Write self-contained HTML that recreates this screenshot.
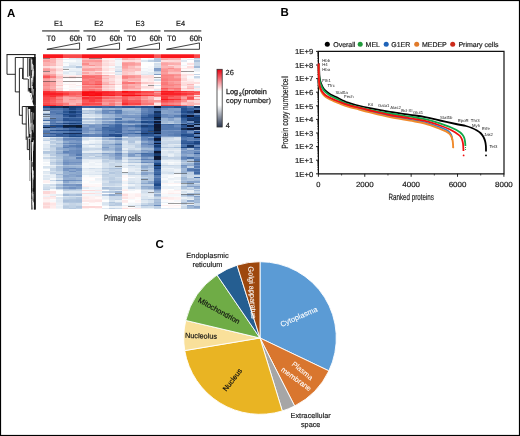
<!DOCTYPE html>
<html><head><meta charset="utf-8"><style>
html,body{margin:0;padding:0;background:#fff;}
svg{display:block;font-family:"Liberation Sans", sans-serif;will-change:transform;text-rendering:geometricPrecision;}
</style></head><body>
<svg width="520" height="436" viewBox="0 0 520 436">
<rect x="0" y="0" width="520" height="436" fill="#fff"/>
<defs><filter id="gb" x="-5%" y="-5%" width="110%" height="110%"><feGaussianBlur stdDeviation="0.22"/></filter><filter id="hb" x="-2%" y="-2%" width="104%" height="104%"><feGaussianBlur stdDeviation="0.35"/></filter><clipPath id="hc"><rect x="43" y="54.2" width="157.3" height="155.2"/></clipPath></defs>
<g clip-path="url(#hc)"><g filter="url(#hb)" shape-rendering="crispEdges"><rect x="43.00" y="54.20" width="6.61" height="1.71" fill="#fa141b"/>
<rect x="49.55" y="54.20" width="6.61" height="1.71" fill="#fa141b"/>
<rect x="56.11" y="54.20" width="6.61" height="1.71" fill="#fa141b"/>
<rect x="62.66" y="54.20" width="6.61" height="1.71" fill="#fa4648"/>
<rect x="69.22" y="54.20" width="6.61" height="1.71" fill="#fa4648"/>
<rect x="75.77" y="54.20" width="6.61" height="1.71" fill="#fa4648"/>
<rect x="82.33" y="54.20" width="6.61" height="1.71" fill="#fa141b"/>
<rect x="88.88" y="54.20" width="6.61" height="1.71" fill="#fa141b"/>
<rect x="95.43" y="54.20" width="6.61" height="1.71" fill="#fa141b"/>
<rect x="101.99" y="54.20" width="6.61" height="1.71" fill="#fa141b"/>
<rect x="108.54" y="54.20" width="6.61" height="1.71" fill="#fa141b"/>
<rect x="115.10" y="54.20" width="6.61" height="1.71" fill="#fa141b"/>
<rect x="121.65" y="54.20" width="6.61" height="1.71" fill="#fa141b"/>
<rect x="128.20" y="54.20" width="6.61" height="1.71" fill="#fa141b"/>
<rect x="134.76" y="54.20" width="6.61" height="1.71" fill="#fa141b"/>
<rect x="141.31" y="54.20" width="6.61" height="1.71" fill="#fa141b"/>
<rect x="147.87" y="54.20" width="6.61" height="1.71" fill="#fa141b"/>
<rect x="154.42" y="54.20" width="6.61" height="1.71" fill="#fa5456"/>
<rect x="160.98" y="54.20" width="6.61" height="1.71" fill="#fa141b"/>
<rect x="167.53" y="54.20" width="6.61" height="1.71" fill="#fa141b"/>
<rect x="174.08" y="54.20" width="6.61" height="1.71" fill="#fa141b"/>
<rect x="180.64" y="54.20" width="6.61" height="1.71" fill="#fa141b"/>
<rect x="187.19" y="54.20" width="6.61" height="1.71" fill="#fa141b"/>
<rect x="193.75" y="54.20" width="6.61" height="1.71" fill="#fa4648"/>
<rect x="43.00" y="55.85" width="6.61" height="1.71" fill="#fa141b"/>
<rect x="49.55" y="55.85" width="6.61" height="1.71" fill="#fa141b"/>
<rect x="56.11" y="55.85" width="6.61" height="1.71" fill="#fa141b"/>
<rect x="62.66" y="55.85" width="6.61" height="1.71" fill="#fa4648"/>
<rect x="69.22" y="55.85" width="6.61" height="1.71" fill="#fa4648"/>
<rect x="75.77" y="55.85" width="6.61" height="1.71" fill="#fa4648"/>
<rect x="82.33" y="55.85" width="6.61" height="1.71" fill="#fa141b"/>
<rect x="88.88" y="55.85" width="6.61" height="1.71" fill="#fa141b"/>
<rect x="95.43" y="55.85" width="6.61" height="1.71" fill="#fa141b"/>
<rect x="101.99" y="55.85" width="6.61" height="1.71" fill="#fa141b"/>
<rect x="108.54" y="55.85" width="6.61" height="1.71" fill="#fa141b"/>
<rect x="115.10" y="55.85" width="6.61" height="1.71" fill="#fa141b"/>
<rect x="121.65" y="55.85" width="6.61" height="1.71" fill="#fa141b"/>
<rect x="128.20" y="55.85" width="6.61" height="1.71" fill="#fa141b"/>
<rect x="134.76" y="55.85" width="6.61" height="1.71" fill="#fa141b"/>
<rect x="141.31" y="55.85" width="6.61" height="1.71" fill="#fa141b"/>
<rect x="147.87" y="55.85" width="6.61" height="1.71" fill="#fa141b"/>
<rect x="154.42" y="55.85" width="6.61" height="1.71" fill="#fa5456"/>
<rect x="160.98" y="55.85" width="6.61" height="1.71" fill="#fa141b"/>
<rect x="167.53" y="55.85" width="6.61" height="1.71" fill="#fa141b"/>
<rect x="174.08" y="55.85" width="6.61" height="1.71" fill="#fa141b"/>
<rect x="180.64" y="55.85" width="6.61" height="1.71" fill="#fa141b"/>
<rect x="187.19" y="55.85" width="6.61" height="1.71" fill="#fa141b"/>
<rect x="193.75" y="55.85" width="6.61" height="1.71" fill="#fa4648"/>
<rect x="43.00" y="57.50" width="6.61" height="1.52" fill="#fbb6b6"/>
<rect x="49.55" y="57.50" width="6.61" height="1.52" fill="#fbacac"/>
<rect x="56.11" y="57.50" width="6.61" height="1.52" fill="#fcdada"/>
<rect x="62.66" y="57.50" width="6.61" height="1.52" fill="#f9fbfc"/>
<rect x="69.22" y="57.50" width="6.61" height="1.52" fill="#dfe8f2"/>
<rect x="75.77" y="57.50" width="6.61" height="1.52" fill="#d8e4ef"/>
<rect x="82.33" y="57.50" width="6.61" height="1.52" fill="#fbabab"/>
<rect x="88.88" y="57.50" width="6.61" height="1.52" fill="#fba7a7"/>
<rect x="95.43" y="57.50" width="6.61" height="1.52" fill="#fba8a8"/>
<rect x="101.99" y="57.50" width="6.61" height="1.52" fill="#fde1e1"/>
<rect x="108.54" y="57.50" width="6.61" height="1.52" fill="#feeaea"/>
<rect x="115.10" y="57.50" width="6.61" height="1.52" fill="#e5edf4"/>
<rect x="121.65" y="57.50" width="6.61" height="1.52" fill="#fbaaaa"/>
<rect x="128.20" y="57.50" width="6.61" height="1.52" fill="#fbbcbc"/>
<rect x="134.76" y="57.50" width="6.61" height="1.52" fill="#fccdcd"/>
<rect x="141.31" y="57.50" width="6.61" height="1.52" fill="#fdfefe"/>
<rect x="147.87" y="57.50" width="6.61" height="1.52" fill="#f8fafc"/>
<rect x="154.42" y="57.50" width="6.61" height="1.52" fill="#b8cbe1"/>
<rect x="160.98" y="57.50" width="6.61" height="1.52" fill="#fbabab"/>
<rect x="167.53" y="57.50" width="6.61" height="1.52" fill="#fbafaf"/>
<rect x="174.08" y="57.50" width="6.61" height="1.52" fill="#fbb2b2"/>
<rect x="180.64" y="57.50" width="6.61" height="1.52" fill="#fef0f0"/>
<rect x="187.19" y="57.50" width="6.61" height="1.52" fill="#fffdfd"/>
<rect x="193.75" y="57.50" width="6.61" height="1.52" fill="#b9cbe1"/>
<rect x="43.00" y="58.96" width="6.61" height="1.52" fill="#fbb1b1"/>
<rect x="49.55" y="58.96" width="6.61" height="1.52" fill="#fbb0b0"/>
<rect x="56.11" y="58.96" width="6.61" height="1.52" fill="#fcd3d3"/>
<rect x="62.66" y="58.96" width="6.61" height="1.52" fill="#e9f0f6"/>
<rect x="69.22" y="58.96" width="6.61" height="1.52" fill="#ebf1f7"/>
<rect x="75.77" y="58.96" width="6.61" height="1.52" fill="#e7eef5"/>
<rect x="82.33" y="58.96" width="6.61" height="1.52" fill="#fbbdbd"/>
<rect x="88.88" y="58.96" width="6.61" height="1.52" fill="#fbb2b2"/>
<rect x="95.43" y="58.96" width="6.61" height="1.52" fill="#fbbebe"/>
<rect x="101.99" y="58.96" width="6.61" height="1.52" fill="#fef4f4"/>
<rect x="108.54" y="58.96" width="6.61" height="1.52" fill="#fef4f4"/>
<rect x="115.10" y="58.96" width="6.61" height="1.52" fill="#e0e9f2"/>
<rect x="121.65" y="58.96" width="6.61" height="1.52" fill="#fba7a7"/>
<rect x="128.20" y="58.96" width="6.61" height="1.52" fill="#fbb5b5"/>
<rect x="134.76" y="58.96" width="6.61" height="1.52" fill="#fcc7c7"/>
<rect x="141.31" y="58.96" width="6.61" height="1.52" fill="#f7f9fc"/>
<rect x="147.87" y="58.96" width="6.61" height="1.52" fill="#e9eff6"/>
<rect x="154.42" y="58.96" width="6.61" height="1.52" fill="#b0c4dd"/>
<rect x="160.98" y="58.96" width="6.61" height="1.52" fill="#fba4a4"/>
<rect x="167.53" y="58.96" width="6.61" height="1.52" fill="#fbb3b3"/>
<rect x="174.08" y="58.96" width="6.61" height="1.52" fill="#fbb5b5"/>
<rect x="180.64" y="58.96" width="6.61" height="1.52" fill="#fef4f4"/>
<rect x="187.19" y="58.96" width="6.61" height="1.52" fill="#e2ebf3"/>
<rect x="193.75" y="58.96" width="6.61" height="1.52" fill="#d3e0ed"/>
<rect x="43.00" y="60.42" width="6.61" height="1.52" fill="#fa9c9c"/>
<rect x="49.55" y="60.42" width="6.61" height="1.52" fill="#fbb3b3"/>
<rect x="56.11" y="60.42" width="6.61" height="1.52" fill="#fddede"/>
<rect x="62.66" y="60.42" width="6.61" height="1.52" fill="#fdfefe"/>
<rect x="69.22" y="60.42" width="6.61" height="1.52" fill="#f9fbfc"/>
<rect x="75.77" y="60.42" width="6.61" height="1.52" fill="#ecf1f7"/>
<rect x="82.33" y="60.42" width="6.61" height="1.52" fill="#fa9b9b"/>
<rect x="88.88" y="60.42" width="6.61" height="1.52" fill="#fa9999"/>
<rect x="95.43" y="60.42" width="6.61" height="1.52" fill="#fa9696"/>
<rect x="101.99" y="60.42" width="6.61" height="1.52" fill="#fcdada"/>
<rect x="108.54" y="60.42" width="6.61" height="1.52" fill="#fde6e6"/>
<rect x="115.10" y="60.42" width="6.61" height="1.52" fill="#f3f6fa"/>
<rect x="121.65" y="60.42" width="6.61" height="1.52" fill="#fddede"/>
<rect x="128.20" y="60.42" width="6.61" height="1.52" fill="#fcdada"/>
<rect x="134.76" y="60.42" width="6.61" height="1.52" fill="#fde0e0"/>
<rect x="141.31" y="60.42" width="6.61" height="1.52" fill="#dbe6f0"/>
<rect x="147.87" y="60.42" width="6.61" height="1.52" fill="#c0d1e4"/>
<rect x="154.42" y="60.42" width="6.61" height="1.52" fill="#afc3dd"/>
<rect x="160.98" y="60.42" width="6.61" height="1.52" fill="#fddede"/>
<rect x="167.53" y="60.42" width="6.61" height="1.52" fill="#fcdada"/>
<rect x="174.08" y="60.42" width="6.61" height="1.52" fill="#fcd7d7"/>
<rect x="180.64" y="60.42" width="6.61" height="1.52" fill="#dee7f1"/>
<rect x="187.19" y="60.42" width="6.61" height="1.52" fill="#ffffff"/>
<rect x="193.75" y="60.42" width="6.61" height="1.52" fill="#abc1db"/>
<rect x="43.00" y="61.88" width="6.61" height="1.52" fill="#fbb1b1"/>
<rect x="49.55" y="61.88" width="6.61" height="1.52" fill="#fbb1b1"/>
<rect x="56.11" y="61.88" width="6.61" height="1.52" fill="#fde1e1"/>
<rect x="62.66" y="61.88" width="6.61" height="1.52" fill="#e9f0f6"/>
<rect x="69.22" y="61.88" width="6.61" height="1.52" fill="#ecf2f7"/>
<rect x="75.77" y="61.88" width="6.61" height="1.52" fill="#eaf0f6"/>
<rect x="82.33" y="61.88" width="6.61" height="1.52" fill="#fba9a9"/>
<rect x="88.88" y="61.88" width="6.61" height="1.52" fill="#fbb2b2"/>
<rect x="95.43" y="61.88" width="6.61" height="1.52" fill="#fbaeae"/>
<rect x="101.99" y="61.88" width="6.61" height="1.52" fill="#fde3e3"/>
<rect x="108.54" y="61.88" width="6.61" height="1.52" fill="#fef0f0"/>
<rect x="115.10" y="61.88" width="6.61" height="1.52" fill="#f2f6fa"/>
<rect x="121.65" y="61.88" width="6.61" height="1.52" fill="#fba9a9"/>
<rect x="128.20" y="61.88" width="6.61" height="1.52" fill="#fba6a6"/>
<rect x="134.76" y="61.88" width="6.61" height="1.52" fill="#fcc5c5"/>
<rect x="141.31" y="61.88" width="6.61" height="1.52" fill="#fdfefe"/>
<rect x="147.87" y="61.88" width="6.61" height="1.52" fill="#fdfefe"/>
<rect x="154.42" y="61.88" width="6.61" height="1.52" fill="#f1f5f9"/>
<rect x="160.98" y="61.88" width="6.61" height="1.52" fill="#fbb0b0"/>
<rect x="167.53" y="61.88" width="6.61" height="1.52" fill="#fbbaba"/>
<rect x="174.08" y="61.88" width="6.61" height="1.52" fill="#fbbfbf"/>
<rect x="180.64" y="61.88" width="6.61" height="1.52" fill="#fffafa"/>
<rect x="187.19" y="61.88" width="6.61" height="1.52" fill="#fffafa"/>
<rect x="193.75" y="61.88" width="6.61" height="1.52" fill="#cad8e8"/>
<rect x="43.00" y="63.33" width="6.61" height="1.52" fill="#fbb0b0"/>
<rect x="49.55" y="63.33" width="6.61" height="1.52" fill="#fbbcbc"/>
<rect x="56.11" y="63.33" width="6.61" height="1.52" fill="#fde0e0"/>
<rect x="62.66" y="63.33" width="6.61" height="1.52" fill="#f8fafc"/>
<rect x="69.22" y="63.33" width="6.61" height="1.52" fill="#e5ecf4"/>
<rect x="75.77" y="63.33" width="6.61" height="1.52" fill="#e4ecf4"/>
<rect x="82.33" y="63.33" width="6.61" height="1.52" fill="#fa8c8c"/>
<rect x="88.88" y="63.33" width="6.61" height="1.52" fill="#fbb4b4"/>
<rect x="95.43" y="63.33" width="6.61" height="1.52" fill="#fbafaf"/>
<rect x="101.99" y="63.33" width="6.61" height="1.52" fill="#fddcdc"/>
<rect x="108.54" y="63.33" width="6.61" height="1.52" fill="#fde7e7"/>
<rect x="115.10" y="63.33" width="6.61" height="1.52" fill="#f0f5f9"/>
<rect x="121.65" y="63.33" width="6.61" height="1.52" fill="#fa9494"/>
<rect x="128.20" y="63.33" width="6.61" height="1.52" fill="#fa9c9c"/>
<rect x="134.76" y="63.33" width="6.61" height="1.52" fill="#fba7a7"/>
<rect x="141.31" y="63.33" width="6.61" height="1.52" fill="#fdfefe"/>
<rect x="147.87" y="63.33" width="6.61" height="1.52" fill="#fdfefe"/>
<rect x="154.42" y="63.33" width="6.61" height="1.52" fill="#d1deec"/>
<rect x="160.98" y="63.33" width="6.61" height="1.52" fill="#fba2a2"/>
<rect x="167.53" y="63.33" width="6.61" height="1.52" fill="#fbabab"/>
<rect x="174.08" y="63.33" width="6.61" height="1.52" fill="#fbafaf"/>
<rect x="180.64" y="63.33" width="6.61" height="1.52" fill="#fcfdfe"/>
<rect x="187.19" y="63.33" width="6.61" height="1.52" fill="#fde2e2"/>
<rect x="193.75" y="63.33" width="6.61" height="1.52" fill="#c9d8e8"/>
<rect x="43.00" y="64.79" width="6.61" height="1.52" fill="#fbabab"/>
<rect x="49.55" y="64.79" width="6.61" height="1.52" fill="#fbb8b8"/>
<rect x="56.11" y="64.79" width="6.61" height="1.52" fill="#fcdada"/>
<rect x="62.66" y="64.79" width="6.61" height="1.52" fill="#fcfdfe"/>
<rect x="69.22" y="64.79" width="6.61" height="1.52" fill="#d7e2ee"/>
<rect x="75.77" y="64.79" width="6.61" height="1.52" fill="#ebf1f7"/>
<rect x="82.33" y="64.79" width="6.61" height="1.52" fill="#fba5a5"/>
<rect x="88.88" y="64.79" width="6.61" height="1.52" fill="#fa9292"/>
<rect x="95.43" y="64.79" width="6.61" height="1.52" fill="#fbadad"/>
<rect x="101.99" y="64.79" width="6.61" height="1.52" fill="#fcd9d9"/>
<rect x="108.54" y="64.79" width="6.61" height="1.52" fill="#fde0e0"/>
<rect x="115.10" y="64.79" width="6.61" height="1.52" fill="#f2f6f9"/>
<rect x="121.65" y="64.79" width="6.61" height="1.52" fill="#fa9898"/>
<rect x="128.20" y="64.79" width="6.61" height="1.52" fill="#fba4a4"/>
<rect x="134.76" y="64.79" width="6.61" height="1.52" fill="#fbb2b2"/>
<rect x="141.31" y="64.79" width="6.61" height="1.52" fill="#fdfefe"/>
<rect x="147.87" y="64.79" width="6.61" height="1.52" fill="#fdfefe"/>
<rect x="154.42" y="64.79" width="6.61" height="1.52" fill="#d7e2ee"/>
<rect x="160.98" y="64.79" width="6.61" height="1.52" fill="#fbadad"/>
<rect x="167.53" y="64.79" width="6.61" height="1.52" fill="#fcd7d7"/>
<rect x="174.08" y="64.79" width="6.61" height="1.52" fill="#fccbcb"/>
<rect x="180.64" y="64.79" width="6.61" height="1.52" fill="#f1f5f9"/>
<rect x="187.19" y="64.79" width="6.61" height="1.52" fill="#fffbfb"/>
<rect x="193.75" y="64.79" width="6.61" height="1.52" fill="#c9d8e8"/>
<rect x="43.00" y="66.25" width="6.61" height="1.52" fill="#fcdada"/>
<rect x="49.55" y="66.25" width="6.61" height="1.52" fill="#fde4e4"/>
<rect x="56.11" y="66.25" width="6.61" height="1.52" fill="#fef1f1"/>
<rect x="62.66" y="66.25" width="6.61" height="1.52" fill="#d6e2ee"/>
<rect x="69.22" y="66.25" width="6.61" height="1.52" fill="#cfddeb"/>
<rect x="75.77" y="66.25" width="6.61" height="1.52" fill="#b0c5dd"/>
<rect x="82.33" y="66.25" width="6.61" height="1.52" fill="#fcc3c3"/>
<rect x="88.88" y="66.25" width="6.61" height="1.52" fill="#fccdcd"/>
<rect x="95.43" y="66.25" width="6.61" height="1.52" fill="#fcc4c4"/>
<rect x="101.99" y="66.25" width="6.61" height="1.52" fill="#feebeb"/>
<rect x="108.54" y="66.25" width="6.61" height="1.52" fill="#f7fafc"/>
<rect x="115.10" y="66.25" width="6.61" height="1.52" fill="#dce6f0"/>
<rect x="121.65" y="66.25" width="6.61" height="1.52" fill="#fba0a0"/>
<rect x="128.20" y="66.25" width="6.61" height="1.52" fill="#fbbdbd"/>
<rect x="134.76" y="66.25" width="6.61" height="1.52" fill="#fcd5d5"/>
<rect x="141.31" y="66.25" width="6.61" height="1.52" fill="#fdfefe"/>
<rect x="147.87" y="66.25" width="6.61" height="1.52" fill="#f7f9fc"/>
<rect x="154.42" y="66.25" width="6.61" height="1.52" fill="#cfddeb"/>
<rect x="160.98" y="66.25" width="6.61" height="1.52" fill="#fbb5b5"/>
<rect x="167.53" y="66.25" width="6.61" height="1.52" fill="#fbb3b3"/>
<rect x="174.08" y="66.25" width="6.61" height="1.52" fill="#fccfcf"/>
<rect x="180.64" y="66.25" width="6.61" height="1.52" fill="#fffafa"/>
<rect x="187.19" y="66.25" width="6.61" height="1.52" fill="#fddcdc"/>
<rect x="193.75" y="66.25" width="6.61" height="1.52" fill="#a3bad7"/>
<rect x="43.00" y="67.71" width="6.61" height="1.52" fill="#fba9a9"/>
<rect x="49.55" y="67.71" width="6.61" height="1.52" fill="#fcc9c9"/>
<rect x="56.11" y="67.71" width="6.61" height="1.52" fill="#fddfdf"/>
<rect x="62.66" y="67.71" width="6.61" height="1.52" fill="#e8eff5"/>
<rect x="69.22" y="67.71" width="6.61" height="1.52" fill="#f1f5f9"/>
<rect x="75.77" y="67.71" width="6.61" height="1.52" fill="#e7eef5"/>
<rect x="82.33" y="67.71" width="6.61" height="1.52" fill="#fbabab"/>
<rect x="88.88" y="67.71" width="6.61" height="1.52" fill="#fba5a5"/>
<rect x="95.43" y="67.71" width="6.61" height="1.52" fill="#fba5a5"/>
<rect x="101.99" y="67.71" width="6.61" height="1.52" fill="#fde1e1"/>
<rect x="108.54" y="67.71" width="6.61" height="1.52" fill="#fde7e7"/>
<rect x="115.10" y="67.71" width="6.61" height="1.52" fill="#e8eef5"/>
<rect x="121.65" y="67.71" width="6.61" height="1.52" fill="#fba9a9"/>
<rect x="128.20" y="67.71" width="6.61" height="1.52" fill="#fbb7b7"/>
<rect x="134.76" y="67.71" width="6.61" height="1.52" fill="#fbbdbd"/>
<rect x="141.31" y="67.71" width="6.61" height="1.52" fill="#f0f4f9"/>
<rect x="147.87" y="67.71" width="6.61" height="1.52" fill="#f7f9fc"/>
<rect x="154.42" y="67.71" width="6.61" height="1.52" fill="#819ec8"/>
<rect x="160.98" y="67.71" width="6.61" height="1.52" fill="#fb9f9f"/>
<rect x="167.53" y="67.71" width="6.61" height="1.52" fill="#fa8c8c"/>
<rect x="174.08" y="67.71" width="6.61" height="1.52" fill="#fba6a6"/>
<rect x="180.64" y="67.71" width="6.61" height="1.52" fill="#fde6e6"/>
<rect x="187.19" y="67.71" width="6.61" height="1.52" fill="#fde9e9"/>
<rect x="193.75" y="67.71" width="6.61" height="1.52" fill="#e8eff6"/>
<rect x="43.00" y="69.17" width="6.61" height="1.52" fill="#fa9b9b"/>
<rect x="49.55" y="69.17" width="6.61" height="1.52" fill="#fbb1b1"/>
<rect x="56.11" y="69.17" width="6.61" height="1.52" fill="#fcd7d7"/>
<rect x="62.66" y="69.17" width="6.61" height="1.52" fill="#fdfefe"/>
<rect x="69.22" y="69.17" width="6.61" height="1.52" fill="#eaf0f6"/>
<rect x="75.77" y="69.17" width="6.61" height="1.52" fill="#ebf1f7"/>
<rect x="82.33" y="69.17" width="6.61" height="1.52" fill="#fa9d9d"/>
<rect x="88.88" y="69.17" width="6.61" height="1.52" fill="#fb9f9f"/>
<rect x="95.43" y="69.17" width="6.61" height="1.52" fill="#fbaeae"/>
<rect x="101.99" y="69.17" width="6.61" height="1.52" fill="#fddede"/>
<rect x="108.54" y="69.17" width="6.61" height="1.52" fill="#feeeee"/>
<rect x="115.10" y="69.17" width="6.61" height="1.52" fill="#dfe8f2"/>
<rect x="121.65" y="69.17" width="6.61" height="1.52" fill="#fbb9b9"/>
<rect x="128.20" y="69.17" width="6.61" height="1.52" fill="#fcc3c3"/>
<rect x="134.76" y="69.17" width="6.61" height="1.52" fill="#fbbcbc"/>
<rect x="141.31" y="69.17" width="6.61" height="1.52" fill="#f6f9fb"/>
<rect x="147.87" y="69.17" width="6.61" height="1.52" fill="#f0f4f9"/>
<rect x="154.42" y="69.17" width="6.61" height="1.52" fill="#84a0c9"/>
<rect x="160.98" y="69.17" width="6.61" height="1.52" fill="#fa9696"/>
<rect x="167.53" y="69.17" width="6.61" height="1.52" fill="#fba8a8"/>
<rect x="174.08" y="69.17" width="6.61" height="1.52" fill="#fb9f9f"/>
<rect x="180.64" y="69.17" width="6.61" height="1.52" fill="#fef8f8"/>
<rect x="187.19" y="69.17" width="6.61" height="1.52" fill="#fef8f8"/>
<rect x="193.75" y="69.17" width="6.61" height="1.52" fill="#e6edf4"/>
<rect x="43.00" y="70.62" width="6.61" height="1.52" fill="#fcc3c3"/>
<rect x="49.55" y="70.62" width="6.61" height="1.52" fill="#fcc4c4"/>
<rect x="56.11" y="70.62" width="6.61" height="1.52" fill="#fde7e7"/>
<rect x="62.66" y="70.62" width="6.61" height="1.52" fill="#e7eef5"/>
<rect x="69.22" y="70.62" width="6.61" height="1.52" fill="#dbe5f0"/>
<rect x="75.77" y="70.62" width="6.61" height="1.52" fill="#dce6f0"/>
<rect x="82.33" y="70.62" width="6.61" height="1.52" fill="#fccaca"/>
<rect x="88.88" y="70.62" width="6.61" height="1.52" fill="#fccccc"/>
<rect x="95.43" y="70.62" width="6.61" height="1.52" fill="#fde1e1"/>
<rect x="101.99" y="70.62" width="6.61" height="1.52" fill="#fef6f6"/>
<rect x="108.54" y="70.62" width="6.61" height="1.52" fill="#fdfefe"/>
<rect x="115.10" y="70.62" width="6.61" height="1.52" fill="#bfd0e4"/>
<rect x="121.65" y="70.62" width="6.61" height="1.52" fill="#fcc8c8"/>
<rect x="128.20" y="70.62" width="6.61" height="1.52" fill="#fcc5c5"/>
<rect x="134.76" y="70.62" width="6.61" height="1.52" fill="#fde4e4"/>
<rect x="141.31" y="70.62" width="6.61" height="1.52" fill="#eaf0f6"/>
<rect x="147.87" y="70.62" width="6.61" height="1.52" fill="#f3f7fa"/>
<rect x="154.42" y="70.62" width="6.61" height="1.52" fill="#bacce2"/>
<rect x="160.98" y="70.62" width="6.61" height="1.52" fill="#fa9191"/>
<rect x="167.53" y="70.62" width="6.61" height="1.52" fill="#fbabab"/>
<rect x="174.08" y="70.62" width="6.61" height="1.52" fill="#fbaaaa"/>
<rect x="180.64" y="70.62" width="6.61" height="1.52" fill="#feeeee"/>
<rect x="187.19" y="70.62" width="6.61" height="1.52" fill="#fffbfb"/>
<rect x="193.75" y="70.62" width="6.61" height="1.52" fill="#eef3f8"/>
<rect x="43.00" y="72.08" width="6.61" height="1.52" fill="#fbb2b2"/>
<rect x="49.55" y="72.08" width="6.61" height="1.52" fill="#fcc6c6"/>
<rect x="56.11" y="72.08" width="6.61" height="1.52" fill="#feeded"/>
<rect x="62.66" y="72.08" width="6.61" height="1.52" fill="#e0e9f2"/>
<rect x="69.22" y="72.08" width="6.61" height="1.52" fill="#eff4f8"/>
<rect x="75.77" y="72.08" width="6.61" height="1.52" fill="#dee7f1"/>
<rect x="82.33" y="72.08" width="6.61" height="1.52" fill="#fba5a5"/>
<rect x="88.88" y="72.08" width="6.61" height="1.52" fill="#fcc2c2"/>
<rect x="95.43" y="72.08" width="6.61" height="1.52" fill="#fbadad"/>
<rect x="101.99" y="72.08" width="6.61" height="1.52" fill="#fde3e3"/>
<rect x="108.54" y="72.08" width="6.61" height="1.52" fill="#fde9e9"/>
<rect x="115.10" y="72.08" width="6.61" height="1.52" fill="#e7eef5"/>
<rect x="121.65" y="72.08" width="6.61" height="1.52" fill="#fcc7c7"/>
<rect x="128.20" y="72.08" width="6.61" height="1.52" fill="#fcd4d4"/>
<rect x="134.76" y="72.08" width="6.61" height="1.52" fill="#fde6e6"/>
<rect x="141.31" y="72.08" width="6.61" height="1.52" fill="#ecf1f7"/>
<rect x="147.87" y="72.08" width="6.61" height="1.52" fill="#e2ebf3"/>
<rect x="154.42" y="72.08" width="6.61" height="1.52" fill="#d0ddeb"/>
<rect x="160.98" y="72.08" width="6.61" height="1.52" fill="#fa9d9d"/>
<rect x="167.53" y="72.08" width="6.61" height="1.52" fill="#fcc2c2"/>
<rect x="174.08" y="72.08" width="6.61" height="1.52" fill="#fbc1c1"/>
<rect x="180.64" y="72.08" width="6.61" height="1.52" fill="#fff8f8"/>
<rect x="187.19" y="72.08" width="6.61" height="1.52" fill="#fbfcfd"/>
<rect x="193.75" y="72.08" width="6.61" height="1.52" fill="#fdfefe"/>
<rect x="43.00" y="73.54" width="6.61" height="1.52" fill="#fa9e9e"/>
<rect x="49.55" y="73.54" width="6.61" height="1.52" fill="#fba3a3"/>
<rect x="56.11" y="73.54" width="6.61" height="1.52" fill="#fcd8d8"/>
<rect x="62.66" y="73.54" width="6.61" height="1.52" fill="#eff4f8"/>
<rect x="69.22" y="73.54" width="6.61" height="1.52" fill="#edf2f7"/>
<rect x="75.77" y="73.54" width="6.61" height="1.52" fill="#d5e1ee"/>
<rect x="82.33" y="73.54" width="6.61" height="1.52" fill="#fcc4c4"/>
<rect x="88.88" y="73.54" width="6.61" height="1.52" fill="#fbbebe"/>
<rect x="95.43" y="73.54" width="6.61" height="1.52" fill="#fbc0c0"/>
<rect x="101.99" y="73.54" width="6.61" height="1.52" fill="#fef4f4"/>
<rect x="108.54" y="73.54" width="6.61" height="1.52" fill="#fffdfd"/>
<rect x="115.10" y="73.54" width="6.61" height="1.52" fill="#d9e4ef"/>
<rect x="121.65" y="73.54" width="6.61" height="1.52" fill="#fcc9c9"/>
<rect x="128.20" y="73.54" width="6.61" height="1.52" fill="#fcd7d7"/>
<rect x="134.76" y="73.54" width="6.61" height="1.52" fill="#fddede"/>
<rect x="141.31" y="73.54" width="6.61" height="1.52" fill="#dde7f1"/>
<rect x="147.87" y="73.54" width="6.61" height="1.52" fill="#e1eaf3"/>
<rect x="154.42" y="73.54" width="6.61" height="1.52" fill="#809dc7"/>
<rect x="160.98" y="73.54" width="6.61" height="1.52" fill="#fa8e8e"/>
<rect x="167.53" y="73.54" width="6.61" height="1.52" fill="#fa9090"/>
<rect x="174.08" y="73.54" width="6.61" height="1.52" fill="#fa9696"/>
<rect x="180.64" y="73.54" width="6.61" height="1.52" fill="#fde2e2"/>
<rect x="187.19" y="73.54" width="6.61" height="1.52" fill="#fde1e1"/>
<rect x="193.75" y="73.54" width="6.61" height="1.52" fill="#c3d3e6"/>
<rect x="43.00" y="75.00" width="6.61" height="1.48" fill="#fa7576"/>
<rect x="49.55" y="75.00" width="6.61" height="1.48" fill="#fa9c9c"/>
<rect x="56.11" y="75.00" width="6.61" height="1.48" fill="#fcd6d6"/>
<rect x="62.66" y="75.00" width="6.61" height="1.48" fill="#feeeee"/>
<rect x="69.22" y="75.00" width="6.61" height="1.48" fill="#fef0f0"/>
<rect x="75.77" y="75.00" width="6.61" height="1.48" fill="#feeaea"/>
<rect x="82.33" y="75.00" width="6.61" height="1.48" fill="#fa7373"/>
<rect x="88.88" y="75.00" width="6.61" height="1.48" fill="#fa8081"/>
<rect x="95.43" y="75.00" width="6.61" height="1.48" fill="#fa7778"/>
<rect x="101.99" y="75.00" width="6.61" height="1.48" fill="#fba8a8"/>
<rect x="108.54" y="75.00" width="6.61" height="1.48" fill="#fccccc"/>
<rect x="115.10" y="75.00" width="6.61" height="1.48" fill="#feecec"/>
<rect x="121.65" y="75.00" width="6.61" height="1.48" fill="#fa9999"/>
<rect x="128.20" y="75.00" width="6.61" height="1.48" fill="#fa9b9b"/>
<rect x="134.76" y="75.00" width="6.61" height="1.48" fill="#fba3a3"/>
<rect x="141.31" y="75.00" width="6.61" height="1.48" fill="#fde2e2"/>
<rect x="147.87" y="75.00" width="6.61" height="1.48" fill="#fcdbdb"/>
<rect x="154.42" y="75.00" width="6.61" height="1.48" fill="#ffffff"/>
<rect x="160.98" y="75.00" width="6.61" height="1.48" fill="#fa7f7f"/>
<rect x="167.53" y="75.00" width="6.61" height="1.48" fill="#fa8282"/>
<rect x="174.08" y="75.00" width="6.61" height="1.48" fill="#fa9090"/>
<rect x="180.64" y="75.00" width="6.61" height="1.48" fill="#fddddd"/>
<rect x="187.19" y="75.00" width="6.61" height="1.48" fill="#feeeee"/>
<rect x="193.75" y="75.00" width="6.61" height="1.48" fill="#fffefe"/>
<rect x="43.00" y="76.42" width="6.61" height="1.48" fill="#fa5759"/>
<rect x="49.55" y="76.42" width="6.61" height="1.48" fill="#fa7c7d"/>
<rect x="56.11" y="76.42" width="6.61" height="1.48" fill="#fbbdbd"/>
<rect x="62.66" y="76.42" width="6.61" height="1.48" fill="#fde7e7"/>
<rect x="69.22" y="76.42" width="6.61" height="1.48" fill="#fcd6d6"/>
<rect x="75.77" y="76.42" width="6.61" height="1.48" fill="#fde9e9"/>
<rect x="82.33" y="76.42" width="6.61" height="1.48" fill="#fa6a6b"/>
<rect x="88.88" y="76.42" width="6.61" height="1.48" fill="#fa696a"/>
<rect x="95.43" y="76.42" width="6.61" height="1.48" fill="#fa7677"/>
<rect x="101.99" y="76.42" width="6.61" height="1.48" fill="#fcc9c9"/>
<rect x="108.54" y="76.42" width="6.61" height="1.48" fill="#fccfcf"/>
<rect x="115.10" y="76.42" width="6.61" height="1.48" fill="#fde7e7"/>
<rect x="121.65" y="76.42" width="6.61" height="1.48" fill="#fa8080"/>
<rect x="128.20" y="76.42" width="6.61" height="1.48" fill="#fa9090"/>
<rect x="134.76" y="76.42" width="6.61" height="1.48" fill="#fb9e9e"/>
<rect x="141.31" y="76.42" width="6.61" height="1.48" fill="#fcd9d9"/>
<rect x="147.87" y="76.42" width="6.61" height="1.48" fill="#fcdbdb"/>
<rect x="154.42" y="76.42" width="6.61" height="1.48" fill="#fffbfb"/>
<rect x="160.98" y="76.42" width="6.61" height="1.48" fill="#fa8787"/>
<rect x="167.53" y="76.42" width="6.61" height="1.48" fill="#fa8b8b"/>
<rect x="174.08" y="76.42" width="6.61" height="1.48" fill="#fba3a3"/>
<rect x="180.64" y="76.42" width="6.61" height="1.48" fill="#fde6e6"/>
<rect x="187.19" y="76.42" width="6.61" height="1.48" fill="#fafbfd"/>
<rect x="193.75" y="76.42" width="6.61" height="1.48" fill="#c5d5e7"/>
<rect x="43.00" y="77.84" width="6.61" height="1.48" fill="#fa8f8f"/>
<rect x="49.55" y="77.84" width="6.61" height="1.48" fill="#fbb4b4"/>
<rect x="56.11" y="77.84" width="6.61" height="1.48" fill="#fccaca"/>
<rect x="62.66" y="77.84" width="6.61" height="1.48" fill="#fef7f7"/>
<rect x="69.22" y="77.84" width="6.61" height="1.48" fill="#fef1f1"/>
<rect x="75.77" y="77.84" width="6.61" height="1.48" fill="#ffffff"/>
<rect x="82.33" y="77.84" width="6.61" height="1.48" fill="#fa7374"/>
<rect x="88.88" y="77.84" width="6.61" height="1.48" fill="#fa8282"/>
<rect x="95.43" y="77.84" width="6.61" height="1.48" fill="#fa7071"/>
<rect x="101.99" y="77.84" width="6.61" height="1.48" fill="#fbb6b6"/>
<rect x="108.54" y="77.84" width="6.61" height="1.48" fill="#fddcdc"/>
<rect x="115.10" y="77.84" width="6.61" height="1.48" fill="#feeaea"/>
<rect x="121.65" y="77.84" width="6.61" height="1.48" fill="#fa8a8a"/>
<rect x="128.20" y="77.84" width="6.61" height="1.48" fill="#fbadad"/>
<rect x="134.76" y="77.84" width="6.61" height="1.48" fill="#fbb5b5"/>
<rect x="141.31" y="77.84" width="6.61" height="1.48" fill="#fde7e7"/>
<rect x="147.87" y="77.84" width="6.61" height="1.48" fill="#fde5e5"/>
<rect x="154.42" y="77.84" width="6.61" height="1.48" fill="#f4f7fa"/>
<rect x="160.98" y="77.84" width="6.61" height="1.48" fill="#fa8080"/>
<rect x="167.53" y="77.84" width="6.61" height="1.48" fill="#fa8989"/>
<rect x="174.08" y="77.84" width="6.61" height="1.48" fill="#fa9090"/>
<rect x="180.64" y="77.84" width="6.61" height="1.48" fill="#fcd8d8"/>
<rect x="187.19" y="77.84" width="6.61" height="1.48" fill="#fef8f8"/>
<rect x="193.75" y="77.84" width="6.61" height="1.48" fill="#e4ecf4"/>
<rect x="43.00" y="79.25" width="6.61" height="1.48" fill="#fba2a2"/>
<rect x="49.55" y="79.25" width="6.61" height="1.48" fill="#fbb9b9"/>
<rect x="56.11" y="79.25" width="6.61" height="1.48" fill="#fddcdc"/>
<rect x="62.66" y="79.25" width="6.61" height="1.48" fill="#ffffff"/>
<rect x="69.22" y="79.25" width="6.61" height="1.48" fill="#fffdfd"/>
<rect x="75.77" y="79.25" width="6.61" height="1.48" fill="#ffffff"/>
<rect x="82.33" y="79.25" width="6.61" height="1.48" fill="#fa8484"/>
<rect x="88.88" y="79.25" width="6.61" height="1.48" fill="#fa7778"/>
<rect x="95.43" y="79.25" width="6.61" height="1.48" fill="#fa7f7f"/>
<rect x="101.99" y="79.25" width="6.61" height="1.48" fill="#fccbcb"/>
<rect x="108.54" y="79.25" width="6.61" height="1.48" fill="#fddddd"/>
<rect x="115.10" y="79.25" width="6.61" height="1.48" fill="#fef1f1"/>
<rect x="121.65" y="79.25" width="6.61" height="1.48" fill="#fbb3b3"/>
<rect x="128.20" y="79.25" width="6.61" height="1.48" fill="#fbb0b0"/>
<rect x="134.76" y="79.25" width="6.61" height="1.48" fill="#fbafaf"/>
<rect x="141.31" y="79.25" width="6.61" height="1.48" fill="#fef0f0"/>
<rect x="147.87" y="79.25" width="6.61" height="1.48" fill="#fde7e7"/>
<rect x="154.42" y="79.25" width="6.61" height="1.48" fill="#d0ddeb"/>
<rect x="160.98" y="79.25" width="6.61" height="1.48" fill="#fa7a7b"/>
<rect x="167.53" y="79.25" width="6.61" height="1.48" fill="#fa8888"/>
<rect x="174.08" y="79.25" width="6.61" height="1.48" fill="#fa8888"/>
<rect x="180.64" y="79.25" width="6.61" height="1.48" fill="#fcd7d7"/>
<rect x="187.19" y="79.25" width="6.61" height="1.48" fill="#feefef"/>
<rect x="193.75" y="79.25" width="6.61" height="1.48" fill="#fef7f7"/>
<rect x="43.00" y="80.67" width="6.61" height="1.48" fill="#fa7778"/>
<rect x="49.55" y="80.67" width="6.61" height="1.48" fill="#fa9494"/>
<rect x="56.11" y="80.67" width="6.61" height="1.48" fill="#fccbcb"/>
<rect x="62.66" y="80.67" width="6.61" height="1.48" fill="#feebeb"/>
<rect x="69.22" y="80.67" width="6.61" height="1.48" fill="#feeaea"/>
<rect x="75.77" y="80.67" width="6.61" height="1.48" fill="#feeaea"/>
<rect x="82.33" y="80.67" width="6.61" height="1.48" fill="#fa7273"/>
<rect x="88.88" y="80.67" width="6.61" height="1.48" fill="#fa7a7b"/>
<rect x="95.43" y="80.67" width="6.61" height="1.48" fill="#fa6768"/>
<rect x="101.99" y="80.67" width="6.61" height="1.48" fill="#fcc7c7"/>
<rect x="108.54" y="80.67" width="6.61" height="1.48" fill="#fccccc"/>
<rect x="115.10" y="80.67" width="6.61" height="1.48" fill="#feecec"/>
<rect x="121.65" y="80.67" width="6.61" height="1.48" fill="#fa9d9d"/>
<rect x="128.20" y="80.67" width="6.61" height="1.48" fill="#fccaca"/>
<rect x="134.76" y="80.67" width="6.61" height="1.48" fill="#fcc3c3"/>
<rect x="141.31" y="80.67" width="6.61" height="1.48" fill="#feeeee"/>
<rect x="147.87" y="80.67" width="6.61" height="1.48" fill="#feecec"/>
<rect x="154.42" y="80.67" width="6.61" height="1.48" fill="#fffbfb"/>
<rect x="160.98" y="80.67" width="6.61" height="1.48" fill="#fa8d8d"/>
<rect x="167.53" y="80.67" width="6.61" height="1.48" fill="#fb9f9f"/>
<rect x="174.08" y="80.67" width="6.61" height="1.48" fill="#fba5a5"/>
<rect x="180.64" y="80.67" width="6.61" height="1.48" fill="#feecec"/>
<rect x="187.19" y="80.67" width="6.61" height="1.48" fill="#fde8e8"/>
<rect x="193.75" y="80.67" width="6.61" height="1.48" fill="#fef7f7"/>
<rect x="43.00" y="82.09" width="6.61" height="1.48" fill="#fa9393"/>
<rect x="49.55" y="82.09" width="6.61" height="1.48" fill="#fba2a2"/>
<rect x="56.11" y="82.09" width="6.61" height="1.48" fill="#fddbdb"/>
<rect x="62.66" y="82.09" width="6.61" height="1.48" fill="#fbfcfd"/>
<rect x="69.22" y="82.09" width="6.61" height="1.48" fill="#fff9f9"/>
<rect x="75.77" y="82.09" width="6.61" height="1.48" fill="#fffafa"/>
<rect x="82.33" y="82.09" width="6.61" height="1.48" fill="#fa7172"/>
<rect x="88.88" y="82.09" width="6.61" height="1.48" fill="#fa7e7f"/>
<rect x="95.43" y="82.09" width="6.61" height="1.48" fill="#fa6d6e"/>
<rect x="101.99" y="82.09" width="6.61" height="1.48" fill="#fbb5b5"/>
<rect x="108.54" y="82.09" width="6.61" height="1.48" fill="#fcd6d6"/>
<rect x="115.10" y="82.09" width="6.61" height="1.48" fill="#feebeb"/>
<rect x="121.65" y="82.09" width="6.61" height="1.48" fill="#fa7879"/>
<rect x="128.20" y="82.09" width="6.61" height="1.48" fill="#fa7575"/>
<rect x="134.76" y="82.09" width="6.61" height="1.48" fill="#fa8f8f"/>
<rect x="141.31" y="82.09" width="6.61" height="1.48" fill="#fcc9c9"/>
<rect x="147.87" y="82.09" width="6.61" height="1.48" fill="#fcd3d3"/>
<rect x="154.42" y="82.09" width="6.61" height="1.48" fill="#fde5e5"/>
<rect x="160.98" y="82.09" width="6.61" height="1.48" fill="#fa797a"/>
<rect x="167.53" y="82.09" width="6.61" height="1.48" fill="#fa9292"/>
<rect x="174.08" y="82.09" width="6.61" height="1.48" fill="#fb9f9f"/>
<rect x="180.64" y="82.09" width="6.61" height="1.48" fill="#fddede"/>
<rect x="187.19" y="82.09" width="6.61" height="1.48" fill="#fde0e0"/>
<rect x="193.75" y="82.09" width="6.61" height="1.48" fill="#fddede"/>
<rect x="43.00" y="83.51" width="6.61" height="1.48" fill="#fa9090"/>
<rect x="49.55" y="83.51" width="6.61" height="1.48" fill="#fba4a4"/>
<rect x="56.11" y="83.51" width="6.61" height="1.48" fill="#fde0e0"/>
<rect x="62.66" y="83.51" width="6.61" height="1.48" fill="#feefef"/>
<rect x="69.22" y="83.51" width="6.61" height="1.48" fill="#feeeee"/>
<rect x="75.77" y="83.51" width="6.61" height="1.48" fill="#ffffff"/>
<rect x="82.33" y="83.51" width="6.61" height="1.48" fill="#fa6162"/>
<rect x="88.88" y="83.51" width="6.61" height="1.48" fill="#fa6263"/>
<rect x="95.43" y="83.51" width="6.61" height="1.48" fill="#fa4e50"/>
<rect x="101.99" y="83.51" width="6.61" height="1.48" fill="#fba4a4"/>
<rect x="108.54" y="83.51" width="6.61" height="1.48" fill="#fbb2b2"/>
<rect x="115.10" y="83.51" width="6.61" height="1.48" fill="#fcd8d8"/>
<rect x="121.65" y="83.51" width="6.61" height="1.48" fill="#fa9b9b"/>
<rect x="128.20" y="83.51" width="6.61" height="1.48" fill="#fbb1b1"/>
<rect x="134.76" y="83.51" width="6.61" height="1.48" fill="#fbafaf"/>
<rect x="141.31" y="83.51" width="6.61" height="1.48" fill="#fef0f0"/>
<rect x="147.87" y="83.51" width="6.61" height="1.48" fill="#fde8e8"/>
<rect x="154.42" y="83.51" width="6.61" height="1.48" fill="#fffcfc"/>
<rect x="160.98" y="83.51" width="6.61" height="1.48" fill="#fa7576"/>
<rect x="167.53" y="83.51" width="6.61" height="1.48" fill="#fa8888"/>
<rect x="174.08" y="83.51" width="6.61" height="1.48" fill="#fa8686"/>
<rect x="180.64" y="83.51" width="6.61" height="1.48" fill="#fcdada"/>
<rect x="187.19" y="83.51" width="6.61" height="1.48" fill="#fbb7b7"/>
<rect x="193.75" y="83.51" width="6.61" height="1.48" fill="#fffcfc"/>
<rect x="43.00" y="84.93" width="6.61" height="1.48" fill="#fa8989"/>
<rect x="49.55" y="84.93" width="6.61" height="1.48" fill="#fba2a2"/>
<rect x="56.11" y="84.93" width="6.61" height="1.48" fill="#fcc8c8"/>
<rect x="62.66" y="84.93" width="6.61" height="1.48" fill="#fffefe"/>
<rect x="69.22" y="84.93" width="6.61" height="1.48" fill="#fef7f7"/>
<rect x="75.77" y="84.93" width="6.61" height="1.48" fill="#feebeb"/>
<rect x="82.33" y="84.93" width="6.61" height="1.48" fill="#fa9d9d"/>
<rect x="88.88" y="84.93" width="6.61" height="1.48" fill="#fa9191"/>
<rect x="95.43" y="84.93" width="6.61" height="1.48" fill="#fa9090"/>
<rect x="101.99" y="84.93" width="6.61" height="1.48" fill="#fcd7d7"/>
<rect x="108.54" y="84.93" width="6.61" height="1.48" fill="#fde0e0"/>
<rect x="115.10" y="84.93" width="6.61" height="1.48" fill="#fffbfb"/>
<rect x="121.65" y="84.93" width="6.61" height="1.48" fill="#fa9d9d"/>
<rect x="128.20" y="84.93" width="6.61" height="1.48" fill="#fbadad"/>
<rect x="134.76" y="84.93" width="6.61" height="1.48" fill="#fbafaf"/>
<rect x="141.31" y="84.93" width="6.61" height="1.48" fill="#fef6f6"/>
<rect x="147.87" y="84.93" width="6.61" height="1.48" fill="#fef0f0"/>
<rect x="154.42" y="84.93" width="6.61" height="1.48" fill="#d4e0ed"/>
<rect x="160.98" y="84.93" width="6.61" height="1.48" fill="#fa8585"/>
<rect x="167.53" y="84.93" width="6.61" height="1.48" fill="#fa8383"/>
<rect x="174.08" y="84.93" width="6.61" height="1.48" fill="#fa9696"/>
<rect x="180.64" y="84.93" width="6.61" height="1.48" fill="#fcd9d9"/>
<rect x="187.19" y="84.93" width="6.61" height="1.48" fill="#fcd6d6"/>
<rect x="193.75" y="84.93" width="6.61" height="1.48" fill="#fef7f7"/>
<rect x="43.00" y="86.35" width="6.61" height="1.48" fill="#fa9b9b"/>
<rect x="49.55" y="86.35" width="6.61" height="1.48" fill="#fbadad"/>
<rect x="56.11" y="86.35" width="6.61" height="1.48" fill="#fde5e5"/>
<rect x="62.66" y="86.35" width="6.61" height="1.48" fill="#fffefe"/>
<rect x="69.22" y="86.35" width="6.61" height="1.48" fill="#fef5f5"/>
<rect x="75.77" y="86.35" width="6.61" height="1.48" fill="#f7f9fc"/>
<rect x="82.33" y="86.35" width="6.61" height="1.48" fill="#fa7b7b"/>
<rect x="88.88" y="86.35" width="6.61" height="1.48" fill="#fa7e7e"/>
<rect x="95.43" y="86.35" width="6.61" height="1.48" fill="#fa7474"/>
<rect x="101.99" y="86.35" width="6.61" height="1.48" fill="#fcc7c7"/>
<rect x="108.54" y="86.35" width="6.61" height="1.48" fill="#fcd4d4"/>
<rect x="115.10" y="86.35" width="6.61" height="1.48" fill="#fef4f4"/>
<rect x="121.65" y="86.35" width="6.61" height="1.48" fill="#fa9292"/>
<rect x="128.20" y="86.35" width="6.61" height="1.48" fill="#fb9f9f"/>
<rect x="134.76" y="86.35" width="6.61" height="1.48" fill="#fbb7b7"/>
<rect x="141.31" y="86.35" width="6.61" height="1.48" fill="#fcdbdb"/>
<rect x="147.87" y="86.35" width="6.61" height="1.48" fill="#fddede"/>
<rect x="154.42" y="86.35" width="6.61" height="1.48" fill="#fffcfc"/>
<rect x="160.98" y="86.35" width="6.61" height="1.48" fill="#fa8b8b"/>
<rect x="167.53" y="86.35" width="6.61" height="1.48" fill="#fa9393"/>
<rect x="174.08" y="86.35" width="6.61" height="1.48" fill="#fa9b9b"/>
<rect x="180.64" y="86.35" width="6.61" height="1.48" fill="#feeeee"/>
<rect x="187.19" y="86.35" width="6.61" height="1.48" fill="#fcc7c7"/>
<rect x="193.75" y="86.35" width="6.61" height="1.48" fill="#dee8f1"/>
<rect x="43.00" y="87.76" width="6.61" height="1.48" fill="#fa9595"/>
<rect x="49.55" y="87.76" width="6.61" height="1.48" fill="#fbb1b1"/>
<rect x="56.11" y="87.76" width="6.61" height="1.48" fill="#fcd3d3"/>
<rect x="62.66" y="87.76" width="6.61" height="1.48" fill="#f8fafc"/>
<rect x="69.22" y="87.76" width="6.61" height="1.48" fill="#fbfcfd"/>
<rect x="75.77" y="87.76" width="6.61" height="1.48" fill="#fffefe"/>
<rect x="82.33" y="87.76" width="6.61" height="1.48" fill="#fa8c8c"/>
<rect x="88.88" y="87.76" width="6.61" height="1.48" fill="#fa9b9b"/>
<rect x="95.43" y="87.76" width="6.61" height="1.48" fill="#fba1a1"/>
<rect x="101.99" y="87.76" width="6.61" height="1.48" fill="#fcd9d9"/>
<rect x="108.54" y="87.76" width="6.61" height="1.48" fill="#fde4e4"/>
<rect x="115.10" y="87.76" width="6.61" height="1.48" fill="#f9fafc"/>
<rect x="121.65" y="87.76" width="6.61" height="1.48" fill="#fa9696"/>
<rect x="128.20" y="87.76" width="6.61" height="1.48" fill="#fba6a6"/>
<rect x="134.76" y="87.76" width="6.61" height="1.48" fill="#fba5a5"/>
<rect x="141.31" y="87.76" width="6.61" height="1.48" fill="#fde5e5"/>
<rect x="147.87" y="87.76" width="6.61" height="1.48" fill="#fde5e5"/>
<rect x="154.42" y="87.76" width="6.61" height="1.48" fill="#fef0f0"/>
<rect x="160.98" y="87.76" width="6.61" height="1.48" fill="#fa5758"/>
<rect x="167.53" y="87.76" width="6.61" height="1.48" fill="#fa7374"/>
<rect x="174.08" y="87.76" width="6.61" height="1.48" fill="#fa7070"/>
<rect x="180.64" y="87.76" width="6.61" height="1.48" fill="#fcd0d0"/>
<rect x="187.19" y="87.76" width="6.61" height="1.48" fill="#fbb5b5"/>
<rect x="193.75" y="87.76" width="6.61" height="1.48" fill="#fde8e8"/>
<rect x="43.00" y="89.18" width="6.61" height="1.48" fill="#fa8888"/>
<rect x="49.55" y="89.18" width="6.61" height="1.48" fill="#fa9898"/>
<rect x="56.11" y="89.18" width="6.61" height="1.48" fill="#fcd7d7"/>
<rect x="62.66" y="89.18" width="6.61" height="1.48" fill="#fffefe"/>
<rect x="69.22" y="89.18" width="6.61" height="1.48" fill="#fef0f0"/>
<rect x="75.77" y="89.18" width="6.61" height="1.48" fill="#fef2f2"/>
<rect x="82.33" y="89.18" width="6.61" height="1.48" fill="#fa7d7e"/>
<rect x="88.88" y="89.18" width="6.61" height="1.48" fill="#fa7071"/>
<rect x="95.43" y="89.18" width="6.61" height="1.48" fill="#fa8080"/>
<rect x="101.99" y="89.18" width="6.61" height="1.48" fill="#fccbcb"/>
<rect x="108.54" y="89.18" width="6.61" height="1.48" fill="#fcd3d3"/>
<rect x="115.10" y="89.18" width="6.61" height="1.48" fill="#fef6f6"/>
<rect x="121.65" y="89.18" width="6.61" height="1.48" fill="#fbbcbc"/>
<rect x="128.20" y="89.18" width="6.61" height="1.48" fill="#fcc3c3"/>
<rect x="134.76" y="89.18" width="6.61" height="1.48" fill="#fcc3c3"/>
<rect x="141.31" y="89.18" width="6.61" height="1.48" fill="#fff9f9"/>
<rect x="147.87" y="89.18" width="6.61" height="1.48" fill="#fef6f6"/>
<rect x="154.42" y="89.18" width="6.61" height="1.48" fill="#e3ebf3"/>
<rect x="160.98" y="89.18" width="6.61" height="1.48" fill="#fa7273"/>
<rect x="167.53" y="89.18" width="6.61" height="1.48" fill="#fa9393"/>
<rect x="174.08" y="89.18" width="6.61" height="1.48" fill="#fa8080"/>
<rect x="180.64" y="89.18" width="6.61" height="1.48" fill="#fde3e3"/>
<rect x="187.19" y="89.18" width="6.61" height="1.48" fill="#fddfdf"/>
<rect x="193.75" y="89.18" width="6.61" height="1.48" fill="#ecf1f7"/>
<rect x="43.00" y="90.60" width="6.61" height="1.41" fill="#fa2d31"/>
<rect x="49.55" y="90.60" width="6.61" height="1.41" fill="#fa4043"/>
<rect x="56.11" y="90.60" width="6.61" height="1.41" fill="#fa4b4d"/>
<rect x="62.66" y="90.60" width="6.61" height="1.41" fill="#fa6b6c"/>
<rect x="69.22" y="90.60" width="6.61" height="1.41" fill="#fa7576"/>
<rect x="75.77" y="90.60" width="6.61" height="1.41" fill="#fa7172"/>
<rect x="82.33" y="90.60" width="6.61" height="1.41" fill="#fa2127"/>
<rect x="88.88" y="90.60" width="6.61" height="1.41" fill="#fa1a20"/>
<rect x="95.43" y="90.60" width="6.61" height="1.41" fill="#fa3236"/>
<rect x="101.99" y="90.60" width="6.61" height="1.41" fill="#fa3236"/>
<rect x="108.54" y="90.60" width="6.61" height="1.41" fill="#fa3c3f"/>
<rect x="115.10" y="90.60" width="6.61" height="1.41" fill="#fa484a"/>
<rect x="121.65" y="90.60" width="6.61" height="1.41" fill="#fa0810"/>
<rect x="128.20" y="90.60" width="6.61" height="1.41" fill="#fa2025"/>
<rect x="134.76" y="90.60" width="6.61" height="1.41" fill="#fa2d31"/>
<rect x="141.31" y="90.60" width="6.61" height="1.41" fill="#fa4547"/>
<rect x="147.87" y="90.60" width="6.61" height="1.41" fill="#fa4d4f"/>
<rect x="154.42" y="90.60" width="6.61" height="1.41" fill="#fa6365"/>
<rect x="160.98" y="90.60" width="6.61" height="1.41" fill="#fa171d"/>
<rect x="167.53" y="90.60" width="6.61" height="1.41" fill="#fa171d"/>
<rect x="174.08" y="90.60" width="6.61" height="1.41" fill="#fa2429"/>
<rect x="180.64" y="90.60" width="6.61" height="1.41" fill="#fa3135"/>
<rect x="187.19" y="90.60" width="6.61" height="1.41" fill="#fa4446"/>
<rect x="193.75" y="90.60" width="6.61" height="1.41" fill="#fa6869"/>
<rect x="43.00" y="91.95" width="6.61" height="1.41" fill="#fa2a2f"/>
<rect x="49.55" y="91.95" width="6.61" height="1.41" fill="#fa3034"/>
<rect x="56.11" y="91.95" width="6.61" height="1.41" fill="#fa4b4d"/>
<rect x="62.66" y="91.95" width="6.61" height="1.41" fill="#fa5556"/>
<rect x="69.22" y="91.95" width="6.61" height="1.41" fill="#fa6566"/>
<rect x="75.77" y="91.95" width="6.61" height="1.41" fill="#fa6769"/>
<rect x="82.33" y="91.95" width="6.61" height="1.41" fill="#fa0910"/>
<rect x="88.88" y="91.95" width="6.61" height="1.41" fill="#fa0b13"/>
<rect x="95.43" y="91.95" width="6.61" height="1.41" fill="#fa161d"/>
<rect x="101.99" y="91.95" width="6.61" height="1.41" fill="#fa2429"/>
<rect x="108.54" y="91.95" width="6.61" height="1.41" fill="#fa2b30"/>
<rect x="115.10" y="91.95" width="6.61" height="1.41" fill="#fa4446"/>
<rect x="121.65" y="91.95" width="6.61" height="1.41" fill="#fa171d"/>
<rect x="128.20" y="91.95" width="6.61" height="1.41" fill="#fa2429"/>
<rect x="134.76" y="91.95" width="6.61" height="1.41" fill="#fa2b2f"/>
<rect x="141.31" y="91.95" width="6.61" height="1.41" fill="#fa494b"/>
<rect x="147.87" y="91.95" width="6.61" height="1.41" fill="#fa4c4d"/>
<rect x="154.42" y="91.95" width="6.61" height="1.41" fill="#fa9a9a"/>
<rect x="160.98" y="91.95" width="6.61" height="1.41" fill="#fa2a2f"/>
<rect x="167.53" y="91.95" width="6.61" height="1.41" fill="#fa252a"/>
<rect x="174.08" y="91.95" width="6.61" height="1.41" fill="#fa3e41"/>
<rect x="180.64" y="91.95" width="6.61" height="1.41" fill="#fa5455"/>
<rect x="187.19" y="91.95" width="6.61" height="1.41" fill="#fa5c5d"/>
<rect x="193.75" y="91.95" width="6.61" height="1.41" fill="#fa484a"/>
<rect x="43.00" y="93.30" width="6.61" height="1.41" fill="#fa2126"/>
<rect x="49.55" y="93.30" width="6.61" height="1.41" fill="#fa1f25"/>
<rect x="56.11" y="93.30" width="6.61" height="1.41" fill="#fa2328"/>
<rect x="62.66" y="93.30" width="6.61" height="1.41" fill="#fa3a3d"/>
<rect x="69.22" y="93.30" width="6.61" height="1.41" fill="#fa595a"/>
<rect x="75.77" y="93.30" width="6.61" height="1.41" fill="#fa5f61"/>
<rect x="82.33" y="93.30" width="6.61" height="1.41" fill="#fa0a12"/>
<rect x="88.88" y="93.30" width="6.61" height="1.41" fill="#fa161d"/>
<rect x="95.43" y="93.30" width="6.61" height="1.41" fill="#fa0a12"/>
<rect x="101.99" y="93.30" width="6.61" height="1.41" fill="#fa2b2f"/>
<rect x="108.54" y="93.30" width="6.61" height="1.41" fill="#fa3135"/>
<rect x="115.10" y="93.30" width="6.61" height="1.41" fill="#fa4144"/>
<rect x="121.65" y="93.30" width="6.61" height="1.41" fill="#fa383b"/>
<rect x="128.20" y="93.30" width="6.61" height="1.41" fill="#fa3135"/>
<rect x="134.76" y="93.30" width="6.61" height="1.41" fill="#fa4f51"/>
<rect x="141.31" y="93.30" width="6.61" height="1.41" fill="#fa6162"/>
<rect x="147.87" y="93.30" width="6.61" height="1.41" fill="#fa6566"/>
<rect x="154.42" y="93.30" width="6.61" height="1.41" fill="#fa7575"/>
<rect x="160.98" y="93.30" width="6.61" height="1.41" fill="#fa1d23"/>
<rect x="167.53" y="93.30" width="6.61" height="1.41" fill="#fa2126"/>
<rect x="174.08" y="93.30" width="6.61" height="1.41" fill="#fa242a"/>
<rect x="180.64" y="93.30" width="6.61" height="1.41" fill="#fa3337"/>
<rect x="187.19" y="93.30" width="6.61" height="1.41" fill="#fa4042"/>
<rect x="193.75" y="93.30" width="6.61" height="1.41" fill="#fa5d5e"/>
<rect x="43.00" y="94.65" width="6.61" height="1.41" fill="#fa3539"/>
<rect x="49.55" y="94.65" width="6.61" height="1.41" fill="#fa3236"/>
<rect x="56.11" y="94.65" width="6.61" height="1.41" fill="#fa383c"/>
<rect x="62.66" y="94.65" width="6.61" height="1.41" fill="#fa5f60"/>
<rect x="69.22" y="94.65" width="6.61" height="1.41" fill="#fa6c6d"/>
<rect x="75.77" y="94.65" width="6.61" height="1.41" fill="#fa7b7b"/>
<rect x="82.33" y="94.65" width="6.61" height="1.41" fill="#fa0810"/>
<rect x="88.88" y="94.65" width="6.61" height="1.41" fill="#fa0810"/>
<rect x="95.43" y="94.65" width="6.61" height="1.41" fill="#fa0810"/>
<rect x="101.99" y="94.65" width="6.61" height="1.41" fill="#fa2329"/>
<rect x="108.54" y="94.65" width="6.61" height="1.41" fill="#fa1c22"/>
<rect x="115.10" y="94.65" width="6.61" height="1.41" fill="#fa4143"/>
<rect x="121.65" y="94.65" width="6.61" height="1.41" fill="#fa0810"/>
<rect x="128.20" y="94.65" width="6.61" height="1.41" fill="#fa0d14"/>
<rect x="134.76" y="94.65" width="6.61" height="1.41" fill="#fa1118"/>
<rect x="141.31" y="94.65" width="6.61" height="1.41" fill="#fa3035"/>
<rect x="147.87" y="94.65" width="6.61" height="1.41" fill="#fa363a"/>
<rect x="154.42" y="94.65" width="6.61" height="1.41" fill="#fa5f60"/>
<rect x="160.98" y="94.65" width="6.61" height="1.41" fill="#fa4547"/>
<rect x="167.53" y="94.65" width="6.61" height="1.41" fill="#fa4042"/>
<rect x="174.08" y="94.65" width="6.61" height="1.41" fill="#fa4547"/>
<rect x="180.64" y="94.65" width="6.61" height="1.41" fill="#fa5a5c"/>
<rect x="187.19" y="94.65" width="6.61" height="1.41" fill="#fa7c7c"/>
<rect x="193.75" y="94.65" width="6.61" height="1.41" fill="#fde4e4"/>
<rect x="43.00" y="96.00" width="6.61" height="1.52" fill="#fa3d40"/>
<rect x="49.55" y="96.00" width="6.61" height="1.52" fill="#fa2d32"/>
<rect x="56.11" y="96.00" width="6.61" height="1.52" fill="#fa595a"/>
<rect x="62.66" y="96.00" width="6.61" height="1.52" fill="#fa8f8f"/>
<rect x="69.22" y="96.00" width="6.61" height="1.52" fill="#fa7a7b"/>
<rect x="75.77" y="96.00" width="6.61" height="1.52" fill="#fa7172"/>
<rect x="82.33" y="96.00" width="6.61" height="1.52" fill="#fa6768"/>
<rect x="88.88" y="96.00" width="6.61" height="1.52" fill="#fa4c4e"/>
<rect x="95.43" y="96.00" width="6.61" height="1.52" fill="#fa5b5c"/>
<rect x="101.99" y="96.00" width="6.61" height="1.52" fill="#fa8888"/>
<rect x="108.54" y="96.00" width="6.61" height="1.52" fill="#fa8888"/>
<rect x="115.10" y="96.00" width="6.61" height="1.52" fill="#fa9c9c"/>
<rect x="121.65" y="96.00" width="6.61" height="1.52" fill="#fa5758"/>
<rect x="128.20" y="96.00" width="6.61" height="1.52" fill="#fa6264"/>
<rect x="134.76" y="96.00" width="6.61" height="1.52" fill="#fa7575"/>
<rect x="141.31" y="96.00" width="6.61" height="1.52" fill="#fa9494"/>
<rect x="147.87" y="96.00" width="6.61" height="1.52" fill="#fbacac"/>
<rect x="154.42" y="96.00" width="6.61" height="1.52" fill="#fa8787"/>
<rect x="160.98" y="96.00" width="6.61" height="1.52" fill="#fa393c"/>
<rect x="167.53" y="96.00" width="6.61" height="1.52" fill="#fa4b4d"/>
<rect x="174.08" y="96.00" width="6.61" height="1.52" fill="#fa6364"/>
<rect x="180.64" y="96.00" width="6.61" height="1.52" fill="#fa8a8a"/>
<rect x="187.19" y="96.00" width="6.61" height="1.52" fill="#fa6c6d"/>
<rect x="193.75" y="96.00" width="6.61" height="1.52" fill="#fa9595"/>
<rect x="43.00" y="97.46" width="6.61" height="1.52" fill="#fa4c4e"/>
<rect x="49.55" y="97.46" width="6.61" height="1.52" fill="#fa5456"/>
<rect x="56.11" y="97.46" width="6.61" height="1.52" fill="#fa8282"/>
<rect x="62.66" y="97.46" width="6.61" height="1.52" fill="#fbaaaa"/>
<rect x="69.22" y="97.46" width="6.61" height="1.52" fill="#fba6a6"/>
<rect x="75.77" y="97.46" width="6.61" height="1.52" fill="#fa9e9e"/>
<rect x="82.33" y="97.46" width="6.61" height="1.52" fill="#fa2b30"/>
<rect x="88.88" y="97.46" width="6.61" height="1.52" fill="#fa393c"/>
<rect x="95.43" y="97.46" width="6.61" height="1.52" fill="#fa3236"/>
<rect x="101.99" y="97.46" width="6.61" height="1.52" fill="#fa6263"/>
<rect x="108.54" y="97.46" width="6.61" height="1.52" fill="#fa6d6e"/>
<rect x="115.10" y="97.46" width="6.61" height="1.52" fill="#fa7879"/>
<rect x="121.65" y="97.46" width="6.61" height="1.52" fill="#fa5e60"/>
<rect x="128.20" y="97.46" width="6.61" height="1.52" fill="#fa7576"/>
<rect x="134.76" y="97.46" width="6.61" height="1.52" fill="#fa7071"/>
<rect x="141.31" y="97.46" width="6.61" height="1.52" fill="#fa9595"/>
<rect x="147.87" y="97.46" width="6.61" height="1.52" fill="#fbb2b2"/>
<rect x="154.42" y="97.46" width="6.61" height="1.52" fill="#fde1e1"/>
<rect x="160.98" y="97.46" width="6.61" height="1.52" fill="#fa3b3e"/>
<rect x="167.53" y="97.46" width="6.61" height="1.52" fill="#fa6465"/>
<rect x="174.08" y="97.46" width="6.61" height="1.52" fill="#fa6162"/>
<rect x="180.64" y="97.46" width="6.61" height="1.52" fill="#fa9e9e"/>
<rect x="187.19" y="97.46" width="6.61" height="1.52" fill="#fa4c4e"/>
<rect x="193.75" y="97.46" width="6.61" height="1.52" fill="#fde2e2"/>
<rect x="43.00" y="98.91" width="6.61" height="1.52" fill="#fa494b"/>
<rect x="49.55" y="98.91" width="6.61" height="1.52" fill="#fa5a5c"/>
<rect x="56.11" y="98.91" width="6.61" height="1.52" fill="#fa6c6d"/>
<rect x="62.66" y="98.91" width="6.61" height="1.52" fill="#fbaaaa"/>
<rect x="69.22" y="98.91" width="6.61" height="1.52" fill="#fa8d8d"/>
<rect x="75.77" y="98.91" width="6.61" height="1.52" fill="#fb9f9f"/>
<rect x="82.33" y="98.91" width="6.61" height="1.52" fill="#fa4648"/>
<rect x="88.88" y="98.91" width="6.61" height="1.52" fill="#fa3d40"/>
<rect x="95.43" y="98.91" width="6.61" height="1.52" fill="#fa4f51"/>
<rect x="101.99" y="98.91" width="6.61" height="1.52" fill="#fa8d8d"/>
<rect x="108.54" y="98.91" width="6.61" height="1.52" fill="#fa9191"/>
<rect x="115.10" y="98.91" width="6.61" height="1.52" fill="#fa9090"/>
<rect x="121.65" y="98.91" width="6.61" height="1.52" fill="#fa5a5b"/>
<rect x="128.20" y="98.91" width="6.61" height="1.52" fill="#fa7f80"/>
<rect x="134.76" y="98.91" width="6.61" height="1.52" fill="#fa7575"/>
<rect x="141.31" y="98.91" width="6.61" height="1.52" fill="#fba3a3"/>
<rect x="147.87" y="98.91" width="6.61" height="1.52" fill="#fbaaaa"/>
<rect x="154.42" y="98.91" width="6.61" height="1.52" fill="#fde8e8"/>
<rect x="160.98" y="98.91" width="6.61" height="1.52" fill="#fa191f"/>
<rect x="167.53" y="98.91" width="6.61" height="1.52" fill="#fa272c"/>
<rect x="174.08" y="98.91" width="6.61" height="1.52" fill="#fa3236"/>
<rect x="180.64" y="98.91" width="6.61" height="1.52" fill="#fa7a7a"/>
<rect x="187.19" y="98.91" width="6.61" height="1.52" fill="#fa5c5e"/>
<rect x="193.75" y="98.91" width="6.61" height="1.52" fill="#fa9696"/>
<rect x="43.00" y="100.37" width="6.61" height="1.52" fill="#fa4f51"/>
<rect x="49.55" y="100.37" width="6.61" height="1.52" fill="#fa6263"/>
<rect x="56.11" y="100.37" width="6.61" height="1.52" fill="#fa8282"/>
<rect x="62.66" y="100.37" width="6.61" height="1.52" fill="#fbafaf"/>
<rect x="69.22" y="100.37" width="6.61" height="1.52" fill="#fba8a8"/>
<rect x="75.77" y="100.37" width="6.61" height="1.52" fill="#fbb1b1"/>
<rect x="82.33" y="100.37" width="6.61" height="1.52" fill="#fa5557"/>
<rect x="88.88" y="100.37" width="6.61" height="1.52" fill="#fa3c3f"/>
<rect x="95.43" y="100.37" width="6.61" height="1.52" fill="#fa4b4d"/>
<rect x="101.99" y="100.37" width="6.61" height="1.52" fill="#fa8383"/>
<rect x="108.54" y="100.37" width="6.61" height="1.52" fill="#fa7b7c"/>
<rect x="115.10" y="100.37" width="6.61" height="1.52" fill="#fa9090"/>
<rect x="121.65" y="100.37" width="6.61" height="1.52" fill="#fa4c4e"/>
<rect x="128.20" y="100.37" width="6.61" height="1.52" fill="#fa5a5c"/>
<rect x="134.76" y="100.37" width="6.61" height="1.52" fill="#fa595b"/>
<rect x="141.31" y="100.37" width="6.61" height="1.52" fill="#fa8384"/>
<rect x="147.87" y="100.37" width="6.61" height="1.52" fill="#fa9595"/>
<rect x="154.42" y="100.37" width="6.61" height="1.52" fill="#fa9a9a"/>
<rect x="160.98" y="100.37" width="6.61" height="1.52" fill="#fa4b4d"/>
<rect x="167.53" y="100.37" width="6.61" height="1.52" fill="#fa5d5e"/>
<rect x="174.08" y="100.37" width="6.61" height="1.52" fill="#fa6d6e"/>
<rect x="180.64" y="100.37" width="6.61" height="1.52" fill="#fa9292"/>
<rect x="187.19" y="100.37" width="6.61" height="1.52" fill="#fccece"/>
<rect x="193.75" y="100.37" width="6.61" height="1.52" fill="#fcdada"/>
<rect x="43.00" y="101.83" width="6.61" height="1.52" fill="#fa5a5b"/>
<rect x="49.55" y="101.83" width="6.61" height="1.52" fill="#fa6a6b"/>
<rect x="56.11" y="101.83" width="6.61" height="1.52" fill="#fa8787"/>
<rect x="62.66" y="101.83" width="6.61" height="1.52" fill="#fba2a2"/>
<rect x="69.22" y="101.83" width="6.61" height="1.52" fill="#fbadad"/>
<rect x="75.77" y="101.83" width="6.61" height="1.52" fill="#fbb7b7"/>
<rect x="82.33" y="101.83" width="6.61" height="1.52" fill="#fa5c5e"/>
<rect x="88.88" y="101.83" width="6.61" height="1.52" fill="#fa5b5d"/>
<rect x="95.43" y="101.83" width="6.61" height="1.52" fill="#fa7677"/>
<rect x="101.99" y="101.83" width="6.61" height="1.52" fill="#fa9b9b"/>
<rect x="108.54" y="101.83" width="6.61" height="1.52" fill="#fa9393"/>
<rect x="115.10" y="101.83" width="6.61" height="1.52" fill="#fbb6b6"/>
<rect x="121.65" y="101.83" width="6.61" height="1.52" fill="#fa4749"/>
<rect x="128.20" y="101.83" width="6.61" height="1.52" fill="#fa5758"/>
<rect x="134.76" y="101.83" width="6.61" height="1.52" fill="#fa5c5d"/>
<rect x="141.31" y="101.83" width="6.61" height="1.52" fill="#fa8585"/>
<rect x="147.87" y="101.83" width="6.61" height="1.52" fill="#fa9090"/>
<rect x="154.42" y="101.83" width="6.61" height="1.52" fill="#fbbcbc"/>
<rect x="160.98" y="101.83" width="6.61" height="1.52" fill="#fa6264"/>
<rect x="167.53" y="101.83" width="6.61" height="1.52" fill="#fa7172"/>
<rect x="174.08" y="101.83" width="6.61" height="1.52" fill="#fa7d7e"/>
<rect x="180.64" y="101.83" width="6.61" height="1.52" fill="#fbb8b8"/>
<rect x="187.19" y="101.83" width="6.61" height="1.52" fill="#fbb9b9"/>
<rect x="193.75" y="101.83" width="6.61" height="1.52" fill="#fcd9d9"/>
<rect x="43.00" y="103.29" width="6.61" height="1.52" fill="#fa4c4e"/>
<rect x="49.55" y="103.29" width="6.61" height="1.52" fill="#fa5c5d"/>
<rect x="56.11" y="103.29" width="6.61" height="1.52" fill="#fa6a6b"/>
<rect x="62.66" y="103.29" width="6.61" height="1.52" fill="#fa7e7f"/>
<rect x="69.22" y="103.29" width="6.61" height="1.52" fill="#fbb2b2"/>
<rect x="75.77" y="103.29" width="6.61" height="1.52" fill="#fa9797"/>
<rect x="82.33" y="103.29" width="6.61" height="1.52" fill="#fa4447"/>
<rect x="88.88" y="103.29" width="6.61" height="1.52" fill="#fa4c4e"/>
<rect x="95.43" y="103.29" width="6.61" height="1.52" fill="#fa4c4e"/>
<rect x="101.99" y="103.29" width="6.61" height="1.52" fill="#fa9898"/>
<rect x="108.54" y="103.29" width="6.61" height="1.52" fill="#fa7979"/>
<rect x="115.10" y="103.29" width="6.61" height="1.52" fill="#fa9a9a"/>
<rect x="121.65" y="103.29" width="6.61" height="1.52" fill="#fa2e32"/>
<rect x="128.20" y="103.29" width="6.61" height="1.52" fill="#fa4749"/>
<rect x="134.76" y="103.29" width="6.61" height="1.52" fill="#fa4244"/>
<rect x="141.31" y="103.29" width="6.61" height="1.52" fill="#fa7677"/>
<rect x="147.87" y="103.29" width="6.61" height="1.52" fill="#fa7878"/>
<rect x="154.42" y="103.29" width="6.61" height="1.52" fill="#fde8e8"/>
<rect x="160.98" y="103.29" width="6.61" height="1.52" fill="#fa797a"/>
<rect x="167.53" y="103.29" width="6.61" height="1.52" fill="#fa8585"/>
<rect x="174.08" y="103.29" width="6.61" height="1.52" fill="#fa8e8e"/>
<rect x="180.64" y="103.29" width="6.61" height="1.52" fill="#fcc9c9"/>
<rect x="187.19" y="103.29" width="6.61" height="1.52" fill="#fbb8b8"/>
<rect x="193.75" y="103.29" width="6.61" height="1.52" fill="#fbbcbc"/>
<rect x="43.00" y="104.74" width="6.61" height="1.52" fill="#fa2328"/>
<rect x="49.55" y="104.74" width="6.61" height="1.52" fill="#fa282d"/>
<rect x="56.11" y="104.74" width="6.61" height="1.52" fill="#fa4f51"/>
<rect x="62.66" y="104.74" width="6.61" height="1.52" fill="#fa8182"/>
<rect x="69.22" y="104.74" width="6.61" height="1.52" fill="#fa8283"/>
<rect x="75.77" y="104.74" width="6.61" height="1.52" fill="#fa7373"/>
<rect x="82.33" y="104.74" width="6.61" height="1.52" fill="#fa6162"/>
<rect x="88.88" y="104.74" width="6.61" height="1.52" fill="#fa6a6b"/>
<rect x="95.43" y="104.74" width="6.61" height="1.52" fill="#fa6a6b"/>
<rect x="101.99" y="104.74" width="6.61" height="1.52" fill="#fa7778"/>
<rect x="108.54" y="104.74" width="6.61" height="1.52" fill="#fa7d7d"/>
<rect x="115.10" y="104.74" width="6.61" height="1.52" fill="#fbb4b4"/>
<rect x="121.65" y="104.74" width="6.61" height="1.52" fill="#fa8181"/>
<rect x="128.20" y="104.74" width="6.61" height="1.52" fill="#fa8e8e"/>
<rect x="134.76" y="104.74" width="6.61" height="1.52" fill="#fa9d9d"/>
<rect x="141.31" y="104.74" width="6.61" height="1.52" fill="#fbb4b4"/>
<rect x="147.87" y="104.74" width="6.61" height="1.52" fill="#fccbcb"/>
<rect x="154.42" y="104.74" width="6.61" height="1.52" fill="#fcc6c6"/>
<rect x="160.98" y="104.74" width="6.61" height="1.52" fill="#fa3c3f"/>
<rect x="167.53" y="104.74" width="6.61" height="1.52" fill="#fa4244"/>
<rect x="174.08" y="104.74" width="6.61" height="1.52" fill="#fa5153"/>
<rect x="180.64" y="104.74" width="6.61" height="1.52" fill="#fa7e7f"/>
<rect x="187.19" y="104.74" width="6.61" height="1.52" fill="#fba0a0"/>
<rect x="193.75" y="104.74" width="6.61" height="1.52" fill="#fef5f5"/>
<rect x="43.00" y="106.20" width="6.61" height="2.06" fill="#1d4786"/>
<rect x="49.55" y="106.20" width="6.61" height="2.06" fill="#143361"/>
<rect x="56.11" y="106.20" width="6.61" height="2.06" fill="#153463"/>
<rect x="62.66" y="106.20" width="6.61" height="2.06" fill="#0d2446"/>
<rect x="69.22" y="106.20" width="6.61" height="2.06" fill="#173a6e"/>
<rect x="75.77" y="106.20" width="6.61" height="2.06" fill="#1b417b"/>
<rect x="82.33" y="106.20" width="6.61" height="2.06" fill="#3d65a1"/>
<rect x="88.88" y="106.20" width="6.61" height="2.06" fill="#375f9c"/>
<rect x="95.43" y="106.20" width="6.61" height="2.06" fill="#365f9b"/>
<rect x="101.99" y="106.20" width="6.61" height="2.06" fill="#4169a4"/>
<rect x="108.54" y="106.20" width="6.61" height="2.06" fill="#38619d"/>
<rect x="115.10" y="106.20" width="6.61" height="2.06" fill="#3f67a2"/>
<rect x="121.65" y="106.20" width="6.61" height="2.06" fill="#305997"/>
<rect x="128.20" y="106.20" width="6.61" height="2.06" fill="#2d5694"/>
<rect x="134.76" y="106.20" width="6.61" height="2.06" fill="#37609c"/>
<rect x="141.31" y="106.20" width="6.61" height="2.06" fill="#264f8e"/>
<rect x="147.87" y="106.20" width="6.61" height="2.06" fill="#285190"/>
<rect x="154.42" y="106.20" width="6.61" height="2.06" fill="#081830"/>
<rect x="160.98" y="106.20" width="6.61" height="2.06" fill="#3b639f"/>
<rect x="167.53" y="106.20" width="6.61" height="2.06" fill="#3d65a1"/>
<rect x="174.08" y="106.20" width="6.61" height="2.06" fill="#2d5694"/>
<rect x="180.64" y="106.20" width="6.61" height="2.06" fill="#325b98"/>
<rect x="187.19" y="106.20" width="6.61" height="2.06" fill="#5479b0"/>
<rect x="193.75" y="106.20" width="6.61" height="2.06" fill="#143260"/>
<rect x="43.00" y="108.20" width="6.61" height="1.50" fill="#5c80b5"/>
<rect x="49.55" y="108.20" width="6.61" height="1.50" fill="#4971aa"/>
<rect x="56.11" y="108.20" width="6.61" height="1.50" fill="#4d74ac"/>
<rect x="62.66" y="108.20" width="6.61" height="1.50" fill="#3b639f"/>
<rect x="69.22" y="108.20" width="6.61" height="1.50" fill="#1c437e"/>
<rect x="75.77" y="108.20" width="6.61" height="1.50" fill="#2d5694"/>
<rect x="82.33" y="108.20" width="6.61" height="1.50" fill="#e8eff5"/>
<rect x="88.88" y="108.20" width="6.61" height="1.50" fill="#e1eaf3"/>
<rect x="95.43" y="108.20" width="6.61" height="1.50" fill="#c7d6e7"/>
<rect x="101.99" y="108.20" width="6.61" height="1.50" fill="#93add0"/>
<rect x="108.54" y="108.20" width="6.61" height="1.50" fill="#9fb7d5"/>
<rect x="115.10" y="108.20" width="6.61" height="1.50" fill="#8ca8cd"/>
<rect x="121.65" y="108.20" width="6.61" height="1.50" fill="#a6bdd9"/>
<rect x="128.20" y="108.20" width="6.61" height="1.50" fill="#acc1db"/>
<rect x="134.76" y="108.20" width="6.61" height="1.50" fill="#9bb4d4"/>
<rect x="141.31" y="108.20" width="6.61" height="1.50" fill="#6284b8"/>
<rect x="147.87" y="108.20" width="6.61" height="1.50" fill="#557ab1"/>
<rect x="154.42" y="108.20" width="6.61" height="1.50" fill="#426aa5"/>
<rect x="160.98" y="108.20" width="6.61" height="1.50" fill="#7292c1"/>
<rect x="167.53" y="108.20" width="6.61" height="1.50" fill="#829fc8"/>
<rect x="174.08" y="108.20" width="6.61" height="1.50" fill="#85a2ca"/>
<rect x="180.64" y="108.20" width="6.61" height="1.50" fill="#285190"/>
<rect x="187.19" y="108.20" width="6.61" height="1.50" fill="#38619d"/>
<rect x="193.75" y="108.20" width="6.61" height="1.50" fill="#4970a9"/>
<rect x="43.00" y="109.64" width="6.61" height="1.50" fill="#5b7fb4"/>
<rect x="49.55" y="109.64" width="6.61" height="1.50" fill="#6285b8"/>
<rect x="56.11" y="109.64" width="6.61" height="1.50" fill="#5e81b6"/>
<rect x="62.66" y="109.64" width="6.61" height="1.50" fill="#3f68a3"/>
<rect x="69.22" y="109.64" width="6.61" height="1.50" fill="#365f9b"/>
<rect x="75.77" y="109.64" width="6.61" height="1.50" fill="#3f67a2"/>
<rect x="82.33" y="109.64" width="6.61" height="1.50" fill="#b6c9e0"/>
<rect x="88.88" y="109.64" width="6.61" height="1.50" fill="#abc1db"/>
<rect x="95.43" y="109.64" width="6.61" height="1.50" fill="#abc1db"/>
<rect x="101.99" y="109.64" width="6.61" height="1.50" fill="#6789bb"/>
<rect x="108.54" y="109.64" width="6.61" height="1.50" fill="#5c80b4"/>
<rect x="115.10" y="109.64" width="6.61" height="1.50" fill="#5076ae"/>
<rect x="121.65" y="109.64" width="6.61" height="1.50" fill="#a2bad7"/>
<rect x="128.20" y="109.64" width="6.61" height="1.50" fill="#a0b8d6"/>
<rect x="134.76" y="109.64" width="6.61" height="1.50" fill="#a1b9d6"/>
<rect x="141.31" y="109.64" width="6.61" height="1.50" fill="#698abc"/>
<rect x="147.87" y="109.64" width="6.61" height="1.50" fill="#557ab1"/>
<rect x="154.42" y="109.64" width="6.61" height="1.50" fill="#4a72aa"/>
<rect x="160.98" y="109.64" width="6.61" height="1.50" fill="#89a5cc"/>
<rect x="167.53" y="109.64" width="6.61" height="1.50" fill="#809dc7"/>
<rect x="174.08" y="109.64" width="6.61" height="1.50" fill="#83a0c9"/>
<rect x="180.64" y="109.64" width="6.61" height="1.50" fill="#2c5593"/>
<rect x="187.19" y="109.64" width="6.61" height="1.50" fill="#38619d"/>
<rect x="193.75" y="109.64" width="6.61" height="1.50" fill="#081830"/>
<rect x="43.00" y="111.07" width="6.61" height="1.50" fill="#d2dfec"/>
<rect x="49.55" y="111.07" width="6.61" height="1.50" fill="#5277af"/>
<rect x="56.11" y="111.07" width="6.61" height="1.50" fill="#577bb1"/>
<rect x="62.66" y="111.07" width="6.61" height="1.50" fill="#2b5492"/>
<rect x="69.22" y="111.07" width="6.61" height="1.50" fill="#193d73"/>
<rect x="75.77" y="111.07" width="6.61" height="1.50" fill="#27508f"/>
<rect x="82.33" y="111.07" width="6.61" height="1.50" fill="#c3d3e6"/>
<rect x="88.88" y="111.07" width="6.61" height="1.50" fill="#bacce1"/>
<rect x="95.43" y="111.07" width="6.61" height="1.50" fill="#97b1d2"/>
<rect x="101.99" y="111.07" width="6.61" height="1.50" fill="#6c8dbe"/>
<rect x="108.54" y="111.07" width="6.61" height="1.50" fill="#83a0c9"/>
<rect x="115.10" y="111.07" width="6.61" height="1.50" fill="#577cb2"/>
<rect x="121.65" y="111.07" width="6.61" height="1.50" fill="#8aa6cc"/>
<rect x="128.20" y="111.07" width="6.61" height="1.50" fill="#92add0"/>
<rect x="134.76" y="111.07" width="6.61" height="1.50" fill="#97b1d2"/>
<rect x="141.31" y="111.07" width="6.61" height="1.50" fill="#6083b7"/>
<rect x="147.87" y="111.07" width="6.61" height="1.50" fill="#5277af"/>
<rect x="154.42" y="111.07" width="6.61" height="1.50" fill="#13305c"/>
<rect x="160.98" y="111.07" width="6.61" height="1.50" fill="#87a3ca"/>
<rect x="167.53" y="111.07" width="6.61" height="1.50" fill="#829fc8"/>
<rect x="174.08" y="111.07" width="6.61" height="1.50" fill="#6f8fbf"/>
<rect x="180.64" y="111.07" width="6.61" height="1.50" fill="#244e8d"/>
<rect x="187.19" y="111.07" width="6.61" height="1.50" fill="#1a4079"/>
<rect x="193.75" y="111.07" width="6.61" height="1.50" fill="#081830"/>
<rect x="43.00" y="112.51" width="6.61" height="1.50" fill="#a1b8d6"/>
<rect x="49.55" y="112.51" width="6.61" height="1.50" fill="#5b7fb4"/>
<rect x="56.11" y="112.51" width="6.61" height="1.50" fill="#456da7"/>
<rect x="62.66" y="112.51" width="6.61" height="1.50" fill="#4068a3"/>
<rect x="69.22" y="112.51" width="6.61" height="1.50" fill="#295291"/>
<rect x="75.77" y="112.51" width="6.61" height="1.50" fill="#426aa5"/>
<rect x="82.33" y="112.51" width="6.61" height="1.50" fill="#a8bed9"/>
<rect x="88.88" y="112.51" width="6.61" height="1.50" fill="#b8cbe1"/>
<rect x="95.43" y="112.51" width="6.61" height="1.50" fill="#a2b9d7"/>
<rect x="101.99" y="112.51" width="6.61" height="1.50" fill="#7090c0"/>
<rect x="108.54" y="112.51" width="6.61" height="1.50" fill="#6f90c0"/>
<rect x="115.10" y="112.51" width="6.61" height="1.50" fill="#5c80b5"/>
<rect x="121.65" y="112.51" width="6.61" height="1.50" fill="#8ba6cc"/>
<rect x="128.20" y="112.51" width="6.61" height="1.50" fill="#8ea9ce"/>
<rect x="134.76" y="112.51" width="6.61" height="1.50" fill="#85a2ca"/>
<rect x="141.31" y="112.51" width="6.61" height="1.50" fill="#5378af"/>
<rect x="147.87" y="112.51" width="6.61" height="1.50" fill="#4d74ac"/>
<rect x="154.42" y="112.51" width="6.61" height="1.50" fill="#1c437e"/>
<rect x="160.98" y="112.51" width="6.61" height="1.50" fill="#8ca8cd"/>
<rect x="167.53" y="112.51" width="6.61" height="1.50" fill="#84a1c9"/>
<rect x="174.08" y="112.51" width="6.61" height="1.50" fill="#87a3cb"/>
<rect x="180.64" y="112.51" width="6.61" height="1.50" fill="#3e67a2"/>
<rect x="187.19" y="112.51" width="6.61" height="1.50" fill="#335c99"/>
<rect x="193.75" y="112.51" width="6.61" height="1.50" fill="#5c80b5"/>
<rect x="43.00" y="113.95" width="6.61" height="1.50" fill="#5278af"/>
<rect x="49.55" y="113.95" width="6.61" height="1.50" fill="#5b7fb4"/>
<rect x="56.11" y="113.95" width="6.61" height="1.50" fill="#587db2"/>
<rect x="62.66" y="113.95" width="6.61" height="1.50" fill="#1f4989"/>
<rect x="69.22" y="113.95" width="6.61" height="1.50" fill="#26508f"/>
<rect x="75.77" y="113.95" width="6.61" height="1.50" fill="#254f8e"/>
<rect x="82.33" y="113.95" width="6.61" height="1.50" fill="#e4ecf4"/>
<rect x="88.88" y="113.95" width="6.61" height="1.50" fill="#d6e2ee"/>
<rect x="95.43" y="113.95" width="6.61" height="1.50" fill="#c6d5e7"/>
<rect x="101.99" y="113.95" width="6.61" height="1.50" fill="#a1b9d7"/>
<rect x="108.54" y="113.95" width="6.61" height="1.50" fill="#9bb4d4"/>
<rect x="115.10" y="113.95" width="6.61" height="1.50" fill="#819fc8"/>
<rect x="121.65" y="113.95" width="6.61" height="1.50" fill="#94aed0"/>
<rect x="128.20" y="113.95" width="6.61" height="1.50" fill="#a1b9d7"/>
<rect x="134.76" y="113.95" width="6.61" height="1.50" fill="#94aed0"/>
<rect x="141.31" y="113.95" width="6.61" height="1.50" fill="#597db3"/>
<rect x="147.87" y="113.95" width="6.61" height="1.50" fill="#37609c"/>
<rect x="154.42" y="113.95" width="6.61" height="1.50" fill="#1a407a"/>
<rect x="160.98" y="113.95" width="6.61" height="1.50" fill="#6789bb"/>
<rect x="167.53" y="113.95" width="6.61" height="1.50" fill="#7b99c5"/>
<rect x="174.08" y="113.95" width="6.61" height="1.50" fill="#7f9dc7"/>
<rect x="180.64" y="113.95" width="6.61" height="1.50" fill="#305997"/>
<rect x="187.19" y="113.95" width="6.61" height="1.50" fill="#456da7"/>
<rect x="193.75" y="113.95" width="6.61" height="1.50" fill="#6c8dbe"/>
<rect x="43.00" y="115.38" width="6.61" height="1.50" fill="#acc2dc"/>
<rect x="49.55" y="115.38" width="6.61" height="1.50" fill="#698abc"/>
<rect x="56.11" y="115.38" width="6.61" height="1.50" fill="#6889bb"/>
<rect x="62.66" y="115.38" width="6.61" height="1.50" fill="#315a97"/>
<rect x="69.22" y="115.38" width="6.61" height="1.50" fill="#1b427d"/>
<rect x="75.77" y="115.38" width="6.61" height="1.50" fill="#305996"/>
<rect x="82.33" y="115.38" width="6.61" height="1.50" fill="#d7e3ee"/>
<rect x="88.88" y="115.38" width="6.61" height="1.50" fill="#d6e2ee"/>
<rect x="95.43" y="115.38" width="6.61" height="1.50" fill="#cddbea"/>
<rect x="101.99" y="115.38" width="6.61" height="1.50" fill="#a2bad7"/>
<rect x="108.54" y="115.38" width="6.61" height="1.50" fill="#9cb5d4"/>
<rect x="115.10" y="115.38" width="6.61" height="1.50" fill="#819ec8"/>
<rect x="121.65" y="115.38" width="6.61" height="1.50" fill="#7695c3"/>
<rect x="128.20" y="115.38" width="6.61" height="1.50" fill="#7a98c5"/>
<rect x="134.76" y="115.38" width="6.61" height="1.50" fill="#7a98c4"/>
<rect x="141.31" y="115.38" width="6.61" height="1.50" fill="#436ba5"/>
<rect x="147.87" y="115.38" width="6.61" height="1.50" fill="#2e5795"/>
<rect x="154.42" y="115.38" width="6.61" height="1.50" fill="#183a6f"/>
<rect x="160.98" y="115.38" width="6.61" height="1.50" fill="#698bbc"/>
<rect x="167.53" y="115.38" width="6.61" height="1.50" fill="#7393c2"/>
<rect x="174.08" y="115.38" width="6.61" height="1.50" fill="#587db2"/>
<rect x="180.64" y="115.38" width="6.61" height="1.50" fill="#183b71"/>
<rect x="187.19" y="115.38" width="6.61" height="1.50" fill="#081830"/>
<rect x="193.75" y="115.38" width="6.61" height="1.50" fill="#1e4787"/>
<rect x="43.00" y="116.82" width="6.61" height="1.50" fill="#bfd0e4"/>
<rect x="49.55" y="116.82" width="6.61" height="1.50" fill="#7493c2"/>
<rect x="56.11" y="116.82" width="6.61" height="1.50" fill="#6a8bbd"/>
<rect x="62.66" y="116.82" width="6.61" height="1.50" fill="#557ab0"/>
<rect x="69.22" y="116.82" width="6.61" height="1.50" fill="#476fa9"/>
<rect x="75.77" y="116.82" width="6.61" height="1.50" fill="#5378af"/>
<rect x="82.33" y="116.82" width="6.61" height="1.50" fill="#e5edf4"/>
<rect x="88.88" y="116.82" width="6.61" height="1.50" fill="#ebf1f7"/>
<rect x="95.43" y="116.82" width="6.61" height="1.50" fill="#dee8f1"/>
<rect x="101.99" y="116.82" width="6.61" height="1.50" fill="#abc1db"/>
<rect x="108.54" y="116.82" width="6.61" height="1.50" fill="#9fb7d6"/>
<rect x="115.10" y="116.82" width="6.61" height="1.50" fill="#97b1d2"/>
<rect x="121.65" y="116.82" width="6.61" height="1.50" fill="#7292c1"/>
<rect x="128.20" y="116.82" width="6.61" height="1.50" fill="#6d8ebe"/>
<rect x="134.76" y="116.82" width="6.61" height="1.50" fill="#7090c0"/>
<rect x="141.31" y="116.82" width="6.61" height="1.50" fill="#2b5492"/>
<rect x="147.87" y="116.82" width="6.61" height="1.50" fill="#2a5492"/>
<rect x="154.42" y="116.82" width="6.61" height="1.50" fill="#081932"/>
<rect x="160.98" y="116.82" width="6.61" height="1.50" fill="#7292c1"/>
<rect x="167.53" y="116.82" width="6.61" height="1.50" fill="#6083b7"/>
<rect x="174.08" y="116.82" width="6.61" height="1.50" fill="#7896c3"/>
<rect x="180.64" y="116.82" width="6.61" height="1.50" fill="#1f4989"/>
<rect x="187.19" y="116.82" width="6.61" height="1.50" fill="#204989"/>
<rect x="193.75" y="116.82" width="6.61" height="1.50" fill="#153565"/>
<rect x="43.00" y="118.25" width="6.61" height="1.50" fill="#95afd1"/>
<rect x="49.55" y="118.25" width="6.61" height="1.50" fill="#587db2"/>
<rect x="56.11" y="118.25" width="6.61" height="1.50" fill="#6184b8"/>
<rect x="62.66" y="118.25" width="6.61" height="1.50" fill="#295391"/>
<rect x="69.22" y="118.25" width="6.61" height="1.50" fill="#335c99"/>
<rect x="75.77" y="118.25" width="6.61" height="1.50" fill="#335c99"/>
<rect x="82.33" y="118.25" width="6.61" height="1.50" fill="#b2c6de"/>
<rect x="88.88" y="118.25" width="6.61" height="1.50" fill="#b5c9e0"/>
<rect x="95.43" y="118.25" width="6.61" height="1.50" fill="#9fb7d6"/>
<rect x="101.99" y="118.25" width="6.61" height="1.50" fill="#829fc8"/>
<rect x="108.54" y="118.25" width="6.61" height="1.50" fill="#84a1c9"/>
<rect x="115.10" y="118.25" width="6.61" height="1.50" fill="#4e74ac"/>
<rect x="121.65" y="118.25" width="6.61" height="1.50" fill="#95afd1"/>
<rect x="128.20" y="118.25" width="6.61" height="1.50" fill="#95aed1"/>
<rect x="134.76" y="118.25" width="6.61" height="1.50" fill="#7e9bc6"/>
<rect x="141.31" y="118.25" width="6.61" height="1.50" fill="#3c64a0"/>
<rect x="147.87" y="118.25" width="6.61" height="1.50" fill="#3d66a1"/>
<rect x="154.42" y="118.25" width="6.61" height="1.50" fill="#102a51"/>
<rect x="160.98" y="118.25" width="6.61" height="1.50" fill="#9ab3d3"/>
<rect x="167.53" y="118.25" width="6.61" height="1.50" fill="#87a4cb"/>
<rect x="174.08" y="118.25" width="6.61" height="1.50" fill="#a1b8d6"/>
<rect x="180.64" y="118.25" width="6.61" height="1.50" fill="#365f9b"/>
<rect x="187.19" y="118.25" width="6.61" height="1.50" fill="#193e76"/>
<rect x="193.75" y="118.25" width="6.61" height="1.50" fill="#183b70"/>
<rect x="43.00" y="119.69" width="6.61" height="1.50" fill="#3f67a2"/>
<rect x="49.55" y="119.69" width="6.61" height="1.50" fill="#4d73ac"/>
<rect x="56.11" y="119.69" width="6.61" height="1.50" fill="#5278af"/>
<rect x="62.66" y="119.69" width="6.61" height="1.50" fill="#254f8e"/>
<rect x="69.22" y="119.69" width="6.61" height="1.50" fill="#26508e"/>
<rect x="75.77" y="119.69" width="6.61" height="1.50" fill="#285190"/>
<rect x="82.33" y="119.69" width="6.61" height="1.50" fill="#dfe9f2"/>
<rect x="88.88" y="119.69" width="6.61" height="1.50" fill="#dde7f1"/>
<rect x="95.43" y="119.69" width="6.61" height="1.50" fill="#c0d1e4"/>
<rect x="101.99" y="119.69" width="6.61" height="1.50" fill="#b1c5dd"/>
<rect x="108.54" y="119.69" width="6.61" height="1.50" fill="#b8cae0"/>
<rect x="115.10" y="119.69" width="6.61" height="1.50" fill="#8faace"/>
<rect x="121.65" y="119.69" width="6.61" height="1.50" fill="#88a4cb"/>
<rect x="128.20" y="119.69" width="6.61" height="1.50" fill="#7594c2"/>
<rect x="134.76" y="119.69" width="6.61" height="1.50" fill="#8faace"/>
<rect x="141.31" y="119.69" width="6.61" height="1.50" fill="#5d81b5"/>
<rect x="147.87" y="119.69" width="6.61" height="1.50" fill="#4e75ad"/>
<rect x="154.42" y="119.69" width="6.61" height="1.50" fill="#426aa5"/>
<rect x="160.98" y="119.69" width="6.61" height="1.50" fill="#9ab3d3"/>
<rect x="167.53" y="119.69" width="6.61" height="1.50" fill="#89a4cb"/>
<rect x="174.08" y="119.69" width="6.61" height="1.50" fill="#99b2d3"/>
<rect x="180.64" y="119.69" width="6.61" height="1.50" fill="#3e66a1"/>
<rect x="187.19" y="119.69" width="6.61" height="1.50" fill="#153362"/>
<rect x="193.75" y="119.69" width="6.61" height="1.50" fill="#1b417b"/>
<rect x="43.00" y="121.13" width="6.61" height="1.50" fill="#c7d6e7"/>
<rect x="49.55" y="121.13" width="6.61" height="1.50" fill="#5b7fb4"/>
<rect x="56.11" y="121.13" width="6.61" height="1.50" fill="#7997c4"/>
<rect x="62.66" y="121.13" width="6.61" height="1.50" fill="#587cb2"/>
<rect x="69.22" y="121.13" width="6.61" height="1.50" fill="#4970aa"/>
<rect x="75.77" y="121.13" width="6.61" height="1.50" fill="#426aa4"/>
<rect x="82.33" y="121.13" width="6.61" height="1.50" fill="#bfd0e4"/>
<rect x="88.88" y="121.13" width="6.61" height="1.50" fill="#bbcde2"/>
<rect x="95.43" y="121.13" width="6.61" height="1.50" fill="#b0c5dd"/>
<rect x="101.99" y="121.13" width="6.61" height="1.50" fill="#84a0c9"/>
<rect x="108.54" y="121.13" width="6.61" height="1.50" fill="#7998c4"/>
<rect x="115.10" y="121.13" width="6.61" height="1.50" fill="#4e74ac"/>
<rect x="121.65" y="121.13" width="6.61" height="1.50" fill="#5d81b5"/>
<rect x="128.20" y="121.13" width="6.61" height="1.50" fill="#5177ae"/>
<rect x="134.76" y="121.13" width="6.61" height="1.50" fill="#567bb1"/>
<rect x="141.31" y="121.13" width="6.61" height="1.50" fill="#1d4685"/>
<rect x="147.87" y="121.13" width="6.61" height="1.50" fill="#244e8d"/>
<rect x="154.42" y="121.13" width="6.61" height="1.50" fill="#081830"/>
<rect x="160.98" y="121.13" width="6.61" height="1.50" fill="#a1b9d6"/>
<rect x="167.53" y="121.13" width="6.61" height="1.50" fill="#aec3dc"/>
<rect x="174.08" y="121.13" width="6.61" height="1.50" fill="#97b1d2"/>
<rect x="180.64" y="121.13" width="6.61" height="1.50" fill="#486fa9"/>
<rect x="187.19" y="121.13" width="6.61" height="1.50" fill="#6f8fbf"/>
<rect x="193.75" y="121.13" width="6.61" height="1.50" fill="#153463"/>
<rect x="43.00" y="122.56" width="6.61" height="1.50" fill="#89a5cc"/>
<rect x="49.55" y="122.56" width="6.61" height="1.50" fill="#4b72ab"/>
<rect x="56.11" y="122.56" width="6.61" height="1.50" fill="#3a629e"/>
<rect x="62.66" y="122.56" width="6.61" height="1.50" fill="#1c437e"/>
<rect x="69.22" y="122.56" width="6.61" height="1.50" fill="#193e75"/>
<rect x="75.77" y="122.56" width="6.61" height="1.50" fill="#1d4685"/>
<rect x="82.33" y="122.56" width="6.61" height="1.50" fill="#d4e0ed"/>
<rect x="88.88" y="122.56" width="6.61" height="1.50" fill="#d9e4ef"/>
<rect x="95.43" y="122.56" width="6.61" height="1.50" fill="#b8cbe1"/>
<rect x="101.99" y="122.56" width="6.61" height="1.50" fill="#9bb4d4"/>
<rect x="108.54" y="122.56" width="6.61" height="1.50" fill="#8ea9ce"/>
<rect x="115.10" y="122.56" width="6.61" height="1.50" fill="#7090c0"/>
<rect x="121.65" y="122.56" width="6.61" height="1.50" fill="#8faace"/>
<rect x="128.20" y="122.56" width="6.61" height="1.50" fill="#829fc8"/>
<rect x="134.76" y="122.56" width="6.61" height="1.50" fill="#85a2ca"/>
<rect x="141.31" y="122.56" width="6.61" height="1.50" fill="#587cb2"/>
<rect x="147.87" y="122.56" width="6.61" height="1.50" fill="#436ba5"/>
<rect x="154.42" y="122.56" width="6.61" height="1.50" fill="#193e75"/>
<rect x="160.98" y="122.56" width="6.61" height="1.50" fill="#b2c6de"/>
<rect x="167.53" y="122.56" width="6.61" height="1.50" fill="#bfd0e4"/>
<rect x="174.08" y="122.56" width="6.61" height="1.50" fill="#a9bfda"/>
<rect x="180.64" y="122.56" width="6.61" height="1.50" fill="#6285b8"/>
<rect x="187.19" y="122.56" width="6.61" height="1.50" fill="#2d5694"/>
<rect x="193.75" y="122.56" width="6.61" height="1.50" fill="#4169a4"/>
<rect x="43.00" y="124.00" width="6.61" height="1.50" fill="#b4c8df"/>
<rect x="49.55" y="124.00" width="6.61" height="1.50" fill="#6789bb"/>
<rect x="56.11" y="124.00" width="6.61" height="1.50" fill="#6284b8"/>
<rect x="62.66" y="124.00" width="6.61" height="1.50" fill="#5f82b6"/>
<rect x="69.22" y="124.00" width="6.61" height="1.50" fill="#436ba6"/>
<rect x="75.77" y="124.00" width="6.61" height="1.50" fill="#436ba5"/>
<rect x="82.33" y="124.00" width="6.61" height="1.50" fill="#7e9cc6"/>
<rect x="88.88" y="124.00" width="6.61" height="1.50" fill="#8aa6cc"/>
<rect x="95.43" y="124.00" width="6.61" height="1.50" fill="#829fc8"/>
<rect x="101.99" y="124.00" width="6.61" height="1.50" fill="#557ab0"/>
<rect x="108.54" y="124.00" width="6.61" height="1.50" fill="#5e82b6"/>
<rect x="115.10" y="124.00" width="6.61" height="1.50" fill="#426aa5"/>
<rect x="121.65" y="124.00" width="6.61" height="1.50" fill="#8faace"/>
<rect x="128.20" y="124.00" width="6.61" height="1.50" fill="#9ab3d3"/>
<rect x="134.76" y="124.00" width="6.61" height="1.50" fill="#7594c2"/>
<rect x="141.31" y="124.00" width="6.61" height="1.50" fill="#5177ae"/>
<rect x="147.87" y="124.00" width="6.61" height="1.50" fill="#5378af"/>
<rect x="154.42" y="124.00" width="6.61" height="1.50" fill="#081830"/>
<rect x="160.98" y="124.00" width="6.61" height="1.50" fill="#456da7"/>
<rect x="167.53" y="124.00" width="6.61" height="1.50" fill="#3d66a1"/>
<rect x="174.08" y="124.00" width="6.61" height="1.50" fill="#5379b0"/>
<rect x="180.64" y="124.00" width="6.61" height="1.50" fill="#122d57"/>
<rect x="187.19" y="124.00" width="6.61" height="1.50" fill="#4b72ab"/>
<rect x="193.75" y="124.00" width="6.61" height="1.50" fill="#0a1c38"/>
<rect x="43.00" y="125.44" width="6.61" height="1.50" fill="#3b639f"/>
<rect x="49.55" y="125.44" width="6.61" height="1.50" fill="#1f4989"/>
<rect x="56.11" y="125.44" width="6.61" height="1.50" fill="#1d4786"/>
<rect x="62.66" y="125.44" width="6.61" height="1.50" fill="#0c2140"/>
<rect x="69.22" y="125.44" width="6.61" height="1.50" fill="#0c2241"/>
<rect x="75.77" y="125.44" width="6.61" height="1.50" fill="#091a33"/>
<rect x="82.33" y="125.44" width="6.61" height="1.50" fill="#89a4cb"/>
<rect x="88.88" y="125.44" width="6.61" height="1.50" fill="#7292c1"/>
<rect x="95.43" y="125.44" width="6.61" height="1.50" fill="#7c9ac5"/>
<rect x="101.99" y="125.44" width="6.61" height="1.50" fill="#688abb"/>
<rect x="108.54" y="125.44" width="6.61" height="1.50" fill="#5076ae"/>
<rect x="115.10" y="125.44" width="6.61" height="1.50" fill="#3b64a0"/>
<rect x="121.65" y="125.44" width="6.61" height="1.50" fill="#5e82b6"/>
<rect x="128.20" y="125.44" width="6.61" height="1.50" fill="#5278af"/>
<rect x="134.76" y="125.44" width="6.61" height="1.50" fill="#436ca6"/>
<rect x="141.31" y="125.44" width="6.61" height="1.50" fill="#1a3f78"/>
<rect x="147.87" y="125.44" width="6.61" height="1.50" fill="#1f4989"/>
<rect x="154.42" y="125.44" width="6.61" height="1.50" fill="#081830"/>
<rect x="160.98" y="125.44" width="6.61" height="1.50" fill="#5479b0"/>
<rect x="167.53" y="125.44" width="6.61" height="1.50" fill="#5278af"/>
<rect x="174.08" y="125.44" width="6.61" height="1.50" fill="#6a8bbd"/>
<rect x="180.64" y="125.44" width="6.61" height="1.50" fill="#295291"/>
<rect x="187.19" y="125.44" width="6.61" height="1.50" fill="#081830"/>
<rect x="193.75" y="125.44" width="6.61" height="1.50" fill="#6c8dbe"/>
<rect x="43.00" y="126.89" width="6.61" height="1.50" fill="#10284e"/>
<rect x="49.55" y="126.89" width="6.61" height="1.50" fill="#27508f"/>
<rect x="56.11" y="126.89" width="6.61" height="1.50" fill="#3b649f"/>
<rect x="62.66" y="126.89" width="6.61" height="1.50" fill="#132f5b"/>
<rect x="69.22" y="126.89" width="6.61" height="1.50" fill="#183b70"/>
<rect x="75.77" y="126.89" width="6.61" height="1.50" fill="#0e2548"/>
<rect x="82.33" y="126.89" width="6.61" height="1.50" fill="#7291c1"/>
<rect x="88.88" y="126.89" width="6.61" height="1.50" fill="#7896c3"/>
<rect x="95.43" y="126.89" width="6.61" height="1.50" fill="#7a98c5"/>
<rect x="101.99" y="126.89" width="6.61" height="1.50" fill="#3a639e"/>
<rect x="108.54" y="126.89" width="6.61" height="1.50" fill="#456da7"/>
<rect x="115.10" y="126.89" width="6.61" height="1.50" fill="#3b639f"/>
<rect x="121.65" y="126.89" width="6.61" height="1.50" fill="#6789bb"/>
<rect x="128.20" y="126.89" width="6.61" height="1.50" fill="#7493c2"/>
<rect x="134.76" y="126.89" width="6.61" height="1.50" fill="#5d81b5"/>
<rect x="141.31" y="126.89" width="6.61" height="1.50" fill="#285190"/>
<rect x="147.87" y="126.89" width="6.61" height="1.50" fill="#2a5391"/>
<rect x="154.42" y="126.89" width="6.61" height="1.50" fill="#081830"/>
<rect x="160.98" y="126.89" width="6.61" height="1.50" fill="#557ab1"/>
<rect x="167.53" y="126.89" width="6.61" height="1.50" fill="#5177ae"/>
<rect x="174.08" y="126.89" width="6.61" height="1.50" fill="#5b7fb4"/>
<rect x="180.64" y="126.89" width="6.61" height="1.50" fill="#305996"/>
<rect x="187.19" y="126.89" width="6.61" height="1.50" fill="#4b72ab"/>
<rect x="193.75" y="126.89" width="6.61" height="1.50" fill="#081830"/>
<rect x="43.00" y="128.33" width="6.61" height="1.50" fill="#7d9bc6"/>
<rect x="49.55" y="128.33" width="6.61" height="1.50" fill="#6b8cbd"/>
<rect x="56.11" y="128.33" width="6.61" height="1.50" fill="#5f82b6"/>
<rect x="62.66" y="128.33" width="6.61" height="1.50" fill="#4f75ad"/>
<rect x="69.22" y="128.33" width="6.61" height="1.50" fill="#38609c"/>
<rect x="75.77" y="128.33" width="6.61" height="1.50" fill="#3a639e"/>
<rect x="82.33" y="128.33" width="6.61" height="1.50" fill="#6f8fbf"/>
<rect x="88.88" y="128.33" width="6.61" height="1.50" fill="#8ca8cd"/>
<rect x="95.43" y="128.33" width="6.61" height="1.50" fill="#7191c0"/>
<rect x="101.99" y="128.33" width="6.61" height="1.50" fill="#446ca6"/>
<rect x="108.54" y="128.33" width="6.61" height="1.50" fill="#3f68a3"/>
<rect x="115.10" y="128.33" width="6.61" height="1.50" fill="#3c64a0"/>
<rect x="121.65" y="128.33" width="6.61" height="1.50" fill="#7190c0"/>
<rect x="128.20" y="128.33" width="6.61" height="1.50" fill="#7c9ac5"/>
<rect x="134.76" y="128.33" width="6.61" height="1.50" fill="#6e8fbf"/>
<rect x="141.31" y="128.33" width="6.61" height="1.50" fill="#38619d"/>
<rect x="147.87" y="128.33" width="6.61" height="1.50" fill="#2f5895"/>
<rect x="154.42" y="128.33" width="6.61" height="1.50" fill="#091a34"/>
<rect x="160.98" y="128.33" width="6.61" height="1.50" fill="#5378af"/>
<rect x="167.53" y="128.33" width="6.61" height="1.50" fill="#547ab0"/>
<rect x="174.08" y="128.33" width="6.61" height="1.50" fill="#557ab1"/>
<rect x="180.64" y="128.33" width="6.61" height="1.50" fill="#122d56"/>
<rect x="187.19" y="128.33" width="6.61" height="1.50" fill="#081830"/>
<rect x="193.75" y="128.33" width="6.61" height="1.50" fill="#081830"/>
<rect x="43.00" y="129.78" width="6.61" height="1.50" fill="#5c80b5"/>
<rect x="49.55" y="129.78" width="6.61" height="1.50" fill="#2b5492"/>
<rect x="56.11" y="129.78" width="6.61" height="1.50" fill="#224c8c"/>
<rect x="62.66" y="129.78" width="6.61" height="1.50" fill="#244e8d"/>
<rect x="69.22" y="129.78" width="6.61" height="1.50" fill="#1a4079"/>
<rect x="75.77" y="129.78" width="6.61" height="1.50" fill="#1e4786"/>
<rect x="82.33" y="129.78" width="6.61" height="1.50" fill="#7191c1"/>
<rect x="88.88" y="129.78" width="6.61" height="1.50" fill="#7594c2"/>
<rect x="95.43" y="129.78" width="6.61" height="1.50" fill="#5e82b6"/>
<rect x="101.99" y="129.78" width="6.61" height="1.50" fill="#4a71aa"/>
<rect x="108.54" y="129.78" width="6.61" height="1.50" fill="#365f9b"/>
<rect x="115.10" y="129.78" width="6.61" height="1.50" fill="#3c65a0"/>
<rect x="121.65" y="129.78" width="6.61" height="1.50" fill="#6587ba"/>
<rect x="128.20" y="129.78" width="6.61" height="1.50" fill="#5076ae"/>
<rect x="134.76" y="129.78" width="6.61" height="1.50" fill="#4f75ad"/>
<rect x="141.31" y="129.78" width="6.61" height="1.50" fill="#305996"/>
<rect x="147.87" y="129.78" width="6.61" height="1.50" fill="#1e4888"/>
<rect x="154.42" y="129.78" width="6.61" height="1.50" fill="#081830"/>
<rect x="160.98" y="129.78" width="6.61" height="1.50" fill="#7191c1"/>
<rect x="167.53" y="129.78" width="6.61" height="1.50" fill="#7090c0"/>
<rect x="174.08" y="129.78" width="6.61" height="1.50" fill="#7796c3"/>
<rect x="180.64" y="129.78" width="6.61" height="1.50" fill="#3f68a3"/>
<rect x="187.19" y="129.78" width="6.61" height="1.50" fill="#4870a9"/>
<rect x="193.75" y="129.78" width="6.61" height="1.50" fill="#90abcf"/>
<rect x="43.00" y="131.22" width="6.61" height="1.50" fill="#5177ae"/>
<rect x="49.55" y="131.22" width="6.61" height="1.50" fill="#6789bb"/>
<rect x="56.11" y="131.22" width="6.61" height="1.50" fill="#5c80b4"/>
<rect x="62.66" y="131.22" width="6.61" height="1.50" fill="#567bb1"/>
<rect x="69.22" y="131.22" width="6.61" height="1.50" fill="#466ea8"/>
<rect x="75.77" y="131.22" width="6.61" height="1.50" fill="#426aa5"/>
<rect x="82.33" y="131.22" width="6.61" height="1.50" fill="#7997c4"/>
<rect x="88.88" y="131.22" width="6.61" height="1.50" fill="#8ea9ce"/>
<rect x="95.43" y="131.22" width="6.61" height="1.50" fill="#83a0c9"/>
<rect x="101.99" y="131.22" width="6.61" height="1.50" fill="#5076ae"/>
<rect x="108.54" y="131.22" width="6.61" height="1.50" fill="#4a71aa"/>
<rect x="115.10" y="131.22" width="6.61" height="1.50" fill="#37609c"/>
<rect x="121.65" y="131.22" width="6.61" height="1.50" fill="#7392c1"/>
<rect x="128.20" y="131.22" width="6.61" height="1.50" fill="#6c8dbe"/>
<rect x="134.76" y="131.22" width="6.61" height="1.50" fill="#809dc7"/>
<rect x="141.31" y="131.22" width="6.61" height="1.50" fill="#2d5794"/>
<rect x="147.87" y="131.22" width="6.61" height="1.50" fill="#27518f"/>
<rect x="154.42" y="131.22" width="6.61" height="1.50" fill="#13315d"/>
<rect x="160.98" y="131.22" width="6.61" height="1.50" fill="#6688ba"/>
<rect x="167.53" y="131.22" width="6.61" height="1.50" fill="#6184b7"/>
<rect x="174.08" y="131.22" width="6.61" height="1.50" fill="#5f82b6"/>
<rect x="180.64" y="131.22" width="6.61" height="1.50" fill="#3c64a0"/>
<rect x="187.19" y="131.22" width="6.61" height="1.50" fill="#6f8fc0"/>
<rect x="193.75" y="131.22" width="6.61" height="1.50" fill="#26508f"/>
<rect x="43.00" y="132.67" width="6.61" height="1.50" fill="#7a98c4"/>
<rect x="49.55" y="132.67" width="6.61" height="1.50" fill="#2d5694"/>
<rect x="56.11" y="132.67" width="6.61" height="1.50" fill="#3a639f"/>
<rect x="62.66" y="132.67" width="6.61" height="1.50" fill="#163667"/>
<rect x="69.22" y="132.67" width="6.61" height="1.50" fill="#132f5a"/>
<rect x="75.77" y="132.67" width="6.61" height="1.50" fill="#132f5a"/>
<rect x="82.33" y="132.67" width="6.61" height="1.50" fill="#99b2d3"/>
<rect x="88.88" y="132.67" width="6.61" height="1.50" fill="#9fb7d5"/>
<rect x="95.43" y="132.67" width="6.61" height="1.50" fill="#7f9dc7"/>
<rect x="101.99" y="132.67" width="6.61" height="1.50" fill="#5277af"/>
<rect x="108.54" y="132.67" width="6.61" height="1.50" fill="#5076ae"/>
<rect x="115.10" y="132.67" width="6.61" height="1.50" fill="#6486b9"/>
<rect x="121.65" y="132.67" width="6.61" height="1.50" fill="#597db3"/>
<rect x="128.20" y="132.67" width="6.61" height="1.50" fill="#4a71aa"/>
<rect x="134.76" y="132.67" width="6.61" height="1.50" fill="#365f9b"/>
<rect x="141.31" y="132.67" width="6.61" height="1.50" fill="#14315e"/>
<rect x="147.87" y="132.67" width="6.61" height="1.50" fill="#1a4079"/>
<rect x="154.42" y="132.67" width="6.61" height="1.50" fill="#081830"/>
<rect x="160.98" y="132.67" width="6.61" height="1.50" fill="#6688ba"/>
<rect x="167.53" y="132.67" width="6.61" height="1.50" fill="#688abb"/>
<rect x="174.08" y="132.67" width="6.61" height="1.50" fill="#5b7fb4"/>
<rect x="180.64" y="132.67" width="6.61" height="1.50" fill="#3e67a2"/>
<rect x="187.19" y="132.67" width="6.61" height="1.50" fill="#4c72ab"/>
<rect x="193.75" y="132.67" width="6.61" height="1.50" fill="#081830"/>
<rect x="43.00" y="134.11" width="6.61" height="1.50" fill="#5c80b5"/>
<rect x="49.55" y="134.11" width="6.61" height="1.50" fill="#5479b0"/>
<rect x="56.11" y="134.11" width="6.61" height="1.50" fill="#345d9a"/>
<rect x="62.66" y="134.11" width="6.61" height="1.50" fill="#3c65a0"/>
<rect x="69.22" y="134.11" width="6.61" height="1.50" fill="#2b5492"/>
<rect x="75.77" y="134.11" width="6.61" height="1.50" fill="#325b98"/>
<rect x="82.33" y="134.11" width="6.61" height="1.50" fill="#547ab0"/>
<rect x="88.88" y="134.11" width="6.61" height="1.50" fill="#6083b7"/>
<rect x="95.43" y="134.11" width="6.61" height="1.50" fill="#5e81b5"/>
<rect x="101.99" y="134.11" width="6.61" height="1.50" fill="#426aa5"/>
<rect x="108.54" y="134.11" width="6.61" height="1.50" fill="#254e8d"/>
<rect x="115.10" y="134.11" width="6.61" height="1.50" fill="#224c8b"/>
<rect x="121.65" y="134.11" width="6.61" height="1.50" fill="#6688ba"/>
<rect x="128.20" y="134.11" width="6.61" height="1.50" fill="#7897c4"/>
<rect x="134.76" y="134.11" width="6.61" height="1.50" fill="#7594c2"/>
<rect x="141.31" y="134.11" width="6.61" height="1.50" fill="#2a5492"/>
<rect x="147.87" y="134.11" width="6.61" height="1.50" fill="#2f5896"/>
<rect x="154.42" y="134.11" width="6.61" height="1.50" fill="#4069a3"/>
<rect x="160.98" y="134.11" width="6.61" height="1.50" fill="#698abc"/>
<rect x="167.53" y="134.11" width="6.61" height="1.50" fill="#5f82b6"/>
<rect x="174.08" y="134.11" width="6.61" height="1.50" fill="#577bb1"/>
<rect x="180.64" y="134.11" width="6.61" height="1.50" fill="#234d8c"/>
<rect x="187.19" y="134.11" width="6.61" height="1.50" fill="#254f8e"/>
<rect x="193.75" y="134.11" width="6.61" height="1.50" fill="#6184b7"/>
<rect x="43.00" y="135.56" width="6.61" height="1.50" fill="#39619d"/>
<rect x="49.55" y="135.56" width="6.61" height="1.50" fill="#3a639e"/>
<rect x="56.11" y="135.56" width="6.61" height="1.50" fill="#3c65a0"/>
<rect x="62.66" y="135.56" width="6.61" height="1.50" fill="#345d99"/>
<rect x="69.22" y="135.56" width="6.61" height="1.50" fill="#1f4988"/>
<rect x="75.77" y="135.56" width="6.61" height="1.50" fill="#1f4989"/>
<rect x="82.33" y="135.56" width="6.61" height="1.50" fill="#6385b8"/>
<rect x="88.88" y="135.56" width="6.61" height="1.50" fill="#6385b9"/>
<rect x="95.43" y="135.56" width="6.61" height="1.50" fill="#6184b7"/>
<rect x="101.99" y="135.56" width="6.61" height="1.50" fill="#38619d"/>
<rect x="108.54" y="135.56" width="6.61" height="1.50" fill="#3a629e"/>
<rect x="115.10" y="135.56" width="6.61" height="1.50" fill="#1d4785"/>
<rect x="121.65" y="135.56" width="6.61" height="1.50" fill="#97b1d2"/>
<rect x="128.20" y="135.56" width="6.61" height="1.50" fill="#819ec8"/>
<rect x="134.76" y="135.56" width="6.61" height="1.50" fill="#8aa6cc"/>
<rect x="141.31" y="135.56" width="6.61" height="1.50" fill="#4a71aa"/>
<rect x="147.87" y="135.56" width="6.61" height="1.50" fill="#456da7"/>
<rect x="154.42" y="135.56" width="6.61" height="1.50" fill="#1c4582"/>
<rect x="160.98" y="135.56" width="6.61" height="1.50" fill="#829fc8"/>
<rect x="167.53" y="135.56" width="6.61" height="1.50" fill="#7f9dc7"/>
<rect x="174.08" y="135.56" width="6.61" height="1.50" fill="#7796c3"/>
<rect x="180.64" y="135.56" width="6.61" height="1.50" fill="#38609d"/>
<rect x="187.19" y="135.56" width="6.61" height="1.50" fill="#1e4888"/>
<rect x="193.75" y="135.56" width="6.61" height="1.50" fill="#355e9a"/>
<rect x="43.00" y="137.00" width="6.61" height="1.44" fill="#eff3f8"/>
<rect x="49.55" y="137.00" width="6.61" height="1.44" fill="#dae5f0"/>
<rect x="56.11" y="137.00" width="6.61" height="1.44" fill="#c8d8e8"/>
<rect x="62.66" y="137.00" width="6.61" height="1.44" fill="#96b0d2"/>
<rect x="69.22" y="137.00" width="6.61" height="1.44" fill="#86a3ca"/>
<rect x="75.77" y="137.00" width="6.61" height="1.44" fill="#809dc7"/>
<rect x="82.33" y="137.00" width="6.61" height="1.44" fill="#dfe8f2"/>
<rect x="88.88" y="137.00" width="6.61" height="1.44" fill="#f0f4f9"/>
<rect x="95.43" y="137.00" width="6.61" height="1.44" fill="#ebf1f7"/>
<rect x="101.99" y="137.00" width="6.61" height="1.44" fill="#b6c9e0"/>
<rect x="108.54" y="137.00" width="6.61" height="1.44" fill="#bacce1"/>
<rect x="115.10" y="137.00" width="6.61" height="1.44" fill="#a1b9d7"/>
<rect x="121.65" y="137.00" width="6.61" height="1.44" fill="#dee8f1"/>
<rect x="128.20" y="137.00" width="6.61" height="1.44" fill="#b8cae1"/>
<rect x="134.76" y="137.00" width="6.61" height="1.44" fill="#c3d3e5"/>
<rect x="141.31" y="137.00" width="6.61" height="1.44" fill="#6385b8"/>
<rect x="147.87" y="137.00" width="6.61" height="1.44" fill="#829fc8"/>
<rect x="154.42" y="137.00" width="6.61" height="1.44" fill="#1c4582"/>
<rect x="160.98" y="137.00" width="6.61" height="1.44" fill="#becfe3"/>
<rect x="167.53" y="137.00" width="6.61" height="1.44" fill="#c0d1e4"/>
<rect x="174.08" y="137.00" width="6.61" height="1.44" fill="#d7e3ee"/>
<rect x="180.64" y="137.00" width="6.61" height="1.44" fill="#4c73ab"/>
<rect x="187.19" y="137.00" width="6.61" height="1.44" fill="#6386b9"/>
<rect x="193.75" y="137.00" width="6.61" height="1.44" fill="#081830"/>
<rect x="43.00" y="138.38" width="6.61" height="1.44" fill="#d2dfec"/>
<rect x="49.55" y="138.38" width="6.61" height="1.44" fill="#b2c6de"/>
<rect x="56.11" y="138.38" width="6.61" height="1.44" fill="#a2b9d7"/>
<rect x="62.66" y="138.38" width="6.61" height="1.44" fill="#6688ba"/>
<rect x="69.22" y="138.38" width="6.61" height="1.44" fill="#6284b8"/>
<rect x="75.77" y="138.38" width="6.61" height="1.44" fill="#6487b9"/>
<rect x="82.33" y="138.38" width="6.61" height="1.44" fill="#cfddeb"/>
<rect x="88.88" y="138.38" width="6.61" height="1.44" fill="#dbe6f0"/>
<rect x="95.43" y="138.38" width="6.61" height="1.44" fill="#d0deec"/>
<rect x="101.99" y="138.38" width="6.61" height="1.44" fill="#9ab3d3"/>
<rect x="108.54" y="138.38" width="6.61" height="1.44" fill="#85a1ca"/>
<rect x="115.10" y="138.38" width="6.61" height="1.44" fill="#6a8bbc"/>
<rect x="121.65" y="138.38" width="6.61" height="1.44" fill="#b0c5dd"/>
<rect x="128.20" y="138.38" width="6.61" height="1.44" fill="#b5c9e0"/>
<rect x="134.76" y="138.38" width="6.61" height="1.44" fill="#b2c6de"/>
<rect x="141.31" y="138.38" width="6.61" height="1.44" fill="#6083b7"/>
<rect x="147.87" y="138.38" width="6.61" height="1.44" fill="#4870a9"/>
<rect x="154.42" y="138.38" width="6.61" height="1.44" fill="#081830"/>
<rect x="160.98" y="138.38" width="6.61" height="1.44" fill="#ccdaea"/>
<rect x="167.53" y="138.38" width="6.61" height="1.44" fill="#d1deec"/>
<rect x="174.08" y="138.38" width="6.61" height="1.44" fill="#dee7f1"/>
<rect x="180.64" y="138.38" width="6.61" height="1.44" fill="#557ab0"/>
<rect x="187.19" y="138.38" width="6.61" height="1.44" fill="#5c80b5"/>
<rect x="193.75" y="138.38" width="6.61" height="1.44" fill="#466ea8"/>
<rect x="43.00" y="139.75" width="6.61" height="1.44" fill="#bfd0e4"/>
<rect x="49.55" y="139.75" width="6.61" height="1.44" fill="#d1deec"/>
<rect x="56.11" y="139.75" width="6.61" height="1.44" fill="#aec3dc"/>
<rect x="62.66" y="139.75" width="6.61" height="1.44" fill="#7695c3"/>
<rect x="69.22" y="139.75" width="6.61" height="1.44" fill="#7b99c5"/>
<rect x="75.77" y="139.75" width="6.61" height="1.44" fill="#6b8cbd"/>
<rect x="82.33" y="139.75" width="6.61" height="1.44" fill="#e3ebf3"/>
<rect x="88.88" y="139.75" width="6.61" height="1.44" fill="#f3f7fa"/>
<rect x="95.43" y="139.75" width="6.61" height="1.44" fill="#eef3f8"/>
<rect x="101.99" y="139.75" width="6.61" height="1.44" fill="#c4d4e6"/>
<rect x="108.54" y="139.75" width="6.61" height="1.44" fill="#bfd0e4"/>
<rect x="115.10" y="139.75" width="6.61" height="1.44" fill="#a4bbd8"/>
<rect x="121.65" y="139.75" width="6.61" height="1.44" fill="#c4d4e6"/>
<rect x="128.20" y="139.75" width="6.61" height="1.44" fill="#b1c6de"/>
<rect x="134.76" y="139.75" width="6.61" height="1.44" fill="#bccee3"/>
<rect x="141.31" y="139.75" width="6.61" height="1.44" fill="#6e8ebf"/>
<rect x="147.87" y="139.75" width="6.61" height="1.44" fill="#5f82b6"/>
<rect x="154.42" y="139.75" width="6.61" height="1.44" fill="#0c2141"/>
<rect x="160.98" y="139.75" width="6.61" height="1.44" fill="#d4e0ed"/>
<rect x="167.53" y="139.75" width="6.61" height="1.44" fill="#d6e2ee"/>
<rect x="174.08" y="139.75" width="6.61" height="1.44" fill="#d1deec"/>
<rect x="180.64" y="139.75" width="6.61" height="1.44" fill="#3d66a1"/>
<rect x="187.19" y="139.75" width="6.61" height="1.44" fill="#6889bb"/>
<rect x="193.75" y="139.75" width="6.61" height="1.44" fill="#6789bb"/>
<rect x="43.00" y="141.12" width="6.61" height="1.44" fill="#eff3f8"/>
<rect x="49.55" y="141.12" width="6.61" height="1.44" fill="#bbcde2"/>
<rect x="56.11" y="141.12" width="6.61" height="1.44" fill="#c3d3e6"/>
<rect x="62.66" y="141.12" width="6.61" height="1.44" fill="#91accf"/>
<rect x="69.22" y="141.12" width="6.61" height="1.44" fill="#7e9cc7"/>
<rect x="75.77" y="141.12" width="6.61" height="1.44" fill="#7a98c5"/>
<rect x="82.33" y="141.12" width="6.61" height="1.44" fill="#f5f8fb"/>
<rect x="88.88" y="141.12" width="6.61" height="1.44" fill="#edf3f8"/>
<rect x="95.43" y="141.12" width="6.61" height="1.44" fill="#e5edf4"/>
<rect x="101.99" y="141.12" width="6.61" height="1.44" fill="#adc2dc"/>
<rect x="108.54" y="141.12" width="6.61" height="1.44" fill="#b6c9e0"/>
<rect x="115.10" y="141.12" width="6.61" height="1.44" fill="#9eb7d5"/>
<rect x="121.65" y="141.12" width="6.61" height="1.44" fill="#dee7f1"/>
<rect x="128.20" y="141.12" width="6.61" height="1.44" fill="#b1c5de"/>
<rect x="134.76" y="141.12" width="6.61" height="1.44" fill="#d9e4ef"/>
<rect x="141.31" y="141.12" width="6.61" height="1.44" fill="#8ea9ce"/>
<rect x="147.87" y="141.12" width="6.61" height="1.44" fill="#7493c2"/>
<rect x="154.42" y="141.12" width="6.61" height="1.44" fill="#305a97"/>
<rect x="160.98" y="141.12" width="6.61" height="1.44" fill="#cad9e9"/>
<rect x="167.53" y="141.12" width="6.61" height="1.44" fill="#c6d5e7"/>
<rect x="174.08" y="141.12" width="6.61" height="1.44" fill="#c6d6e7"/>
<rect x="180.64" y="141.12" width="6.61" height="1.44" fill="#355e9b"/>
<rect x="187.19" y="141.12" width="6.61" height="1.44" fill="#39619d"/>
<rect x="193.75" y="141.12" width="6.61" height="1.44" fill="#1e4786"/>
<rect x="43.00" y="142.50" width="6.61" height="1.44" fill="#eff3f8"/>
<rect x="49.55" y="142.50" width="6.61" height="1.44" fill="#c1d2e5"/>
<rect x="56.11" y="142.50" width="6.61" height="1.44" fill="#a5bcd8"/>
<rect x="62.66" y="142.50" width="6.61" height="1.44" fill="#6c8dbe"/>
<rect x="69.22" y="142.50" width="6.61" height="1.44" fill="#6083b7"/>
<rect x="75.77" y="142.50" width="6.61" height="1.44" fill="#6487b9"/>
<rect x="82.33" y="142.50" width="6.61" height="1.44" fill="#f2f6fa"/>
<rect x="88.88" y="142.50" width="6.61" height="1.44" fill="#e6edf5"/>
<rect x="95.43" y="142.50" width="6.61" height="1.44" fill="#dce6f1"/>
<rect x="101.99" y="142.50" width="6.61" height="1.44" fill="#adc2dc"/>
<rect x="108.54" y="142.50" width="6.61" height="1.44" fill="#abc1db"/>
<rect x="115.10" y="142.50" width="6.61" height="1.44" fill="#87a3ca"/>
<rect x="121.65" y="142.50" width="6.61" height="1.44" fill="#d5e1ee"/>
<rect x="128.20" y="142.50" width="6.61" height="1.44" fill="#c5d5e7"/>
<rect x="134.76" y="142.50" width="6.61" height="1.44" fill="#cddbea"/>
<rect x="141.31" y="142.50" width="6.61" height="1.44" fill="#6b8cbd"/>
<rect x="147.87" y="142.50" width="6.61" height="1.44" fill="#6c8dbe"/>
<rect x="154.42" y="142.50" width="6.61" height="1.44" fill="#081830"/>
<rect x="160.98" y="142.50" width="6.61" height="1.44" fill="#c3d3e6"/>
<rect x="167.53" y="142.50" width="6.61" height="1.44" fill="#c5d5e7"/>
<rect x="174.08" y="142.50" width="6.61" height="1.44" fill="#c1d2e5"/>
<rect x="180.64" y="142.50" width="6.61" height="1.44" fill="#2e5795"/>
<rect x="187.19" y="142.50" width="6.61" height="1.44" fill="#26508e"/>
<rect x="193.75" y="142.50" width="6.61" height="1.44" fill="#1b417b"/>
<rect x="43.00" y="143.88" width="6.61" height="1.44" fill="#dce6f1"/>
<rect x="49.55" y="143.88" width="6.61" height="1.44" fill="#d5e1ed"/>
<rect x="56.11" y="143.88" width="6.61" height="1.44" fill="#b7cae0"/>
<rect x="62.66" y="143.88" width="6.61" height="1.44" fill="#91abcf"/>
<rect x="69.22" y="143.88" width="6.61" height="1.44" fill="#86a3ca"/>
<rect x="75.77" y="143.88" width="6.61" height="1.44" fill="#6e8ebf"/>
<rect x="82.33" y="143.88" width="6.61" height="1.44" fill="#d0ddeb"/>
<rect x="88.88" y="143.88" width="6.61" height="1.44" fill="#c3d3e6"/>
<rect x="95.43" y="143.88" width="6.61" height="1.44" fill="#cddbea"/>
<rect x="101.99" y="143.88" width="6.61" height="1.44" fill="#92accf"/>
<rect x="108.54" y="143.88" width="6.61" height="1.44" fill="#84a1c9"/>
<rect x="115.10" y="143.88" width="6.61" height="1.44" fill="#6083b7"/>
<rect x="121.65" y="143.88" width="6.61" height="1.44" fill="#d1deec"/>
<rect x="128.20" y="143.88" width="6.61" height="1.44" fill="#c3d3e5"/>
<rect x="134.76" y="143.88" width="6.61" height="1.44" fill="#c2d2e5"/>
<rect x="141.31" y="143.88" width="6.61" height="1.44" fill="#6f8fbf"/>
<rect x="147.87" y="143.88" width="6.61" height="1.44" fill="#557ab1"/>
<rect x="154.42" y="143.88" width="6.61" height="1.44" fill="#315a97"/>
<rect x="160.98" y="143.88" width="6.61" height="1.44" fill="#cbd9e9"/>
<rect x="167.53" y="143.88" width="6.61" height="1.44" fill="#dee8f1"/>
<rect x="174.08" y="143.88" width="6.61" height="1.44" fill="#e4ecf4"/>
<rect x="180.64" y="143.88" width="6.61" height="1.44" fill="#5379b0"/>
<rect x="187.19" y="143.88" width="6.61" height="1.44" fill="#456da7"/>
<rect x="193.75" y="143.88" width="6.61" height="1.44" fill="#37609c"/>
<rect x="43.00" y="145.25" width="6.61" height="1.44" fill="#e0e9f2"/>
<rect x="49.55" y="145.25" width="6.61" height="1.44" fill="#b7cae0"/>
<rect x="56.11" y="145.25" width="6.61" height="1.44" fill="#b6c9e0"/>
<rect x="62.66" y="145.25" width="6.61" height="1.44" fill="#7190c0"/>
<rect x="69.22" y="145.25" width="6.61" height="1.44" fill="#5f82b6"/>
<rect x="75.77" y="145.25" width="6.61" height="1.44" fill="#567bb1"/>
<rect x="82.33" y="145.25" width="6.61" height="1.44" fill="#e1eaf3"/>
<rect x="88.88" y="145.25" width="6.61" height="1.44" fill="#eff4f9"/>
<rect x="95.43" y="145.25" width="6.61" height="1.44" fill="#e1eaf2"/>
<rect x="101.99" y="145.25" width="6.61" height="1.44" fill="#9cb5d4"/>
<rect x="108.54" y="145.25" width="6.61" height="1.44" fill="#a2b9d7"/>
<rect x="115.10" y="145.25" width="6.61" height="1.44" fill="#8da9cd"/>
<rect x="121.65" y="145.25" width="6.61" height="1.44" fill="#d9e4ef"/>
<rect x="128.20" y="145.25" width="6.61" height="1.44" fill="#d2dfec"/>
<rect x="134.76" y="145.25" width="6.61" height="1.44" fill="#bdcfe3"/>
<rect x="141.31" y="145.25" width="6.61" height="1.44" fill="#7f9cc7"/>
<rect x="147.87" y="145.25" width="6.61" height="1.44" fill="#7b99c5"/>
<rect x="154.42" y="145.25" width="6.61" height="1.44" fill="#193c73"/>
<rect x="160.98" y="145.25" width="6.61" height="1.44" fill="#d2dfec"/>
<rect x="167.53" y="145.25" width="6.61" height="1.44" fill="#d8e3ef"/>
<rect x="174.08" y="145.25" width="6.61" height="1.44" fill="#cfddeb"/>
<rect x="180.64" y="145.25" width="6.61" height="1.44" fill="#4c73ab"/>
<rect x="187.19" y="145.25" width="6.61" height="1.44" fill="#153565"/>
<rect x="193.75" y="145.25" width="6.61" height="1.44" fill="#6889bb"/>
<rect x="43.00" y="146.62" width="6.61" height="1.44" fill="#e2eaf3"/>
<rect x="49.55" y="146.62" width="6.61" height="1.44" fill="#c1d2e5"/>
<rect x="56.11" y="146.62" width="6.61" height="1.44" fill="#9eb6d5"/>
<rect x="62.66" y="146.62" width="6.61" height="1.44" fill="#5d81b5"/>
<rect x="69.22" y="146.62" width="6.61" height="1.44" fill="#7090c0"/>
<rect x="75.77" y="146.62" width="6.61" height="1.44" fill="#5e81b6"/>
<rect x="82.33" y="146.62" width="6.61" height="1.44" fill="#d7e3ef"/>
<rect x="88.88" y="146.62" width="6.61" height="1.44" fill="#dee8f1"/>
<rect x="95.43" y="146.62" width="6.61" height="1.44" fill="#dee8f1"/>
<rect x="101.99" y="146.62" width="6.61" height="1.44" fill="#7f9dc7"/>
<rect x="108.54" y="146.62" width="6.61" height="1.44" fill="#a7bed9"/>
<rect x="115.10" y="146.62" width="6.61" height="1.44" fill="#8ba6cc"/>
<rect x="121.65" y="146.62" width="6.61" height="1.44" fill="#d1deec"/>
<rect x="128.20" y="146.62" width="6.61" height="1.44" fill="#d7e2ee"/>
<rect x="134.76" y="146.62" width="6.61" height="1.44" fill="#bfd0e4"/>
<rect x="141.31" y="146.62" width="6.61" height="1.44" fill="#8faace"/>
<rect x="147.87" y="146.62" width="6.61" height="1.44" fill="#86a3ca"/>
<rect x="154.42" y="146.62" width="6.61" height="1.44" fill="#254e8d"/>
<rect x="160.98" y="146.62" width="6.61" height="1.44" fill="#afc3dc"/>
<rect x="167.53" y="146.62" width="6.61" height="1.44" fill="#b8cbe1"/>
<rect x="174.08" y="146.62" width="6.61" height="1.44" fill="#a8bfda"/>
<rect x="180.64" y="146.62" width="6.61" height="1.44" fill="#1e4887"/>
<rect x="187.19" y="146.62" width="6.61" height="1.44" fill="#1b427d"/>
<rect x="193.75" y="146.62" width="6.61" height="1.44" fill="#264f8e"/>
<rect x="43.00" y="148.00" width="6.61" height="1.56" fill="#d4e0ed"/>
<rect x="49.55" y="148.00" width="6.61" height="1.56" fill="#c7d6e7"/>
<rect x="56.11" y="148.00" width="6.61" height="1.56" fill="#96b0d2"/>
<rect x="62.66" y="148.00" width="6.61" height="1.56" fill="#88a4cb"/>
<rect x="69.22" y="148.00" width="6.61" height="1.56" fill="#7a99c5"/>
<rect x="75.77" y="148.00" width="6.61" height="1.56" fill="#7090c0"/>
<rect x="82.33" y="148.00" width="6.61" height="1.56" fill="#c7d6e7"/>
<rect x="88.88" y="148.00" width="6.61" height="1.56" fill="#c9d8e8"/>
<rect x="95.43" y="148.00" width="6.61" height="1.56" fill="#c6d5e7"/>
<rect x="101.99" y="148.00" width="6.61" height="1.56" fill="#93add0"/>
<rect x="108.54" y="148.00" width="6.61" height="1.56" fill="#9bb4d4"/>
<rect x="115.10" y="148.00" width="6.61" height="1.56" fill="#7b9ac5"/>
<rect x="121.65" y="148.00" width="6.61" height="1.56" fill="#e7eef5"/>
<rect x="128.20" y="148.00" width="6.61" height="1.56" fill="#ccdae9"/>
<rect x="134.76" y="148.00" width="6.61" height="1.56" fill="#d4e1ed"/>
<rect x="141.31" y="148.00" width="6.61" height="1.56" fill="#a5bcd8"/>
<rect x="147.87" y="148.00" width="6.61" height="1.56" fill="#a3bad7"/>
<rect x="154.42" y="148.00" width="6.61" height="1.56" fill="#3e66a2"/>
<rect x="160.98" y="148.00" width="6.61" height="1.56" fill="#d8e4ef"/>
<rect x="167.53" y="148.00" width="6.61" height="1.56" fill="#d8e3ef"/>
<rect x="174.08" y="148.00" width="6.61" height="1.56" fill="#dae5ef"/>
<rect x="180.64" y="148.00" width="6.61" height="1.56" fill="#7594c2"/>
<rect x="187.19" y="148.00" width="6.61" height="1.56" fill="#a5bcd8"/>
<rect x="193.75" y="148.00" width="6.61" height="1.56" fill="#5278af"/>
<rect x="43.00" y="149.50" width="6.61" height="1.56" fill="#e9f0f6"/>
<rect x="49.55" y="149.50" width="6.61" height="1.56" fill="#c7d6e7"/>
<rect x="56.11" y="149.50" width="6.61" height="1.56" fill="#adc2dc"/>
<rect x="62.66" y="149.50" width="6.61" height="1.56" fill="#8aa6cc"/>
<rect x="69.22" y="149.50" width="6.61" height="1.56" fill="#6c8dbe"/>
<rect x="75.77" y="149.50" width="6.61" height="1.56" fill="#6587ba"/>
<rect x="82.33" y="149.50" width="6.61" height="1.56" fill="#ccdbea"/>
<rect x="88.88" y="149.50" width="6.61" height="1.56" fill="#d7e2ee"/>
<rect x="95.43" y="149.50" width="6.61" height="1.56" fill="#dee8f1"/>
<rect x="101.99" y="149.50" width="6.61" height="1.56" fill="#a4bbd8"/>
<rect x="108.54" y="149.50" width="6.61" height="1.56" fill="#aac0da"/>
<rect x="115.10" y="149.50" width="6.61" height="1.56" fill="#7f9cc7"/>
<rect x="121.65" y="149.50" width="6.61" height="1.56" fill="#c4d4e6"/>
<rect x="128.20" y="149.50" width="6.61" height="1.56" fill="#aec3dc"/>
<rect x="134.76" y="149.50" width="6.61" height="1.56" fill="#b7cae0"/>
<rect x="141.31" y="149.50" width="6.61" height="1.56" fill="#7c9ac6"/>
<rect x="147.87" y="149.50" width="6.61" height="1.56" fill="#87a3cb"/>
<rect x="154.42" y="149.50" width="6.61" height="1.56" fill="#2e5895"/>
<rect x="160.98" y="149.50" width="6.61" height="1.56" fill="#ebf1f7"/>
<rect x="167.53" y="149.50" width="6.61" height="1.56" fill="#e5ecf4"/>
<rect x="174.08" y="149.50" width="6.61" height="1.56" fill="#e8eef5"/>
<rect x="180.64" y="149.50" width="6.61" height="1.56" fill="#90aacf"/>
<rect x="187.19" y="149.50" width="6.61" height="1.56" fill="#7997c4"/>
<rect x="193.75" y="149.50" width="6.61" height="1.56" fill="#86a3ca"/>
<rect x="43.00" y="151.00" width="6.61" height="1.56" fill="#b3c7de"/>
<rect x="49.55" y="151.00" width="6.61" height="1.56" fill="#b5c8df"/>
<rect x="56.11" y="151.00" width="6.61" height="1.56" fill="#99b2d3"/>
<rect x="62.66" y="151.00" width="6.61" height="1.56" fill="#6083b7"/>
<rect x="69.22" y="151.00" width="6.61" height="1.56" fill="#6c8dbe"/>
<rect x="75.77" y="151.00" width="6.61" height="1.56" fill="#6688ba"/>
<rect x="82.33" y="151.00" width="6.61" height="1.56" fill="#e6eef5"/>
<rect x="88.88" y="151.00" width="6.61" height="1.56" fill="#e6eef5"/>
<rect x="95.43" y="151.00" width="6.61" height="1.56" fill="#e3ebf3"/>
<rect x="101.99" y="151.00" width="6.61" height="1.56" fill="#c8d8e8"/>
<rect x="108.54" y="151.00" width="6.61" height="1.56" fill="#c0d1e4"/>
<rect x="115.10" y="151.00" width="6.61" height="1.56" fill="#9bb4d4"/>
<rect x="121.65" y="151.00" width="6.61" height="1.56" fill="#dde7f1"/>
<rect x="128.20" y="151.00" width="6.61" height="1.56" fill="#acc1db"/>
<rect x="134.76" y="151.00" width="6.61" height="1.56" fill="#adc2dc"/>
<rect x="141.31" y="151.00" width="6.61" height="1.56" fill="#8aa6cc"/>
<rect x="147.87" y="151.00" width="6.61" height="1.56" fill="#7897c4"/>
<rect x="154.42" y="151.00" width="6.61" height="1.56" fill="#081830"/>
<rect x="160.98" y="151.00" width="6.61" height="1.56" fill="#dbe6f0"/>
<rect x="167.53" y="151.00" width="6.61" height="1.56" fill="#d1deec"/>
<rect x="174.08" y="151.00" width="6.61" height="1.56" fill="#dde7f1"/>
<rect x="180.64" y="151.00" width="6.61" height="1.56" fill="#7695c3"/>
<rect x="187.19" y="151.00" width="6.61" height="1.56" fill="#819ec8"/>
<rect x="193.75" y="151.00" width="6.61" height="1.56" fill="#6688ba"/>
<rect x="43.00" y="152.50" width="6.61" height="1.56" fill="#bacce2"/>
<rect x="49.55" y="152.50" width="6.61" height="1.56" fill="#bccee2"/>
<rect x="56.11" y="152.50" width="6.61" height="1.56" fill="#8da8cd"/>
<rect x="62.66" y="152.50" width="6.61" height="1.56" fill="#7493c2"/>
<rect x="69.22" y="152.50" width="6.61" height="1.56" fill="#6d8dbe"/>
<rect x="75.77" y="152.50" width="6.61" height="1.56" fill="#6385b8"/>
<rect x="82.33" y="152.50" width="6.61" height="1.56" fill="#b5c9df"/>
<rect x="88.88" y="152.50" width="6.61" height="1.56" fill="#b1c5de"/>
<rect x="95.43" y="152.50" width="6.61" height="1.56" fill="#aac0db"/>
<rect x="101.99" y="152.50" width="6.61" height="1.56" fill="#819ec8"/>
<rect x="108.54" y="152.50" width="6.61" height="1.56" fill="#8ba7cd"/>
<rect x="115.10" y="152.50" width="6.61" height="1.56" fill="#5e81b6"/>
<rect x="121.65" y="152.50" width="6.61" height="1.56" fill="#a6bcd9"/>
<rect x="128.20" y="152.50" width="6.61" height="1.56" fill="#85a2ca"/>
<rect x="134.76" y="152.50" width="6.61" height="1.56" fill="#6c8cbd"/>
<rect x="141.31" y="152.50" width="6.61" height="1.56" fill="#416aa4"/>
<rect x="147.87" y="152.50" width="6.61" height="1.56" fill="#4c73ab"/>
<rect x="154.42" y="152.50" width="6.61" height="1.56" fill="#143361"/>
<rect x="160.98" y="152.50" width="6.61" height="1.56" fill="#dce6f1"/>
<rect x="167.53" y="152.50" width="6.61" height="1.56" fill="#dee8f1"/>
<rect x="174.08" y="152.50" width="6.61" height="1.56" fill="#d3e0ed"/>
<rect x="180.64" y="152.50" width="6.61" height="1.56" fill="#7e9cc7"/>
<rect x="187.19" y="152.50" width="6.61" height="1.56" fill="#7896c4"/>
<rect x="193.75" y="152.50" width="6.61" height="1.56" fill="#345d9a"/>
<rect x="43.00" y="154.00" width="6.61" height="1.56" fill="#dee8f1"/>
<rect x="49.55" y="154.00" width="6.61" height="1.56" fill="#b8cae1"/>
<rect x="56.11" y="154.00" width="6.61" height="1.56" fill="#a8beda"/>
<rect x="62.66" y="154.00" width="6.61" height="1.56" fill="#99b2d3"/>
<rect x="69.22" y="154.00" width="6.61" height="1.56" fill="#7594c2"/>
<rect x="75.77" y="154.00" width="6.61" height="1.56" fill="#557ab1"/>
<rect x="82.33" y="154.00" width="6.61" height="1.56" fill="#c0d1e4"/>
<rect x="88.88" y="154.00" width="6.61" height="1.56" fill="#bdcee3"/>
<rect x="95.43" y="154.00" width="6.61" height="1.56" fill="#c7d6e7"/>
<rect x="101.99" y="154.00" width="6.61" height="1.56" fill="#a1b9d6"/>
<rect x="108.54" y="154.00" width="6.61" height="1.56" fill="#92acd0"/>
<rect x="115.10" y="154.00" width="6.61" height="1.56" fill="#7392c1"/>
<rect x="121.65" y="154.00" width="6.61" height="1.56" fill="#b5c9df"/>
<rect x="128.20" y="154.00" width="6.61" height="1.56" fill="#7d9bc6"/>
<rect x="134.76" y="154.00" width="6.61" height="1.56" fill="#a3bad7"/>
<rect x="141.31" y="154.00" width="6.61" height="1.56" fill="#5278af"/>
<rect x="147.87" y="154.00" width="6.61" height="1.56" fill="#4d73ac"/>
<rect x="154.42" y="154.00" width="6.61" height="1.56" fill="#193c72"/>
<rect x="160.98" y="154.00" width="6.61" height="1.56" fill="#dde7f1"/>
<rect x="167.53" y="154.00" width="6.61" height="1.56" fill="#e9f0f6"/>
<rect x="174.08" y="154.00" width="6.61" height="1.56" fill="#d7e3ee"/>
<rect x="180.64" y="154.00" width="6.61" height="1.56" fill="#8ca7cd"/>
<rect x="187.19" y="154.00" width="6.61" height="1.56" fill="#98b1d2"/>
<rect x="193.75" y="154.00" width="6.61" height="1.56" fill="#7d9bc6"/>
<rect x="43.00" y="155.50" width="6.61" height="1.56" fill="#eaf0f6"/>
<rect x="49.55" y="155.50" width="6.61" height="1.56" fill="#d6e2ee"/>
<rect x="56.11" y="155.50" width="6.61" height="1.56" fill="#afc4dd"/>
<rect x="62.66" y="155.50" width="6.61" height="1.56" fill="#89a5cb"/>
<rect x="69.22" y="155.50" width="6.61" height="1.56" fill="#84a1c9"/>
<rect x="75.77" y="155.50" width="6.61" height="1.56" fill="#8ca7cd"/>
<rect x="82.33" y="155.50" width="6.61" height="1.56" fill="#c2d2e5"/>
<rect x="88.88" y="155.50" width="6.61" height="1.56" fill="#d7e3ee"/>
<rect x="95.43" y="155.50" width="6.61" height="1.56" fill="#b1c5dd"/>
<rect x="101.99" y="155.50" width="6.61" height="1.56" fill="#afc4dd"/>
<rect x="108.54" y="155.50" width="6.61" height="1.56" fill="#98b1d2"/>
<rect x="115.10" y="155.50" width="6.61" height="1.56" fill="#85a1c9"/>
<rect x="121.65" y="155.50" width="6.61" height="1.56" fill="#b5c8df"/>
<rect x="128.20" y="155.50" width="6.61" height="1.56" fill="#84a1c9"/>
<rect x="134.76" y="155.50" width="6.61" height="1.56" fill="#90abcf"/>
<rect x="141.31" y="155.50" width="6.61" height="1.56" fill="#5d81b5"/>
<rect x="147.87" y="155.50" width="6.61" height="1.56" fill="#6083b7"/>
<rect x="154.42" y="155.50" width="6.61" height="1.56" fill="#081830"/>
<rect x="160.98" y="155.50" width="6.61" height="1.56" fill="#bdcfe3"/>
<rect x="167.53" y="155.50" width="6.61" height="1.56" fill="#e3ebf3"/>
<rect x="174.08" y="155.50" width="6.61" height="1.56" fill="#cedbea"/>
<rect x="180.64" y="155.50" width="6.61" height="1.56" fill="#7695c3"/>
<rect x="187.19" y="155.50" width="6.61" height="1.56" fill="#8ea9ce"/>
<rect x="193.75" y="155.50" width="6.61" height="1.56" fill="#86a3ca"/>
<rect x="43.00" y="157.00" width="6.61" height="1.56" fill="#c9d8e8"/>
<rect x="49.55" y="157.00" width="6.61" height="1.56" fill="#bacce1"/>
<rect x="56.11" y="157.00" width="6.61" height="1.56" fill="#b0c5dd"/>
<rect x="62.66" y="157.00" width="6.61" height="1.56" fill="#8ba7cc"/>
<rect x="69.22" y="157.00" width="6.61" height="1.56" fill="#93add0"/>
<rect x="75.77" y="157.00" width="6.61" height="1.56" fill="#5a7eb4"/>
<rect x="82.33" y="157.00" width="6.61" height="1.56" fill="#c5d5e7"/>
<rect x="88.88" y="157.00" width="6.61" height="1.56" fill="#c3d3e6"/>
<rect x="95.43" y="157.00" width="6.61" height="1.56" fill="#c7d6e7"/>
<rect x="101.99" y="157.00" width="6.61" height="1.56" fill="#acc2dc"/>
<rect x="108.54" y="157.00" width="6.61" height="1.56" fill="#a4bbd8"/>
<rect x="115.10" y="157.00" width="6.61" height="1.56" fill="#819ec8"/>
<rect x="121.65" y="157.00" width="6.61" height="1.56" fill="#d9e4ef"/>
<rect x="128.20" y="157.00" width="6.61" height="1.56" fill="#c8d7e8"/>
<rect x="134.76" y="157.00" width="6.61" height="1.56" fill="#c7d6e7"/>
<rect x="141.31" y="157.00" width="6.61" height="1.56" fill="#7c9ac5"/>
<rect x="147.87" y="157.00" width="6.61" height="1.56" fill="#8da8cd"/>
<rect x="154.42" y="157.00" width="6.61" height="1.56" fill="#081830"/>
<rect x="160.98" y="157.00" width="6.61" height="1.56" fill="#c2d3e5"/>
<rect x="167.53" y="157.00" width="6.61" height="1.56" fill="#c2d2e5"/>
<rect x="174.08" y="157.00" width="6.61" height="1.56" fill="#c2d2e5"/>
<rect x="180.64" y="157.00" width="6.61" height="1.56" fill="#6083b7"/>
<rect x="187.19" y="157.00" width="6.61" height="1.56" fill="#456da7"/>
<rect x="193.75" y="157.00" width="6.61" height="1.56" fill="#698abc"/>
<rect x="43.00" y="158.50" width="6.61" height="1.56" fill="#eaf0f6"/>
<rect x="49.55" y="158.50" width="6.61" height="1.56" fill="#d6e2ee"/>
<rect x="56.11" y="158.50" width="6.61" height="1.56" fill="#c0d1e4"/>
<rect x="62.66" y="158.50" width="6.61" height="1.56" fill="#88a4cb"/>
<rect x="69.22" y="158.50" width="6.61" height="1.56" fill="#89a5cc"/>
<rect x="75.77" y="158.50" width="6.61" height="1.56" fill="#829fc8"/>
<rect x="82.33" y="158.50" width="6.61" height="1.56" fill="#e4ecf4"/>
<rect x="88.88" y="158.50" width="6.61" height="1.56" fill="#e0e9f2"/>
<rect x="95.43" y="158.50" width="6.61" height="1.56" fill="#e2ebf3"/>
<rect x="101.99" y="158.50" width="6.61" height="1.56" fill="#c8d8e8"/>
<rect x="108.54" y="158.50" width="6.61" height="1.56" fill="#b0c5dd"/>
<rect x="115.10" y="158.50" width="6.61" height="1.56" fill="#93add0"/>
<rect x="121.65" y="158.50" width="6.61" height="1.56" fill="#d4e0ed"/>
<rect x="128.20" y="158.50" width="6.61" height="1.56" fill="#aabfda"/>
<rect x="134.76" y="158.50" width="6.61" height="1.56" fill="#9fb7d5"/>
<rect x="141.31" y="158.50" width="6.61" height="1.56" fill="#5a7eb4"/>
<rect x="147.87" y="158.50" width="6.61" height="1.56" fill="#5f82b6"/>
<rect x="154.42" y="158.50" width="6.61" height="1.56" fill="#0a1d3a"/>
<rect x="160.98" y="158.50" width="6.61" height="1.56" fill="#cedcea"/>
<rect x="167.53" y="158.50" width="6.61" height="1.56" fill="#d7e2ee"/>
<rect x="174.08" y="158.50" width="6.61" height="1.56" fill="#ccdaea"/>
<rect x="180.64" y="158.50" width="6.61" height="1.56" fill="#6e8fbf"/>
<rect x="187.19" y="158.50" width="6.61" height="1.56" fill="#a5bcd8"/>
<rect x="193.75" y="158.50" width="6.61" height="1.56" fill="#4e75ad"/>
<rect x="43.00" y="160.00" width="6.61" height="1.56" fill="#edf2f7"/>
<rect x="49.55" y="160.00" width="6.61" height="1.56" fill="#cddbea"/>
<rect x="56.11" y="160.00" width="6.61" height="1.56" fill="#b4c8df"/>
<rect x="62.66" y="160.00" width="6.61" height="1.56" fill="#7c9ac6"/>
<rect x="69.22" y="160.00" width="6.61" height="1.56" fill="#85a1c9"/>
<rect x="75.77" y="160.00" width="6.61" height="1.56" fill="#84a0c9"/>
<rect x="82.33" y="160.00" width="6.61" height="1.56" fill="#e7eef5"/>
<rect x="88.88" y="160.00" width="6.61" height="1.56" fill="#eff3f8"/>
<rect x="95.43" y="160.00" width="6.61" height="1.56" fill="#eef3f8"/>
<rect x="101.99" y="160.00" width="6.61" height="1.56" fill="#bdcfe3"/>
<rect x="108.54" y="160.00" width="6.61" height="1.56" fill="#c7d6e7"/>
<rect x="115.10" y="160.00" width="6.61" height="1.56" fill="#bccee2"/>
<rect x="121.65" y="160.00" width="6.61" height="1.56" fill="#eaf0f6"/>
<rect x="128.20" y="160.00" width="6.61" height="1.56" fill="#c9d8e8"/>
<rect x="134.76" y="160.00" width="6.61" height="1.56" fill="#cbdae9"/>
<rect x="141.31" y="160.00" width="6.61" height="1.56" fill="#8ba7cd"/>
<rect x="147.87" y="160.00" width="6.61" height="1.56" fill="#88a4cb"/>
<rect x="154.42" y="160.00" width="6.61" height="1.56" fill="#4c73ab"/>
<rect x="160.98" y="160.00" width="6.61" height="1.56" fill="#ecf2f7"/>
<rect x="167.53" y="160.00" width="6.61" height="1.56" fill="#ebf1f7"/>
<rect x="174.08" y="160.00" width="6.61" height="1.56" fill="#e9f0f6"/>
<rect x="180.64" y="160.00" width="6.61" height="1.56" fill="#a5bcd8"/>
<rect x="187.19" y="160.00" width="6.61" height="1.56" fill="#b0c4dd"/>
<rect x="193.75" y="160.00" width="6.61" height="1.56" fill="#5177ae"/>
<rect x="43.00" y="161.50" width="6.61" height="1.56" fill="#fdfefe"/>
<rect x="49.55" y="161.50" width="6.61" height="1.56" fill="#b8cae0"/>
<rect x="56.11" y="161.50" width="6.61" height="1.56" fill="#a3bad7"/>
<rect x="62.66" y="161.50" width="6.61" height="1.56" fill="#6c8dbe"/>
<rect x="69.22" y="161.50" width="6.61" height="1.56" fill="#7392c1"/>
<rect x="75.77" y="161.50" width="6.61" height="1.56" fill="#6f8fbf"/>
<rect x="82.33" y="161.50" width="6.61" height="1.56" fill="#e9f0f6"/>
<rect x="88.88" y="161.50" width="6.61" height="1.56" fill="#f5f8fb"/>
<rect x="95.43" y="161.50" width="6.61" height="1.56" fill="#e9eff6"/>
<rect x="101.99" y="161.50" width="6.61" height="1.56" fill="#c9d8e8"/>
<rect x="108.54" y="161.50" width="6.61" height="1.56" fill="#d3e0ed"/>
<rect x="115.10" y="161.50" width="6.61" height="1.56" fill="#c1d1e4"/>
<rect x="121.65" y="161.50" width="6.61" height="1.56" fill="#cbd9e9"/>
<rect x="128.20" y="161.50" width="6.61" height="1.56" fill="#b2c6de"/>
<rect x="134.76" y="161.50" width="6.61" height="1.56" fill="#abc1db"/>
<rect x="141.31" y="161.50" width="6.61" height="1.56" fill="#6587ba"/>
<rect x="147.87" y="161.50" width="6.61" height="1.56" fill="#7090c0"/>
<rect x="154.42" y="161.50" width="6.61" height="1.56" fill="#436ba5"/>
<rect x="160.98" y="161.50" width="6.61" height="1.56" fill="#f2f6f9"/>
<rect x="167.53" y="161.50" width="6.61" height="1.56" fill="#f9fbfc"/>
<rect x="174.08" y="161.50" width="6.61" height="1.56" fill="#f4f7fa"/>
<rect x="180.64" y="161.50" width="6.61" height="1.56" fill="#becfe3"/>
<rect x="187.19" y="161.50" width="6.61" height="1.56" fill="#c0d1e4"/>
<rect x="193.75" y="161.50" width="6.61" height="1.56" fill="#7d9bc6"/>
<rect x="43.00" y="163.00" width="6.61" height="1.56" fill="#f4f7fa"/>
<rect x="49.55" y="163.00" width="6.61" height="1.56" fill="#c4d4e6"/>
<rect x="56.11" y="163.00" width="6.61" height="1.56" fill="#adc2dc"/>
<rect x="62.66" y="163.00" width="6.61" height="1.56" fill="#7594c2"/>
<rect x="69.22" y="163.00" width="6.61" height="1.56" fill="#809dc7"/>
<rect x="75.77" y="163.00" width="6.61" height="1.56" fill="#85a1c9"/>
<rect x="82.33" y="163.00" width="6.61" height="1.56" fill="#f5f8fb"/>
<rect x="88.88" y="163.00" width="6.61" height="1.56" fill="#eef3f8"/>
<rect x="95.43" y="163.00" width="6.61" height="1.56" fill="#f5f8fb"/>
<rect x="101.99" y="163.00" width="6.61" height="1.56" fill="#d6e2ee"/>
<rect x="108.54" y="163.00" width="6.61" height="1.56" fill="#c6d5e7"/>
<rect x="115.10" y="163.00" width="6.61" height="1.56" fill="#cedcea"/>
<rect x="121.65" y="163.00" width="6.61" height="1.56" fill="#eff4f8"/>
<rect x="128.20" y="163.00" width="6.61" height="1.56" fill="#e4ecf4"/>
<rect x="134.76" y="163.00" width="6.61" height="1.56" fill="#e4ecf4"/>
<rect x="141.31" y="163.00" width="6.61" height="1.56" fill="#bbcde2"/>
<rect x="147.87" y="163.00" width="6.61" height="1.56" fill="#b0c4dd"/>
<rect x="154.42" y="163.00" width="6.61" height="1.56" fill="#1e4888"/>
<rect x="160.98" y="163.00" width="6.61" height="1.56" fill="#e3ebf3"/>
<rect x="167.53" y="163.00" width="6.61" height="1.56" fill="#f1f5f9"/>
<rect x="174.08" y="163.00" width="6.61" height="1.56" fill="#eaf0f6"/>
<rect x="180.64" y="163.00" width="6.61" height="1.56" fill="#a9bfda"/>
<rect x="187.19" y="163.00" width="6.61" height="1.56" fill="#98b2d2"/>
<rect x="193.75" y="163.00" width="6.61" height="1.56" fill="#557ab0"/>
<rect x="43.00" y="164.50" width="6.61" height="1.56" fill="#fdfefe"/>
<rect x="49.55" y="164.50" width="6.61" height="1.56" fill="#eaf0f6"/>
<rect x="56.11" y="164.50" width="6.61" height="1.56" fill="#d6e2ee"/>
<rect x="62.66" y="164.50" width="6.61" height="1.56" fill="#a7bdd9"/>
<rect x="69.22" y="164.50" width="6.61" height="1.56" fill="#abc0db"/>
<rect x="75.77" y="164.50" width="6.61" height="1.56" fill="#abc0db"/>
<rect x="82.33" y="164.50" width="6.61" height="1.56" fill="#f3f6fa"/>
<rect x="88.88" y="164.50" width="6.61" height="1.56" fill="#eef3f8"/>
<rect x="95.43" y="164.50" width="6.61" height="1.56" fill="#eef3f8"/>
<rect x="101.99" y="164.50" width="6.61" height="1.56" fill="#d6e2ee"/>
<rect x="108.54" y="164.50" width="6.61" height="1.56" fill="#c7d6e7"/>
<rect x="115.10" y="164.50" width="6.61" height="1.56" fill="#c8d7e8"/>
<rect x="121.65" y="164.50" width="6.61" height="1.56" fill="#e3ebf3"/>
<rect x="128.20" y="164.50" width="6.61" height="1.56" fill="#c0d1e4"/>
<rect x="134.76" y="164.50" width="6.61" height="1.56" fill="#d3e0ed"/>
<rect x="141.31" y="164.50" width="6.61" height="1.56" fill="#96afd1"/>
<rect x="147.87" y="164.50" width="6.61" height="1.56" fill="#96b0d2"/>
<rect x="154.42" y="164.50" width="6.61" height="1.56" fill="#0c203f"/>
<rect x="160.98" y="164.50" width="6.61" height="1.56" fill="#c5d5e7"/>
<rect x="167.53" y="164.50" width="6.61" height="1.56" fill="#c9d8e8"/>
<rect x="174.08" y="164.50" width="6.61" height="1.56" fill="#cedcea"/>
<rect x="180.64" y="164.50" width="6.61" height="1.56" fill="#7191c0"/>
<rect x="187.19" y="164.50" width="6.61" height="1.56" fill="#8ea9ce"/>
<rect x="193.75" y="164.50" width="6.61" height="1.56" fill="#7291c1"/>
<rect x="43.00" y="166.00" width="6.61" height="1.56" fill="#d7e3ee"/>
<rect x="49.55" y="166.00" width="6.61" height="1.56" fill="#dae5ef"/>
<rect x="56.11" y="166.00" width="6.61" height="1.56" fill="#aec3dc"/>
<rect x="62.66" y="166.00" width="6.61" height="1.56" fill="#92accf"/>
<rect x="69.22" y="166.00" width="6.61" height="1.56" fill="#97b1d2"/>
<rect x="75.77" y="166.00" width="6.61" height="1.56" fill="#9eb6d5"/>
<rect x="82.33" y="166.00" width="6.61" height="1.56" fill="#f5f8fb"/>
<rect x="88.88" y="166.00" width="6.61" height="1.56" fill="#f5f8fb"/>
<rect x="95.43" y="166.00" width="6.61" height="1.56" fill="#f5f8fb"/>
<rect x="101.99" y="166.00" width="6.61" height="1.56" fill="#d6e2ee"/>
<rect x="108.54" y="166.00" width="6.61" height="1.56" fill="#ccdbea"/>
<rect x="115.10" y="166.00" width="6.61" height="1.56" fill="#cedcea"/>
<rect x="121.65" y="166.00" width="6.61" height="1.56" fill="#e5ecf4"/>
<rect x="128.20" y="166.00" width="6.61" height="1.56" fill="#dce6f1"/>
<rect x="134.76" y="166.00" width="6.61" height="1.56" fill="#d5e2ee"/>
<rect x="141.31" y="166.00" width="6.61" height="1.56" fill="#8da9ce"/>
<rect x="147.87" y="166.00" width="6.61" height="1.56" fill="#9fb8d6"/>
<rect x="154.42" y="166.00" width="6.61" height="1.56" fill="#285190"/>
<rect x="160.98" y="166.00" width="6.61" height="1.56" fill="#dae5f0"/>
<rect x="167.53" y="166.00" width="6.61" height="1.56" fill="#d8e3ef"/>
<rect x="174.08" y="166.00" width="6.61" height="1.56" fill="#d6e2ee"/>
<rect x="180.64" y="166.00" width="6.61" height="1.56" fill="#83a0c9"/>
<rect x="187.19" y="166.00" width="6.61" height="1.56" fill="#c0d1e4"/>
<rect x="193.75" y="166.00" width="6.61" height="1.56" fill="#557ab1"/>
<rect x="43.00" y="167.50" width="6.61" height="1.56" fill="#e5edf4"/>
<rect x="49.55" y="167.50" width="6.61" height="1.56" fill="#c1d2e5"/>
<rect x="56.11" y="167.50" width="6.61" height="1.56" fill="#adc2dc"/>
<rect x="62.66" y="167.50" width="6.61" height="1.56" fill="#7291c1"/>
<rect x="69.22" y="167.50" width="6.61" height="1.56" fill="#6789bb"/>
<rect x="75.77" y="167.50" width="6.61" height="1.56" fill="#7796c3"/>
<rect x="82.33" y="167.50" width="6.61" height="1.56" fill="#dfe8f2"/>
<rect x="88.88" y="167.50" width="6.61" height="1.56" fill="#d0ddeb"/>
<rect x="95.43" y="167.50" width="6.61" height="1.56" fill="#d8e4ef"/>
<rect x="101.99" y="167.50" width="6.61" height="1.56" fill="#bacce1"/>
<rect x="108.54" y="167.50" width="6.61" height="1.56" fill="#aec3dc"/>
<rect x="115.10" y="167.50" width="6.61" height="1.56" fill="#a4bbd8"/>
<rect x="121.65" y="167.50" width="6.61" height="1.56" fill="#fdfefe"/>
<rect x="128.20" y="167.50" width="6.61" height="1.56" fill="#e4ecf4"/>
<rect x="134.76" y="167.50" width="6.61" height="1.56" fill="#e6edf4"/>
<rect x="141.31" y="167.50" width="6.61" height="1.56" fill="#a2bad7"/>
<rect x="147.87" y="167.50" width="6.61" height="1.56" fill="#bacce2"/>
<rect x="154.42" y="167.50" width="6.61" height="1.56" fill="#1c4582"/>
<rect x="160.98" y="167.50" width="6.61" height="1.56" fill="#eaf0f6"/>
<rect x="167.53" y="167.50" width="6.61" height="1.56" fill="#eef3f8"/>
<rect x="174.08" y="167.50" width="6.61" height="1.56" fill="#dfe8f2"/>
<rect x="180.64" y="167.50" width="6.61" height="1.56" fill="#a0b8d6"/>
<rect x="187.19" y="167.50" width="6.61" height="1.56" fill="#5e82b6"/>
<rect x="193.75" y="167.50" width="6.61" height="1.56" fill="#7c9ac5"/>
<rect x="43.00" y="169.00" width="6.61" height="1.56" fill="#fdfefe"/>
<rect x="49.55" y="169.00" width="6.61" height="1.56" fill="#c4d4e6"/>
<rect x="56.11" y="169.00" width="6.61" height="1.56" fill="#afc4dd"/>
<rect x="62.66" y="169.00" width="6.61" height="1.56" fill="#7796c3"/>
<rect x="69.22" y="169.00" width="6.61" height="1.56" fill="#88a4cb"/>
<rect x="75.77" y="169.00" width="6.61" height="1.56" fill="#7897c4"/>
<rect x="82.33" y="169.00" width="6.61" height="1.56" fill="#e7eef5"/>
<rect x="88.88" y="169.00" width="6.61" height="1.56" fill="#e5ecf4"/>
<rect x="95.43" y="169.00" width="6.61" height="1.56" fill="#e4ecf4"/>
<rect x="101.99" y="169.00" width="6.61" height="1.56" fill="#cfddeb"/>
<rect x="108.54" y="169.00" width="6.61" height="1.56" fill="#bfd0e4"/>
<rect x="115.10" y="169.00" width="6.61" height="1.56" fill="#c4d4e6"/>
<rect x="121.65" y="169.00" width="6.61" height="1.56" fill="#fbfcfd"/>
<rect x="128.20" y="169.00" width="6.61" height="1.56" fill="#e6edf5"/>
<rect x="134.76" y="169.00" width="6.61" height="1.56" fill="#dce6f0"/>
<rect x="141.31" y="169.00" width="6.61" height="1.56" fill="#b1c5de"/>
<rect x="147.87" y="169.00" width="6.61" height="1.56" fill="#b0c4dd"/>
<rect x="154.42" y="169.00" width="6.61" height="1.56" fill="#3d65a1"/>
<rect x="160.98" y="169.00" width="6.61" height="1.56" fill="#e4ecf4"/>
<rect x="167.53" y="169.00" width="6.61" height="1.56" fill="#e4ecf4"/>
<rect x="174.08" y="169.00" width="6.61" height="1.56" fill="#eef3f8"/>
<rect x="180.64" y="169.00" width="6.61" height="1.56" fill="#9fb7d6"/>
<rect x="187.19" y="169.00" width="6.61" height="1.56" fill="#5378af"/>
<rect x="193.75" y="169.00" width="6.61" height="1.56" fill="#456da7"/>
<rect x="43.00" y="170.50" width="6.61" height="1.56" fill="#dbe6f0"/>
<rect x="49.55" y="170.50" width="6.61" height="1.56" fill="#d6e2ee"/>
<rect x="56.11" y="170.50" width="6.61" height="1.56" fill="#c2d3e5"/>
<rect x="62.66" y="170.50" width="6.61" height="1.56" fill="#95afd1"/>
<rect x="69.22" y="170.50" width="6.61" height="1.56" fill="#7291c1"/>
<rect x="75.77" y="170.50" width="6.61" height="1.56" fill="#90abcf"/>
<rect x="82.33" y="170.50" width="6.61" height="1.56" fill="#eff4f8"/>
<rect x="88.88" y="170.50" width="6.61" height="1.56" fill="#eaf0f6"/>
<rect x="95.43" y="170.50" width="6.61" height="1.56" fill="#dae5f0"/>
<rect x="101.99" y="170.50" width="6.61" height="1.56" fill="#bdcfe3"/>
<rect x="108.54" y="170.50" width="6.61" height="1.56" fill="#c5d5e7"/>
<rect x="115.10" y="170.50" width="6.61" height="1.56" fill="#bccde2"/>
<rect x="121.65" y="170.50" width="6.61" height="1.56" fill="#fdfefe"/>
<rect x="128.20" y="170.50" width="6.61" height="1.56" fill="#e4ecf4"/>
<rect x="134.76" y="170.50" width="6.61" height="1.56" fill="#eaf0f6"/>
<rect x="141.31" y="170.50" width="6.61" height="1.56" fill="#afc3dc"/>
<rect x="147.87" y="170.50" width="6.61" height="1.56" fill="#bbcde2"/>
<rect x="154.42" y="170.50" width="6.61" height="1.56" fill="#4c73ab"/>
<rect x="160.98" y="170.50" width="6.61" height="1.56" fill="#dbe6f0"/>
<rect x="167.53" y="170.50" width="6.61" height="1.56" fill="#e0e9f2"/>
<rect x="174.08" y="170.50" width="6.61" height="1.56" fill="#e9f0f6"/>
<rect x="180.64" y="170.50" width="6.61" height="1.56" fill="#97b0d2"/>
<rect x="187.19" y="170.50" width="6.61" height="1.56" fill="#85a1ca"/>
<rect x="193.75" y="170.50" width="6.61" height="1.56" fill="#557ab1"/>
<rect x="43.00" y="172.00" width="6.61" height="1.56" fill="#e1eaf2"/>
<rect x="49.55" y="172.00" width="6.61" height="1.56" fill="#c2d2e5"/>
<rect x="56.11" y="172.00" width="6.61" height="1.56" fill="#c7d6e7"/>
<rect x="62.66" y="172.00" width="6.61" height="1.56" fill="#93aed0"/>
<rect x="69.22" y="172.00" width="6.61" height="1.56" fill="#92add0"/>
<rect x="75.77" y="172.00" width="6.61" height="1.56" fill="#8aa6cc"/>
<rect x="82.33" y="172.00" width="6.61" height="1.56" fill="#e8eff5"/>
<rect x="88.88" y="172.00" width="6.61" height="1.56" fill="#e6edf5"/>
<rect x="95.43" y="172.00" width="6.61" height="1.56" fill="#e6edf5"/>
<rect x="101.99" y="172.00" width="6.61" height="1.56" fill="#cddbea"/>
<rect x="108.54" y="172.00" width="6.61" height="1.56" fill="#b3c7df"/>
<rect x="115.10" y="172.00" width="6.61" height="1.56" fill="#bdcfe3"/>
<rect x="121.65" y="172.00" width="6.61" height="1.56" fill="#dee8f1"/>
<rect x="128.20" y="172.00" width="6.61" height="1.56" fill="#c7d6e7"/>
<rect x="134.76" y="172.00" width="6.61" height="1.56" fill="#d7e3ee"/>
<rect x="141.31" y="172.00" width="6.61" height="1.56" fill="#86a2ca"/>
<rect x="147.87" y="172.00" width="6.61" height="1.56" fill="#91abcf"/>
<rect x="154.42" y="172.00" width="6.61" height="1.56" fill="#3f67a2"/>
<rect x="160.98" y="172.00" width="6.61" height="1.56" fill="#d7e2ee"/>
<rect x="167.53" y="172.00" width="6.61" height="1.56" fill="#d0deec"/>
<rect x="174.08" y="172.00" width="6.61" height="1.56" fill="#e1eaf3"/>
<rect x="180.64" y="172.00" width="6.61" height="1.56" fill="#98b1d2"/>
<rect x="187.19" y="172.00" width="6.61" height="1.56" fill="#becfe3"/>
<rect x="193.75" y="172.00" width="6.61" height="1.56" fill="#4169a4"/>
<rect x="43.00" y="173.50" width="6.61" height="1.56" fill="#f2f5f9"/>
<rect x="49.55" y="173.50" width="6.61" height="1.56" fill="#e1eaf2"/>
<rect x="56.11" y="173.50" width="6.61" height="1.56" fill="#a5bcd8"/>
<rect x="62.66" y="173.50" width="6.61" height="1.56" fill="#99b2d3"/>
<rect x="69.22" y="173.50" width="6.61" height="1.56" fill="#86a2ca"/>
<rect x="75.77" y="173.50" width="6.61" height="1.56" fill="#8ba7cc"/>
<rect x="82.33" y="173.50" width="6.61" height="1.56" fill="#e0e9f2"/>
<rect x="88.88" y="173.50" width="6.61" height="1.56" fill="#dde7f1"/>
<rect x="95.43" y="173.50" width="6.61" height="1.56" fill="#d9e4ef"/>
<rect x="101.99" y="173.50" width="6.61" height="1.56" fill="#bacce1"/>
<rect x="108.54" y="173.50" width="6.61" height="1.56" fill="#c9d8e8"/>
<rect x="115.10" y="173.50" width="6.61" height="1.56" fill="#bfd0e4"/>
<rect x="121.65" y="173.50" width="6.61" height="1.56" fill="#e1eaf3"/>
<rect x="128.20" y="173.50" width="6.61" height="1.56" fill="#c2d3e5"/>
<rect x="134.76" y="173.50" width="6.61" height="1.56" fill="#c1d2e5"/>
<rect x="141.31" y="173.50" width="6.61" height="1.56" fill="#829fc8"/>
<rect x="147.87" y="173.50" width="6.61" height="1.56" fill="#a2b9d7"/>
<rect x="154.42" y="173.50" width="6.61" height="1.56" fill="#2c5593"/>
<rect x="160.98" y="173.50" width="6.61" height="1.56" fill="#ebf1f7"/>
<rect x="167.53" y="173.50" width="6.61" height="1.56" fill="#e7eef5"/>
<rect x="174.08" y="173.50" width="6.61" height="1.56" fill="#f8fafc"/>
<rect x="180.64" y="173.50" width="6.61" height="1.56" fill="#bacce1"/>
<rect x="187.19" y="173.50" width="6.61" height="1.56" fill="#c0d1e4"/>
<rect x="193.75" y="173.50" width="6.61" height="1.56" fill="#7a99c5"/>
<rect x="43.00" y="175.00" width="6.61" height="1.56" fill="#dde7f1"/>
<rect x="49.55" y="175.00" width="6.61" height="1.56" fill="#e8eff6"/>
<rect x="56.11" y="175.00" width="6.61" height="1.56" fill="#c3d3e6"/>
<rect x="62.66" y="175.00" width="6.61" height="1.56" fill="#85a1ca"/>
<rect x="69.22" y="175.00" width="6.61" height="1.56" fill="#8aa6cc"/>
<rect x="75.77" y="175.00" width="6.61" height="1.56" fill="#7d9ac6"/>
<rect x="82.33" y="175.00" width="6.61" height="1.56" fill="#f8fafc"/>
<rect x="88.88" y="175.00" width="6.61" height="1.56" fill="#f0f5f9"/>
<rect x="95.43" y="175.00" width="6.61" height="1.56" fill="#f4f7fa"/>
<rect x="101.99" y="175.00" width="6.61" height="1.56" fill="#c3d3e5"/>
<rect x="108.54" y="175.00" width="6.61" height="1.56" fill="#c5d5e6"/>
<rect x="115.10" y="175.00" width="6.61" height="1.56" fill="#c1d2e5"/>
<rect x="121.65" y="175.00" width="6.61" height="1.56" fill="#fff8f8"/>
<rect x="128.20" y="175.00" width="6.61" height="1.56" fill="#e5ecf4"/>
<rect x="134.76" y="175.00" width="6.61" height="1.56" fill="#e6edf4"/>
<rect x="141.31" y="175.00" width="6.61" height="1.56" fill="#aec3dc"/>
<rect x="147.87" y="175.00" width="6.61" height="1.56" fill="#b3c7de"/>
<rect x="154.42" y="175.00" width="6.61" height="1.56" fill="#587db2"/>
<rect x="160.98" y="175.00" width="6.61" height="1.56" fill="#f0f4f9"/>
<rect x="167.53" y="175.00" width="6.61" height="1.56" fill="#f7f9fc"/>
<rect x="174.08" y="175.00" width="6.61" height="1.56" fill="#fbfcfd"/>
<rect x="180.64" y="175.00" width="6.61" height="1.56" fill="#b9cbe1"/>
<rect x="187.19" y="175.00" width="6.61" height="1.56" fill="#c9d8e8"/>
<rect x="193.75" y="175.00" width="6.61" height="1.56" fill="#cedcea"/>
<rect x="43.00" y="176.50" width="6.61" height="1.56" fill="#e4ecf4"/>
<rect x="49.55" y="176.50" width="6.61" height="1.56" fill="#e4ecf4"/>
<rect x="56.11" y="176.50" width="6.61" height="1.56" fill="#bccee3"/>
<rect x="62.66" y="176.50" width="6.61" height="1.56" fill="#90abcf"/>
<rect x="69.22" y="176.50" width="6.61" height="1.56" fill="#9ab3d3"/>
<rect x="75.77" y="176.50" width="6.61" height="1.56" fill="#9eb6d5"/>
<rect x="82.33" y="176.50" width="6.61" height="1.56" fill="#fffafa"/>
<rect x="88.88" y="176.50" width="6.61" height="1.56" fill="#fff9f9"/>
<rect x="95.43" y="176.50" width="6.61" height="1.56" fill="#fffbfb"/>
<rect x="101.99" y="176.50" width="6.61" height="1.56" fill="#cddbea"/>
<rect x="108.54" y="176.50" width="6.61" height="1.56" fill="#becfe3"/>
<rect x="115.10" y="176.50" width="6.61" height="1.56" fill="#d2dfec"/>
<rect x="121.65" y="176.50" width="6.61" height="1.56" fill="#fff9f9"/>
<rect x="128.20" y="176.50" width="6.61" height="1.56" fill="#f9fafc"/>
<rect x="134.76" y="176.50" width="6.61" height="1.56" fill="#ebf1f7"/>
<rect x="141.31" y="176.50" width="6.61" height="1.56" fill="#c8d8e8"/>
<rect x="147.87" y="176.50" width="6.61" height="1.56" fill="#b6c9e0"/>
<rect x="154.42" y="176.50" width="6.61" height="1.56" fill="#6889bb"/>
<rect x="160.98" y="176.50" width="6.61" height="1.56" fill="#eaf0f6"/>
<rect x="167.53" y="176.50" width="6.61" height="1.56" fill="#fafcfd"/>
<rect x="174.08" y="176.50" width="6.61" height="1.56" fill="#eaf0f6"/>
<rect x="180.64" y="176.50" width="6.61" height="1.56" fill="#9fb8d6"/>
<rect x="187.19" y="176.50" width="6.61" height="1.56" fill="#cedcea"/>
<rect x="193.75" y="176.50" width="6.61" height="1.56" fill="#486fa9"/>
<rect x="43.00" y="178.00" width="6.61" height="1.56" fill="#dde7f1"/>
<rect x="49.55" y="178.00" width="6.61" height="1.56" fill="#f6f9fb"/>
<rect x="56.11" y="178.00" width="6.61" height="1.56" fill="#d6e2ee"/>
<rect x="62.66" y="178.00" width="6.61" height="1.56" fill="#95aed1"/>
<rect x="69.22" y="178.00" width="6.61" height="1.56" fill="#91abcf"/>
<rect x="75.77" y="178.00" width="6.61" height="1.56" fill="#9db5d4"/>
<rect x="82.33" y="178.00" width="6.61" height="1.56" fill="#fffcfc"/>
<rect x="88.88" y="178.00" width="6.61" height="1.56" fill="#fffefe"/>
<rect x="95.43" y="178.00" width="6.61" height="1.56" fill="#edf2f7"/>
<rect x="101.99" y="178.00" width="6.61" height="1.56" fill="#c4d4e6"/>
<rect x="108.54" y="178.00" width="6.61" height="1.56" fill="#bccee2"/>
<rect x="115.10" y="178.00" width="6.61" height="1.56" fill="#c8d7e8"/>
<rect x="121.65" y="178.00" width="6.61" height="1.56" fill="#fefeff"/>
<rect x="128.20" y="178.00" width="6.61" height="1.56" fill="#dfe8f2"/>
<rect x="134.76" y="178.00" width="6.61" height="1.56" fill="#e3ebf4"/>
<rect x="141.31" y="178.00" width="6.61" height="1.56" fill="#9db6d5"/>
<rect x="147.87" y="178.00" width="6.61" height="1.56" fill="#afc4dd"/>
<rect x="154.42" y="178.00" width="6.61" height="1.56" fill="#4970aa"/>
<rect x="160.98" y="178.00" width="6.61" height="1.56" fill="#f7f9fc"/>
<rect x="167.53" y="178.00" width="6.61" height="1.56" fill="#eaf0f6"/>
<rect x="174.08" y="178.00" width="6.61" height="1.56" fill="#ecf2f7"/>
<rect x="180.64" y="178.00" width="6.61" height="1.56" fill="#a0b8d6"/>
<rect x="187.19" y="178.00" width="6.61" height="1.56" fill="#b0c4dd"/>
<rect x="193.75" y="178.00" width="6.61" height="1.56" fill="#b6c9e0"/>
<rect x="43.00" y="179.50" width="6.61" height="1.56" fill="#fef2f2"/>
<rect x="49.55" y="179.50" width="6.61" height="1.56" fill="#c7d6e7"/>
<rect x="56.11" y="179.50" width="6.61" height="1.56" fill="#98b2d3"/>
<rect x="62.66" y="179.50" width="6.61" height="1.56" fill="#6789bb"/>
<rect x="69.22" y="179.50" width="6.61" height="1.56" fill="#6d8ebf"/>
<rect x="75.77" y="179.50" width="6.61" height="1.56" fill="#7292c1"/>
<rect x="82.33" y="179.50" width="6.61" height="1.56" fill="#f9fbfc"/>
<rect x="88.88" y="179.50" width="6.61" height="1.56" fill="#fff9f9"/>
<rect x="95.43" y="179.50" width="6.61" height="1.56" fill="#f1f5f9"/>
<rect x="101.99" y="179.50" width="6.61" height="1.56" fill="#d0ddeb"/>
<rect x="108.54" y="179.50" width="6.61" height="1.56" fill="#c4d4e6"/>
<rect x="115.10" y="179.50" width="6.61" height="1.56" fill="#c4d4e6"/>
<rect x="121.65" y="179.50" width="6.61" height="1.56" fill="#fef5f5"/>
<rect x="128.20" y="179.50" width="6.61" height="1.56" fill="#e0e9f2"/>
<rect x="134.76" y="179.50" width="6.61" height="1.56" fill="#e0e9f2"/>
<rect x="141.31" y="179.50" width="6.61" height="1.56" fill="#aec3dc"/>
<rect x="147.87" y="179.50" width="6.61" height="1.56" fill="#b2c6de"/>
<rect x="154.42" y="179.50" width="6.61" height="1.56" fill="#456da7"/>
<rect x="160.98" y="179.50" width="6.61" height="1.56" fill="#ecf2f7"/>
<rect x="167.53" y="179.50" width="6.61" height="1.56" fill="#f5f8fb"/>
<rect x="174.08" y="179.50" width="6.61" height="1.56" fill="#fbfcfd"/>
<rect x="180.64" y="179.50" width="6.61" height="1.56" fill="#b1c5de"/>
<rect x="187.19" y="179.50" width="6.61" height="1.56" fill="#b6c9e0"/>
<rect x="193.75" y="179.50" width="6.61" height="1.56" fill="#a8bed9"/>
<rect x="43.00" y="181.00" width="6.61" height="1.56" fill="#fef0f0"/>
<rect x="49.55" y="181.00" width="6.61" height="1.56" fill="#f2f5f9"/>
<rect x="56.11" y="181.00" width="6.61" height="1.56" fill="#dde7f1"/>
<rect x="62.66" y="181.00" width="6.61" height="1.56" fill="#8aa6cc"/>
<rect x="69.22" y="181.00" width="6.61" height="1.56" fill="#a1b8d6"/>
<rect x="75.77" y="181.00" width="6.61" height="1.56" fill="#a7bed9"/>
<rect x="82.33" y="181.00" width="6.61" height="1.56" fill="#fffdfd"/>
<rect x="88.88" y="181.00" width="6.61" height="1.56" fill="#f6f9fb"/>
<rect x="95.43" y="181.00" width="6.61" height="1.56" fill="#f7f9fb"/>
<rect x="101.99" y="181.00" width="6.61" height="1.56" fill="#d7e2ee"/>
<rect x="108.54" y="181.00" width="6.61" height="1.56" fill="#b8cae1"/>
<rect x="115.10" y="181.00" width="6.61" height="1.56" fill="#bacde2"/>
<rect x="121.65" y="181.00" width="6.61" height="1.56" fill="#eef3f8"/>
<rect x="128.20" y="181.00" width="6.61" height="1.56" fill="#d7e3ee"/>
<rect x="134.76" y="181.00" width="6.61" height="1.56" fill="#dfe9f2"/>
<rect x="141.31" y="181.00" width="6.61" height="1.56" fill="#a6bdd9"/>
<rect x="147.87" y="181.00" width="6.61" height="1.56" fill="#8ba7cc"/>
<rect x="154.42" y="181.00" width="6.61" height="1.56" fill="#38619d"/>
<rect x="160.98" y="181.00" width="6.61" height="1.56" fill="#e7eef5"/>
<rect x="167.53" y="181.00" width="6.61" height="1.56" fill="#f6f9fb"/>
<rect x="174.08" y="181.00" width="6.61" height="1.56" fill="#eaf0f6"/>
<rect x="180.64" y="181.00" width="6.61" height="1.56" fill="#9db5d4"/>
<rect x="187.19" y="181.00" width="6.61" height="1.56" fill="#86a2ca"/>
<rect x="193.75" y="181.00" width="6.61" height="1.56" fill="#88a4cb"/>
<rect x="43.00" y="182.50" width="6.61" height="1.56" fill="#fffdfd"/>
<rect x="49.55" y="182.50" width="6.61" height="1.56" fill="#f7f9fc"/>
<rect x="56.11" y="182.50" width="6.61" height="1.56" fill="#dde7f1"/>
<rect x="62.66" y="182.50" width="6.61" height="1.56" fill="#a8bed9"/>
<rect x="69.22" y="182.50" width="6.61" height="1.56" fill="#afc3dd"/>
<rect x="75.77" y="182.50" width="6.61" height="1.56" fill="#bbcde2"/>
<rect x="82.33" y="182.50" width="6.61" height="1.56" fill="#fffafa"/>
<rect x="88.88" y="182.50" width="6.61" height="1.56" fill="#fcfdfe"/>
<rect x="95.43" y="182.50" width="6.61" height="1.56" fill="#fffefe"/>
<rect x="101.99" y="182.50" width="6.61" height="1.56" fill="#c8d7e8"/>
<rect x="108.54" y="182.50" width="6.61" height="1.56" fill="#c3d4e6"/>
<rect x="115.10" y="182.50" width="6.61" height="1.56" fill="#c8d7e8"/>
<rect x="121.65" y="182.50" width="6.61" height="1.56" fill="#eaf0f6"/>
<rect x="128.20" y="182.50" width="6.61" height="1.56" fill="#c8d7e8"/>
<rect x="134.76" y="182.50" width="6.61" height="1.56" fill="#d2dfec"/>
<rect x="141.31" y="182.50" width="6.61" height="1.56" fill="#8aa6cc"/>
<rect x="147.87" y="182.50" width="6.61" height="1.56" fill="#7e9cc6"/>
<rect x="154.42" y="182.50" width="6.61" height="1.56" fill="#295291"/>
<rect x="160.98" y="182.50" width="6.61" height="1.56" fill="#fef3f3"/>
<rect x="167.53" y="182.50" width="6.61" height="1.56" fill="#fef3f3"/>
<rect x="174.08" y="182.50" width="6.61" height="1.56" fill="#fef3f3"/>
<rect x="180.64" y="182.50" width="6.61" height="1.56" fill="#d6e2ee"/>
<rect x="187.19" y="182.50" width="6.61" height="1.56" fill="#9db5d5"/>
<rect x="193.75" y="182.50" width="6.61" height="1.56" fill="#cedcea"/>
<rect x="43.00" y="184.00" width="6.61" height="1.56" fill="#d7e3ee"/>
<rect x="49.55" y="184.00" width="6.61" height="1.56" fill="#cfdceb"/>
<rect x="56.11" y="184.00" width="6.61" height="1.56" fill="#a8beda"/>
<rect x="62.66" y="184.00" width="6.61" height="1.56" fill="#7695c3"/>
<rect x="69.22" y="184.00" width="6.61" height="1.56" fill="#7997c4"/>
<rect x="75.77" y="184.00" width="6.61" height="1.56" fill="#6f8fbf"/>
<rect x="82.33" y="184.00" width="6.61" height="1.56" fill="#fff8f8"/>
<rect x="88.88" y="184.00" width="6.61" height="1.56" fill="#fef8f8"/>
<rect x="95.43" y="184.00" width="6.61" height="1.56" fill="#fef7f7"/>
<rect x="101.99" y="184.00" width="6.61" height="1.56" fill="#cad9e9"/>
<rect x="108.54" y="184.00" width="6.61" height="1.56" fill="#c6d5e7"/>
<rect x="115.10" y="184.00" width="6.61" height="1.56" fill="#cddbea"/>
<rect x="121.65" y="184.00" width="6.61" height="1.56" fill="#fff9f9"/>
<rect x="128.20" y="184.00" width="6.61" height="1.56" fill="#edf3f8"/>
<rect x="134.76" y="184.00" width="6.61" height="1.56" fill="#dde7f1"/>
<rect x="141.31" y="184.00" width="6.61" height="1.56" fill="#b9cbe1"/>
<rect x="147.87" y="184.00" width="6.61" height="1.56" fill="#bacce1"/>
<rect x="154.42" y="184.00" width="6.61" height="1.56" fill="#1f4989"/>
<rect x="160.98" y="184.00" width="6.61" height="1.56" fill="#f9fbfd"/>
<rect x="167.53" y="184.00" width="6.61" height="1.56" fill="#ffffff"/>
<rect x="174.08" y="184.00" width="6.61" height="1.56" fill="#ffffff"/>
<rect x="180.64" y="184.00" width="6.61" height="1.56" fill="#c9d8e8"/>
<rect x="187.19" y="184.00" width="6.61" height="1.56" fill="#a5bcd8"/>
<rect x="193.75" y="184.00" width="6.61" height="1.56" fill="#b1c5de"/>
<rect x="43.00" y="185.50" width="6.61" height="1.56" fill="#d5e1ed"/>
<rect x="49.55" y="185.50" width="6.61" height="1.56" fill="#e6eef5"/>
<rect x="56.11" y="185.50" width="6.61" height="1.56" fill="#bdcfe3"/>
<rect x="62.66" y="185.50" width="6.61" height="1.56" fill="#97b1d2"/>
<rect x="69.22" y="185.50" width="6.61" height="1.56" fill="#8da8cd"/>
<rect x="75.77" y="185.50" width="6.61" height="1.56" fill="#829fc8"/>
<rect x="82.33" y="185.50" width="6.61" height="1.56" fill="#feeaea"/>
<rect x="88.88" y="185.50" width="6.61" height="1.56" fill="#fef1f1"/>
<rect x="95.43" y="185.50" width="6.61" height="1.56" fill="#fef5f5"/>
<rect x="101.99" y="185.50" width="6.61" height="1.56" fill="#e0e9f2"/>
<rect x="108.54" y="185.50" width="6.61" height="1.56" fill="#dbe6f0"/>
<rect x="115.10" y="185.50" width="6.61" height="1.56" fill="#dee8f1"/>
<rect x="121.65" y="185.50" width="6.61" height="1.56" fill="#eef3f8"/>
<rect x="128.20" y="185.50" width="6.61" height="1.56" fill="#dae5f0"/>
<rect x="134.76" y="185.50" width="6.61" height="1.56" fill="#d7e3ef"/>
<rect x="141.31" y="185.50" width="6.61" height="1.56" fill="#8ea9ce"/>
<rect x="147.87" y="185.50" width="6.61" height="1.56" fill="#90abcf"/>
<rect x="154.42" y="185.50" width="6.61" height="1.56" fill="#466ea8"/>
<rect x="160.98" y="185.50" width="6.61" height="1.56" fill="#ebf1f7"/>
<rect x="167.53" y="185.50" width="6.61" height="1.56" fill="#ecf2f7"/>
<rect x="174.08" y="185.50" width="6.61" height="1.56" fill="#e9f0f6"/>
<rect x="180.64" y="185.50" width="6.61" height="1.56" fill="#a2bad7"/>
<rect x="187.19" y="185.50" width="6.61" height="1.56" fill="#84a0c9"/>
<rect x="193.75" y="185.50" width="6.61" height="1.56" fill="#829fc8"/>
<rect x="43.00" y="187.00" width="6.61" height="1.56" fill="#cedceb"/>
<rect x="49.55" y="187.00" width="6.61" height="1.56" fill="#d3e0ed"/>
<rect x="56.11" y="187.00" width="6.61" height="1.56" fill="#9fb7d5"/>
<rect x="62.66" y="187.00" width="6.61" height="1.56" fill="#7c9ac6"/>
<rect x="69.22" y="187.00" width="6.61" height="1.56" fill="#7191c1"/>
<rect x="75.77" y="187.00" width="6.61" height="1.56" fill="#7f9dc7"/>
<rect x="82.33" y="187.00" width="6.61" height="1.56" fill="#e4ecf4"/>
<rect x="88.88" y="187.00" width="6.61" height="1.56" fill="#f2f6fa"/>
<rect x="95.43" y="187.00" width="6.61" height="1.56" fill="#f3f7fa"/>
<rect x="101.99" y="187.00" width="6.61" height="1.56" fill="#a9bfda"/>
<rect x="108.54" y="187.00" width="6.61" height="1.56" fill="#b4c7df"/>
<rect x="115.10" y="187.00" width="6.61" height="1.56" fill="#b8cbe1"/>
<rect x="121.65" y="187.00" width="6.61" height="1.56" fill="#f1f5f9"/>
<rect x="128.20" y="187.00" width="6.61" height="1.56" fill="#c8d7e8"/>
<rect x="134.76" y="187.00" width="6.61" height="1.56" fill="#d8e3ef"/>
<rect x="141.31" y="187.00" width="6.61" height="1.56" fill="#9bb4d4"/>
<rect x="147.87" y="187.00" width="6.61" height="1.56" fill="#8faace"/>
<rect x="154.42" y="187.00" width="6.61" height="1.56" fill="#3e66a1"/>
<rect x="160.98" y="187.00" width="6.61" height="1.56" fill="#edf2f8"/>
<rect x="167.53" y="187.00" width="6.61" height="1.56" fill="#eaf0f6"/>
<rect x="174.08" y="187.00" width="6.61" height="1.56" fill="#f1f5f9"/>
<rect x="180.64" y="187.00" width="6.61" height="1.56" fill="#acc2dc"/>
<rect x="187.19" y="187.00" width="6.61" height="1.56" fill="#c5d5e7"/>
<rect x="193.75" y="187.00" width="6.61" height="1.56" fill="#94aed1"/>
<rect x="43.00" y="188.50" width="6.61" height="1.56" fill="#c4d4e6"/>
<rect x="49.55" y="188.50" width="6.61" height="1.56" fill="#f8fafc"/>
<rect x="56.11" y="188.50" width="6.61" height="1.56" fill="#dae5f0"/>
<rect x="62.66" y="188.50" width="6.61" height="1.56" fill="#adc2dc"/>
<rect x="69.22" y="188.50" width="6.61" height="1.56" fill="#a4bbd8"/>
<rect x="75.77" y="188.50" width="6.61" height="1.56" fill="#b6c9e0"/>
<rect x="82.33" y="188.50" width="6.61" height="1.56" fill="#f9fbfd"/>
<rect x="88.88" y="188.50" width="6.61" height="1.56" fill="#f6f8fb"/>
<rect x="95.43" y="188.50" width="6.61" height="1.56" fill="#eff4f8"/>
<rect x="101.99" y="188.50" width="6.61" height="1.56" fill="#c5d5e6"/>
<rect x="108.54" y="188.50" width="6.61" height="1.56" fill="#b0c4dd"/>
<rect x="115.10" y="188.50" width="6.61" height="1.56" fill="#b1c5dd"/>
<rect x="121.65" y="188.50" width="6.61" height="1.56" fill="#fef2f2"/>
<rect x="128.20" y="188.50" width="6.61" height="1.56" fill="#eff3f8"/>
<rect x="134.76" y="188.50" width="6.61" height="1.56" fill="#edf2f7"/>
<rect x="141.31" y="188.50" width="6.61" height="1.56" fill="#bccde2"/>
<rect x="147.87" y="188.50" width="6.61" height="1.56" fill="#b5c8df"/>
<rect x="154.42" y="188.50" width="6.61" height="1.56" fill="#6789bb"/>
<rect x="160.98" y="188.50" width="6.61" height="1.56" fill="#fffafa"/>
<rect x="167.53" y="188.50" width="6.61" height="1.56" fill="#ffffff"/>
<rect x="174.08" y="188.50" width="6.61" height="1.56" fill="#eef3f8"/>
<rect x="180.64" y="188.50" width="6.61" height="1.56" fill="#cad9e9"/>
<rect x="187.19" y="188.50" width="6.61" height="1.56" fill="#bbcde2"/>
<rect x="193.75" y="188.50" width="6.61" height="1.56" fill="#cedcea"/>
<rect x="43.00" y="190.00" width="6.61" height="1.55" fill="#f1f5f9"/>
<rect x="49.55" y="190.00" width="6.61" height="1.55" fill="#fffbfb"/>
<rect x="56.11" y="190.00" width="6.61" height="1.55" fill="#fbfcfd"/>
<rect x="62.66" y="190.00" width="6.61" height="1.55" fill="#bccee2"/>
<rect x="69.22" y="190.00" width="6.61" height="1.55" fill="#c5d5e7"/>
<rect x="75.77" y="190.00" width="6.61" height="1.55" fill="#c4d4e6"/>
<rect x="82.33" y="190.00" width="6.61" height="1.55" fill="#fcd6d6"/>
<rect x="88.88" y="190.00" width="6.61" height="1.55" fill="#fcdada"/>
<rect x="95.43" y="190.00" width="6.61" height="1.55" fill="#fde4e4"/>
<rect x="101.99" y="190.00" width="6.61" height="1.55" fill="#fdfefe"/>
<rect x="108.54" y="190.00" width="6.61" height="1.55" fill="#d3e0ed"/>
<rect x="115.10" y="190.00" width="6.61" height="1.55" fill="#e0e9f2"/>
<rect x="121.65" y="190.00" width="6.61" height="1.55" fill="#feebeb"/>
<rect x="128.20" y="190.00" width="6.61" height="1.55" fill="#f1f5f9"/>
<rect x="134.76" y="190.00" width="6.61" height="1.55" fill="#fffdfd"/>
<rect x="141.31" y="190.00" width="6.61" height="1.55" fill="#d9e4ef"/>
<rect x="147.87" y="190.00" width="6.61" height="1.55" fill="#dce6f1"/>
<rect x="154.42" y="190.00" width="6.61" height="1.55" fill="#87a3cb"/>
<rect x="160.98" y="190.00" width="6.61" height="1.55" fill="#fffdfd"/>
<rect x="167.53" y="190.00" width="6.61" height="1.55" fill="#fef8f8"/>
<rect x="174.08" y="190.00" width="6.61" height="1.55" fill="#feefef"/>
<rect x="180.64" y="190.00" width="6.61" height="1.55" fill="#eaf0f6"/>
<rect x="187.19" y="190.00" width="6.61" height="1.55" fill="#eaf0f6"/>
<rect x="193.75" y="190.00" width="6.61" height="1.55" fill="#a8bed9"/>
<rect x="43.00" y="191.49" width="6.61" height="1.55" fill="#fcd6d6"/>
<rect x="49.55" y="191.49" width="6.61" height="1.55" fill="#fde0e0"/>
<rect x="56.11" y="191.49" width="6.61" height="1.55" fill="#fdfefe"/>
<rect x="62.66" y="191.49" width="6.61" height="1.55" fill="#dae5f0"/>
<rect x="69.22" y="191.49" width="6.61" height="1.55" fill="#dae5f0"/>
<rect x="75.77" y="191.49" width="6.61" height="1.55" fill="#dae5f0"/>
<rect x="82.33" y="191.49" width="6.61" height="1.55" fill="#f7f9fc"/>
<rect x="88.88" y="191.49" width="6.61" height="1.55" fill="#f3f7fa"/>
<rect x="95.43" y="191.49" width="6.61" height="1.55" fill="#eef3f8"/>
<rect x="101.99" y="191.49" width="6.61" height="1.55" fill="#bdcee3"/>
<rect x="108.54" y="191.49" width="6.61" height="1.55" fill="#b4c8df"/>
<rect x="115.10" y="191.49" width="6.61" height="1.55" fill="#9eb6d5"/>
<rect x="121.65" y="191.49" width="6.61" height="1.55" fill="#fffefe"/>
<rect x="128.20" y="191.49" width="6.61" height="1.55" fill="#fffefe"/>
<rect x="134.76" y="191.49" width="6.61" height="1.55" fill="#fefeff"/>
<rect x="141.31" y="191.49" width="6.61" height="1.55" fill="#d1deec"/>
<rect x="147.87" y="191.49" width="6.61" height="1.55" fill="#dee7f1"/>
<rect x="154.42" y="191.49" width="6.61" height="1.55" fill="#9cb5d4"/>
<rect x="160.98" y="191.49" width="6.61" height="1.55" fill="#fffcfc"/>
<rect x="167.53" y="191.49" width="6.61" height="1.55" fill="#fef7f7"/>
<rect x="174.08" y="191.49" width="6.61" height="1.55" fill="#fffafa"/>
<rect x="180.64" y="191.49" width="6.61" height="1.55" fill="#d6e2ee"/>
<rect x="187.19" y="191.49" width="6.61" height="1.55" fill="#eaf0f6"/>
<rect x="193.75" y="191.49" width="6.61" height="1.55" fill="#c8d8e8"/>
<rect x="43.00" y="192.98" width="6.61" height="1.55" fill="#fcd6d6"/>
<rect x="49.55" y="192.98" width="6.61" height="1.55" fill="#fde5e5"/>
<rect x="56.11" y="192.98" width="6.61" height="1.55" fill="#fcfdfe"/>
<rect x="62.66" y="192.98" width="6.61" height="1.55" fill="#c6d6e7"/>
<rect x="69.22" y="192.98" width="6.61" height="1.55" fill="#cbd9e9"/>
<rect x="75.77" y="192.98" width="6.61" height="1.55" fill="#c4d4e6"/>
<rect x="82.33" y="192.98" width="6.61" height="1.55" fill="#fddbdb"/>
<rect x="88.88" y="192.98" width="6.61" height="1.55" fill="#fddcdc"/>
<rect x="95.43" y="192.98" width="6.61" height="1.55" fill="#fde7e7"/>
<rect x="101.99" y="192.98" width="6.61" height="1.55" fill="#fdfefe"/>
<rect x="108.54" y="192.98" width="6.61" height="1.55" fill="#eaf0f6"/>
<rect x="115.10" y="192.98" width="6.61" height="1.55" fill="#e6edf5"/>
<rect x="121.65" y="192.98" width="6.61" height="1.55" fill="#feefef"/>
<rect x="128.20" y="192.98" width="6.61" height="1.55" fill="#fef7f7"/>
<rect x="134.76" y="192.98" width="6.61" height="1.55" fill="#fef3f3"/>
<rect x="141.31" y="192.98" width="6.61" height="1.55" fill="#dce6f0"/>
<rect x="147.87" y="192.98" width="6.61" height="1.55" fill="#dfe8f2"/>
<rect x="154.42" y="192.98" width="6.61" height="1.55" fill="#c8d8e8"/>
<rect x="160.98" y="192.98" width="6.61" height="1.55" fill="#fef7f7"/>
<rect x="167.53" y="192.98" width="6.61" height="1.55" fill="#feecec"/>
<rect x="174.08" y="192.98" width="6.61" height="1.55" fill="#fef1f1"/>
<rect x="180.64" y="192.98" width="6.61" height="1.55" fill="#dee8f1"/>
<rect x="187.19" y="192.98" width="6.61" height="1.55" fill="#abc1db"/>
<rect x="193.75" y="192.98" width="6.61" height="1.55" fill="#a0b8d6"/>
<rect x="43.00" y="194.48" width="6.61" height="1.55" fill="#fef0f0"/>
<rect x="49.55" y="194.48" width="6.61" height="1.55" fill="#ecf1f7"/>
<rect x="56.11" y="194.48" width="6.61" height="1.55" fill="#e1eaf2"/>
<rect x="62.66" y="194.48" width="6.61" height="1.55" fill="#a0b8d6"/>
<rect x="69.22" y="194.48" width="6.61" height="1.55" fill="#adc2dc"/>
<rect x="75.77" y="194.48" width="6.61" height="1.55" fill="#a3bad7"/>
<rect x="82.33" y="194.48" width="6.61" height="1.55" fill="#f4f7fa"/>
<rect x="88.88" y="194.48" width="6.61" height="1.55" fill="#f2f6fa"/>
<rect x="95.43" y="194.48" width="6.61" height="1.55" fill="#eef3f8"/>
<rect x="101.99" y="194.48" width="6.61" height="1.55" fill="#b4c7df"/>
<rect x="108.54" y="194.48" width="6.61" height="1.55" fill="#8ea9ce"/>
<rect x="115.10" y="194.48" width="6.61" height="1.55" fill="#9eb6d5"/>
<rect x="121.65" y="194.48" width="6.61" height="1.55" fill="#fddddd"/>
<rect x="128.20" y="194.48" width="6.61" height="1.55" fill="#fef5f5"/>
<rect x="134.76" y="194.48" width="6.61" height="1.55" fill="#feeeee"/>
<rect x="141.31" y="194.48" width="6.61" height="1.55" fill="#e3ebf3"/>
<rect x="147.87" y="194.48" width="6.61" height="1.55" fill="#e5edf4"/>
<rect x="154.42" y="194.48" width="6.61" height="1.55" fill="#91abcf"/>
<rect x="160.98" y="194.48" width="6.61" height="1.55" fill="#f7f9fc"/>
<rect x="167.53" y="194.48" width="6.61" height="1.55" fill="#f4f7fa"/>
<rect x="174.08" y="194.48" width="6.61" height="1.55" fill="#f3f6fa"/>
<rect x="180.64" y="194.48" width="6.61" height="1.55" fill="#b3c7df"/>
<rect x="187.19" y="194.48" width="6.61" height="1.55" fill="#8ea9ce"/>
<rect x="193.75" y="194.48" width="6.61" height="1.55" fill="#c8d8e8"/>
<rect x="43.00" y="195.97" width="6.61" height="1.55" fill="#edf2f7"/>
<rect x="49.55" y="195.97" width="6.61" height="1.55" fill="#fde0e0"/>
<rect x="56.11" y="195.97" width="6.61" height="1.55" fill="#fdfefe"/>
<rect x="62.66" y="195.97" width="6.61" height="1.55" fill="#d9e4ef"/>
<rect x="69.22" y="195.97" width="6.61" height="1.55" fill="#d1deec"/>
<rect x="75.77" y="195.97" width="6.61" height="1.55" fill="#d8e3ef"/>
<rect x="82.33" y="195.97" width="6.61" height="1.55" fill="#fef0f0"/>
<rect x="88.88" y="195.97" width="6.61" height="1.55" fill="#fef2f2"/>
<rect x="95.43" y="195.97" width="6.61" height="1.55" fill="#feefef"/>
<rect x="101.99" y="195.97" width="6.61" height="1.55" fill="#ecf2f7"/>
<rect x="108.54" y="195.97" width="6.61" height="1.55" fill="#c9d8e8"/>
<rect x="115.10" y="195.97" width="6.61" height="1.55" fill="#c9d8e8"/>
<rect x="121.65" y="195.97" width="6.61" height="1.55" fill="#feeeee"/>
<rect x="128.20" y="195.97" width="6.61" height="1.55" fill="#fef5f5"/>
<rect x="134.76" y="195.97" width="6.61" height="1.55" fill="#feeeee"/>
<rect x="141.31" y="195.97" width="6.61" height="1.55" fill="#dbe5f0"/>
<rect x="147.87" y="195.97" width="6.61" height="1.55" fill="#eaf0f6"/>
<rect x="154.42" y="195.97" width="6.61" height="1.55" fill="#b0c5dd"/>
<rect x="160.98" y="195.97" width="6.61" height="1.55" fill="#eff4f9"/>
<rect x="167.53" y="195.97" width="6.61" height="1.55" fill="#f6f9fb"/>
<rect x="174.08" y="195.97" width="6.61" height="1.55" fill="#f8fafc"/>
<rect x="180.64" y="195.97" width="6.61" height="1.55" fill="#c4d4e6"/>
<rect x="187.19" y="195.97" width="6.61" height="1.55" fill="#b6c9e0"/>
<rect x="193.75" y="195.97" width="6.61" height="1.55" fill="#7f9dc7"/>
<rect x="43.00" y="197.46" width="6.61" height="1.55" fill="#fde7e7"/>
<rect x="49.55" y="197.46" width="6.61" height="1.55" fill="#feebeb"/>
<rect x="56.11" y="197.46" width="6.61" height="1.55" fill="#dde7f1"/>
<rect x="62.66" y="197.46" width="6.61" height="1.55" fill="#c2d3e5"/>
<rect x="69.22" y="197.46" width="6.61" height="1.55" fill="#bed0e3"/>
<rect x="75.77" y="197.46" width="6.61" height="1.55" fill="#b3c7df"/>
<rect x="82.33" y="197.46" width="6.61" height="1.55" fill="#feebeb"/>
<rect x="88.88" y="197.46" width="6.61" height="1.55" fill="#fef1f1"/>
<rect x="95.43" y="197.46" width="6.61" height="1.55" fill="#fff9f9"/>
<rect x="101.99" y="197.46" width="6.61" height="1.55" fill="#e8eff5"/>
<rect x="108.54" y="197.46" width="6.61" height="1.55" fill="#cad8e9"/>
<rect x="115.10" y="197.46" width="6.61" height="1.55" fill="#cbd9e9"/>
<rect x="121.65" y="197.46" width="6.61" height="1.55" fill="#fde3e3"/>
<rect x="128.20" y="197.46" width="6.61" height="1.55" fill="#fef2f2"/>
<rect x="134.76" y="197.46" width="6.61" height="1.55" fill="#fffbfb"/>
<rect x="141.31" y="197.46" width="6.61" height="1.55" fill="#dbe6f0"/>
<rect x="147.87" y="197.46" width="6.61" height="1.55" fill="#dfe9f2"/>
<rect x="154.42" y="197.46" width="6.61" height="1.55" fill="#c8d8e8"/>
<rect x="160.98" y="197.46" width="6.61" height="1.55" fill="#fde8e8"/>
<rect x="167.53" y="197.46" width="6.61" height="1.55" fill="#feecec"/>
<rect x="174.08" y="197.46" width="6.61" height="1.55" fill="#fef1f1"/>
<rect x="180.64" y="197.46" width="6.61" height="1.55" fill="#eaf0f6"/>
<rect x="187.19" y="197.46" width="6.61" height="1.55" fill="#dbe5f0"/>
<rect x="193.75" y="197.46" width="6.61" height="1.55" fill="#a5bcd8"/>
<rect x="43.00" y="198.95" width="6.61" height="1.55" fill="#fef1f1"/>
<rect x="49.55" y="198.95" width="6.61" height="1.55" fill="#fffbfb"/>
<rect x="56.11" y="198.95" width="6.61" height="1.55" fill="#e5ecf4"/>
<rect x="62.66" y="198.95" width="6.61" height="1.55" fill="#b3c7de"/>
<rect x="69.22" y="198.95" width="6.61" height="1.55" fill="#afc4dd"/>
<rect x="75.77" y="198.95" width="6.61" height="1.55" fill="#acc1db"/>
<rect x="82.33" y="198.95" width="6.61" height="1.55" fill="#fef0f0"/>
<rect x="88.88" y="198.95" width="6.61" height="1.55" fill="#feeeee"/>
<rect x="95.43" y="198.95" width="6.61" height="1.55" fill="#feebeb"/>
<rect x="101.99" y="198.95" width="6.61" height="1.55" fill="#eff4f8"/>
<rect x="108.54" y="198.95" width="6.61" height="1.55" fill="#cbdae9"/>
<rect x="115.10" y="198.95" width="6.61" height="1.55" fill="#c3d3e5"/>
<rect x="121.65" y="198.95" width="6.61" height="1.55" fill="#fcfdfe"/>
<rect x="128.20" y="198.95" width="6.61" height="1.55" fill="#f8fafc"/>
<rect x="134.76" y="198.95" width="6.61" height="1.55" fill="#fdfefe"/>
<rect x="141.31" y="198.95" width="6.61" height="1.55" fill="#c8d7e8"/>
<rect x="147.87" y="198.95" width="6.61" height="1.55" fill="#b8cbe1"/>
<rect x="154.42" y="198.95" width="6.61" height="1.55" fill="#a2b9d7"/>
<rect x="160.98" y="198.95" width="6.61" height="1.55" fill="#fef7f7"/>
<rect x="167.53" y="198.95" width="6.61" height="1.55" fill="#fef0f0"/>
<rect x="174.08" y="198.95" width="6.61" height="1.55" fill="#fef3f3"/>
<rect x="180.64" y="198.95" width="6.61" height="1.55" fill="#d5e2ee"/>
<rect x="187.19" y="198.95" width="6.61" height="1.55" fill="#e8eff5"/>
<rect x="193.75" y="198.95" width="6.61" height="1.55" fill="#98b2d2"/>
<rect x="43.00" y="200.45" width="6.61" height="1.55" fill="#fef3f3"/>
<rect x="49.55" y="200.45" width="6.61" height="1.55" fill="#f6f8fb"/>
<rect x="56.11" y="200.45" width="6.61" height="1.55" fill="#e0e9f2"/>
<rect x="62.66" y="200.45" width="6.61" height="1.55" fill="#a7bdd9"/>
<rect x="69.22" y="200.45" width="6.61" height="1.55" fill="#acc1db"/>
<rect x="75.77" y="200.45" width="6.61" height="1.55" fill="#a9bfda"/>
<rect x="82.33" y="200.45" width="6.61" height="1.55" fill="#fde6e6"/>
<rect x="88.88" y="200.45" width="6.61" height="1.55" fill="#fde7e7"/>
<rect x="95.43" y="200.45" width="6.61" height="1.55" fill="#fde4e4"/>
<rect x="101.99" y="200.45" width="6.61" height="1.55" fill="#fdfefe"/>
<rect x="108.54" y="200.45" width="6.61" height="1.55" fill="#d7e3ef"/>
<rect x="115.10" y="200.45" width="6.61" height="1.55" fill="#e8eff5"/>
<rect x="121.65" y="200.45" width="6.61" height="1.55" fill="#fde9e9"/>
<rect x="128.20" y="200.45" width="6.61" height="1.55" fill="#ffffff"/>
<rect x="134.76" y="200.45" width="6.61" height="1.55" fill="#fef6f6"/>
<rect x="141.31" y="200.45" width="6.61" height="1.55" fill="#dee8f1"/>
<rect x="147.87" y="200.45" width="6.61" height="1.55" fill="#d3e0ed"/>
<rect x="154.42" y="200.45" width="6.61" height="1.55" fill="#acc1db"/>
<rect x="160.98" y="200.45" width="6.61" height="1.55" fill="#f9fbfd"/>
<rect x="167.53" y="200.45" width="6.61" height="1.55" fill="#fffbfb"/>
<rect x="174.08" y="200.45" width="6.61" height="1.55" fill="#f4f7fa"/>
<rect x="180.64" y="200.45" width="6.61" height="1.55" fill="#cad8e9"/>
<rect x="187.19" y="200.45" width="6.61" height="1.55" fill="#8ea9ce"/>
<rect x="193.75" y="200.45" width="6.61" height="1.55" fill="#a6bdd9"/>
<rect x="43.00" y="201.94" width="6.61" height="1.55" fill="#fde3e3"/>
<rect x="49.55" y="201.94" width="6.61" height="1.55" fill="#fef1f1"/>
<rect x="56.11" y="201.94" width="6.61" height="1.55" fill="#e5ecf4"/>
<rect x="62.66" y="201.94" width="6.61" height="1.55" fill="#b4c8df"/>
<rect x="69.22" y="201.94" width="6.61" height="1.55" fill="#b3c7df"/>
<rect x="75.77" y="201.94" width="6.61" height="1.55" fill="#b1c5de"/>
<rect x="82.33" y="201.94" width="6.61" height="1.55" fill="#fefeff"/>
<rect x="88.88" y="201.94" width="6.61" height="1.55" fill="#fef0f0"/>
<rect x="95.43" y="201.94" width="6.61" height="1.55" fill="#fff9f9"/>
<rect x="101.99" y="201.94" width="6.61" height="1.55" fill="#dce6f1"/>
<rect x="108.54" y="201.94" width="6.61" height="1.55" fill="#b0c5dd"/>
<rect x="115.10" y="201.94" width="6.61" height="1.55" fill="#c9d8e8"/>
<rect x="121.65" y="201.94" width="6.61" height="1.55" fill="#feecec"/>
<rect x="128.20" y="201.94" width="6.61" height="1.55" fill="#fafbfd"/>
<rect x="134.76" y="201.94" width="6.61" height="1.55" fill="#fff9f9"/>
<rect x="141.31" y="201.94" width="6.61" height="1.55" fill="#e2ebf3"/>
<rect x="147.87" y="201.94" width="6.61" height="1.55" fill="#d4e1ed"/>
<rect x="154.42" y="201.94" width="6.61" height="1.55" fill="#a1b9d7"/>
<rect x="160.98" y="201.94" width="6.61" height="1.55" fill="#e8eff6"/>
<rect x="167.53" y="201.94" width="6.61" height="1.55" fill="#f4f7fb"/>
<rect x="174.08" y="201.94" width="6.61" height="1.55" fill="#fffcfc"/>
<rect x="180.64" y="201.94" width="6.61" height="1.55" fill="#b2c6de"/>
<rect x="187.19" y="201.94" width="6.61" height="1.55" fill="#cad9e9"/>
<rect x="193.75" y="201.94" width="6.61" height="1.55" fill="#9eb6d5"/>
<rect x="43.00" y="203.43" width="6.61" height="1.55" fill="#fcd6d6"/>
<rect x="49.55" y="203.43" width="6.61" height="1.55" fill="#fde4e4"/>
<rect x="56.11" y="203.43" width="6.61" height="1.55" fill="#e8eff6"/>
<rect x="62.66" y="203.43" width="6.61" height="1.55" fill="#cfdceb"/>
<rect x="69.22" y="203.43" width="6.61" height="1.55" fill="#c5d4e6"/>
<rect x="75.77" y="203.43" width="6.61" height="1.55" fill="#cbdae9"/>
<rect x="82.33" y="203.43" width="6.61" height="1.55" fill="#fef4f4"/>
<rect x="88.88" y="203.43" width="6.61" height="1.55" fill="#fffcfc"/>
<rect x="95.43" y="203.43" width="6.61" height="1.55" fill="#fffbfb"/>
<rect x="101.99" y="203.43" width="6.61" height="1.55" fill="#d8e4ef"/>
<rect x="108.54" y="203.43" width="6.61" height="1.55" fill="#c0d1e4"/>
<rect x="115.10" y="203.43" width="6.61" height="1.55" fill="#b6c9e0"/>
<rect x="121.65" y="203.43" width="6.61" height="1.55" fill="#fdfefe"/>
<rect x="128.20" y="203.43" width="6.61" height="1.55" fill="#f2f6f9"/>
<rect x="134.76" y="203.43" width="6.61" height="1.55" fill="#ecf1f7"/>
<rect x="141.31" y="203.43" width="6.61" height="1.55" fill="#c7d7e8"/>
<rect x="147.87" y="203.43" width="6.61" height="1.55" fill="#b7cae0"/>
<rect x="154.42" y="203.43" width="6.61" height="1.55" fill="#a6bdd9"/>
<rect x="160.98" y="203.43" width="6.61" height="1.55" fill="#fdfefe"/>
<rect x="167.53" y="203.43" width="6.61" height="1.55" fill="#fffcfc"/>
<rect x="174.08" y="203.43" width="6.61" height="1.55" fill="#feffff"/>
<rect x="180.64" y="203.43" width="6.61" height="1.55" fill="#ccdaea"/>
<rect x="187.19" y="203.43" width="6.61" height="1.55" fill="#eaf0f6"/>
<rect x="193.75" y="203.43" width="6.61" height="1.55" fill="#c8d8e8"/>
<rect x="43.00" y="204.92" width="6.61" height="1.55" fill="#fde1e1"/>
<rect x="49.55" y="204.92" width="6.61" height="1.55" fill="#fde9e9"/>
<rect x="56.11" y="204.92" width="6.61" height="1.55" fill="#eff4f9"/>
<rect x="62.66" y="204.92" width="6.61" height="1.55" fill="#c1d2e5"/>
<rect x="69.22" y="204.92" width="6.61" height="1.55" fill="#c1d2e5"/>
<rect x="75.77" y="204.92" width="6.61" height="1.55" fill="#c6d5e7"/>
<rect x="82.33" y="204.92" width="6.61" height="1.55" fill="#fffbfb"/>
<rect x="88.88" y="204.92" width="6.61" height="1.55" fill="#fffdfd"/>
<rect x="95.43" y="204.92" width="6.61" height="1.55" fill="#ffffff"/>
<rect x="101.99" y="204.92" width="6.61" height="1.55" fill="#e5ecf4"/>
<rect x="108.54" y="204.92" width="6.61" height="1.55" fill="#b3c7de"/>
<rect x="115.10" y="204.92" width="6.61" height="1.55" fill="#bccee3"/>
<rect x="121.65" y="204.92" width="6.61" height="1.55" fill="#e7eef5"/>
<rect x="128.20" y="204.92" width="6.61" height="1.55" fill="#dae5f0"/>
<rect x="134.76" y="204.92" width="6.61" height="1.55" fill="#d5e1ee"/>
<rect x="141.31" y="204.92" width="6.61" height="1.55" fill="#a4bbd8"/>
<rect x="147.87" y="204.92" width="6.61" height="1.55" fill="#acc2dc"/>
<rect x="154.42" y="204.92" width="6.61" height="1.55" fill="#688abb"/>
<rect x="160.98" y="204.92" width="6.61" height="1.55" fill="#feeeee"/>
<rect x="167.53" y="204.92" width="6.61" height="1.55" fill="#fef4f4"/>
<rect x="174.08" y="204.92" width="6.61" height="1.55" fill="#fef0f0"/>
<rect x="180.64" y="204.92" width="6.61" height="1.55" fill="#dde7f1"/>
<rect x="187.19" y="204.92" width="6.61" height="1.55" fill="#8aa6cc"/>
<rect x="193.75" y="204.92" width="6.61" height="1.55" fill="#c3d3e6"/>
<rect x="43.00" y="206.42" width="6.61" height="1.55" fill="#fcd7d7"/>
<rect x="49.55" y="206.42" width="6.61" height="1.55" fill="#feebeb"/>
<rect x="56.11" y="206.42" width="6.61" height="1.55" fill="#e8eff6"/>
<rect x="62.66" y="206.42" width="6.61" height="1.55" fill="#b7cae0"/>
<rect x="69.22" y="206.42" width="6.61" height="1.55" fill="#c0d1e4"/>
<rect x="75.77" y="206.42" width="6.61" height="1.55" fill="#b2c6de"/>
<rect x="82.33" y="206.42" width="6.61" height="1.55" fill="#fcd6d6"/>
<rect x="88.88" y="206.42" width="6.61" height="1.55" fill="#fcd6d6"/>
<rect x="95.43" y="206.42" width="6.61" height="1.55" fill="#fcd9d9"/>
<rect x="101.99" y="206.42" width="6.61" height="1.55" fill="#fdfefe"/>
<rect x="108.54" y="206.42" width="6.61" height="1.55" fill="#eaf0f6"/>
<rect x="115.10" y="206.42" width="6.61" height="1.55" fill="#eaf0f6"/>
<rect x="121.65" y="206.42" width="6.61" height="1.55" fill="#fef7f7"/>
<rect x="128.20" y="206.42" width="6.61" height="1.55" fill="#fffdfd"/>
<rect x="134.76" y="206.42" width="6.61" height="1.55" fill="#e9eff6"/>
<rect x="141.31" y="206.42" width="6.61" height="1.55" fill="#cad9e9"/>
<rect x="147.87" y="206.42" width="6.61" height="1.55" fill="#cedcea"/>
<rect x="154.42" y="206.42" width="6.61" height="1.55" fill="#bccee3"/>
<rect x="160.98" y="206.42" width="6.61" height="1.55" fill="#ffffff"/>
<rect x="167.53" y="206.42" width="6.61" height="1.55" fill="#fff9f9"/>
<rect x="174.08" y="206.42" width="6.61" height="1.55" fill="#fffbfb"/>
<rect x="180.64" y="206.42" width="6.61" height="1.55" fill="#ccdbea"/>
<rect x="187.19" y="206.42" width="6.61" height="1.55" fill="#a0b8d6"/>
<rect x="193.75" y="206.42" width="6.61" height="1.55" fill="#89a5cb"/>
<rect x="43.00" y="207.91" width="6.61" height="1.55" fill="#feebeb"/>
<rect x="49.55" y="207.91" width="6.61" height="1.55" fill="#fef3f3"/>
<rect x="56.11" y="207.91" width="6.61" height="1.55" fill="#f0f5f9"/>
<rect x="62.66" y="207.91" width="6.61" height="1.55" fill="#c0d1e4"/>
<rect x="69.22" y="207.91" width="6.61" height="1.55" fill="#b4c8df"/>
<rect x="75.77" y="207.91" width="6.61" height="1.55" fill="#c3d3e6"/>
<rect x="82.33" y="207.91" width="6.61" height="1.55" fill="#fef1f1"/>
<rect x="88.88" y="207.91" width="6.61" height="1.55" fill="#fffcfc"/>
<rect x="95.43" y="207.91" width="6.61" height="1.55" fill="#fef2f2"/>
<rect x="101.99" y="207.91" width="6.61" height="1.55" fill="#e1eaf2"/>
<rect x="108.54" y="207.91" width="6.61" height="1.55" fill="#c1d2e5"/>
<rect x="115.10" y="207.91" width="6.61" height="1.55" fill="#cddbea"/>
<rect x="121.65" y="207.91" width="6.61" height="1.55" fill="#fddddd"/>
<rect x="128.20" y="207.91" width="6.61" height="1.55" fill="#feeaea"/>
<rect x="134.76" y="207.91" width="6.61" height="1.55" fill="#feeaea"/>
<rect x="141.31" y="207.91" width="6.61" height="1.55" fill="#eaf0f6"/>
<rect x="147.87" y="207.91" width="6.61" height="1.55" fill="#eaf0f6"/>
<rect x="154.42" y="207.91" width="6.61" height="1.55" fill="#c8d8e8"/>
<rect x="160.98" y="207.91" width="6.61" height="1.55" fill="#e0e9f2"/>
<rect x="167.53" y="207.91" width="6.61" height="1.55" fill="#e4ecf4"/>
<rect x="174.08" y="207.91" width="6.61" height="1.55" fill="#e5edf4"/>
<rect x="180.64" y="207.91" width="6.61" height="1.55" fill="#c6d6e7"/>
<rect x="187.19" y="207.91" width="6.61" height="1.55" fill="#a8bfda"/>
<rect x="193.75" y="207.91" width="6.61" height="1.55" fill="#a7bdd9"/>
<rect x="43.00" y="58.00" width="6.55" height="0.9" fill="#4a4a4a" opacity="0.55"/>
<rect x="43.00" y="71.00" width="6.55" height="0.9" fill="#4a4a4a" opacity="0.55"/>
<rect x="62.66" y="69.00" width="6.55" height="0.9" fill="#4a4a4a" opacity="0.55"/>
<rect x="62.66" y="77.00" width="19.66" height="0.9" fill="#4a4a4a" opacity="0.55"/>
<rect x="43.00" y="81.00" width="13.11" height="0.9" fill="#4a4a4a" opacity="0.55"/>
<rect x="62.66" y="81.20" width="19.66" height="0.9" fill="#4a4a4a" opacity="0.55"/>
<rect x="154.42" y="68.50" width="6.55" height="0.9" fill="#4a4a4a" opacity="0.55"/>
<rect x="154.42" y="77.00" width="6.55" height="0.9" fill="#4a4a4a" opacity="0.55"/>
<rect x="147.87" y="85.30" width="6.55" height="0.9" fill="#4a4a4a" opacity="0.55"/>
<rect x="180.64" y="71.20" width="13.11" height="0.9" fill="#4a4a4a" opacity="0.55"/>
<rect x="88.88" y="57.60" width="13.11" height="0.9" fill="#4a4a4a" opacity="0.55"/>
<rect x="43.00" y="137.50" width="13.11" height="0.9" fill="#4a4a4a" opacity="0.55"/>
<rect x="82.33" y="137.50" width="13.11" height="0.9" fill="#4a4a4a" opacity="0.55"/>
<rect x="43.00" y="159.50" width="6.55" height="0.9" fill="#4a4a4a" opacity="0.55"/>
<rect x="43.00" y="174.50" width="6.55" height="0.9" fill="#4a4a4a" opacity="0.55"/>
<rect x="49.55" y="189.50" width="6.55" height="0.9" fill="#4a4a4a" opacity="0.55"/>
<rect x="49.55" y="202.50" width="6.55" height="0.9" fill="#4a4a4a" opacity="0.55"/>
<rect x="69.22" y="206.50" width="6.55" height="0.9" fill="#4a4a4a" opacity="0.55"/>
<rect x="115.10" y="161.50" width="6.55" height="0.9" fill="#4a4a4a" opacity="0.55"/>
<rect x="115.10" y="166.00" width="6.55" height="0.9" fill="#4a4a4a" opacity="0.55"/>
<rect x="115.10" y="193.00" width="6.55" height="0.9" fill="#4a4a4a" opacity="0.55"/>
<rect x="121.65" y="172.00" width="6.55" height="0.9" fill="#4a4a4a" opacity="0.55"/>
<rect x="141.31" y="170.00" width="6.55" height="0.9" fill="#4a4a4a" opacity="0.55"/>
<rect x="141.31" y="179.00" width="6.55" height="0.9" fill="#4a4a4a" opacity="0.55"/>
<rect x="128.20" y="206.00" width="6.55" height="0.9" fill="#4a4a4a" opacity="0.55"/>
<rect x="187.19" y="161.00" width="13.11" height="0.9" fill="#4a4a4a" opacity="0.55"/>
<rect x="180.64" y="183.00" width="13.11" height="0.9" fill="#4a4a4a" opacity="0.55"/>
<rect x="174.08" y="173.00" width="13.11" height="0.9" fill="#4a4a4a" opacity="0.55"/>
<rect x="180.64" y="194.00" width="19.66" height="0.9" fill="#4a4a4a" opacity="0.55"/>
<rect x="167.53" y="202.60" width="26.22" height="0.9" fill="#4a4a4a" opacity="0.55"/>
<rect x="147.87" y="192.00" width="6.55" height="0.9" fill="#4a4a4a" opacity="0.55"/>
<rect x="49.55" y="118.00" width="6.55" height="0.9" fill="#4a4a4a" opacity="0.55"/>
<rect x="43.00" y="114.00" width="6.55" height="0.9" fill="#4a4a4a" opacity="0.55"/>
<rect x="147.87" y="131.00" width="6.55" height="0.9" fill="#4a4a4a" opacity="0.55"/>
<rect x="43.00" y="110.00" width="6.55" height="0.9" fill="#4a4a4a" opacity="0.55"/>
<rect x="43.00" y="116.00" width="6.55" height="0.9" fill="#4a4a4a" opacity="0.55"/>
<rect x="43.00" y="121.50" width="6.55" height="0.9" fill="#4a4a4a" opacity="0.55"/>
<rect x="49.55" y="126.00" width="6.55" height="0.9" fill="#4a4a4a" opacity="0.55"/>
<rect x="43.00" y="133.00" width="6.55" height="0.9" fill="#4a4a4a" opacity="0.55"/>
<rect x="160.98" y="109.50" width="13.11" height="0.9" fill="#4a4a4a" opacity="0.55"/></g></g>
<g><line x1="7.00" y1="54.60" x2="7.00" y2="74.30" stroke="#111" stroke-width="0.90"/>
<line x1="6.60" y1="54.60" x2="35.60" y2="54.60" stroke="#111" stroke-width="1.00"/>
<line x1="7.00" y1="74.30" x2="15.30" y2="74.30" stroke="#111" stroke-width="0.90"/>
<line x1="15.30" y1="57.50" x2="15.30" y2="91.90" stroke="#111" stroke-width="0.90"/>
<line x1="15.30" y1="57.50" x2="35.60" y2="57.50" stroke="#111" stroke-width="0.90"/>
<line x1="15.30" y1="91.90" x2="19.40" y2="91.90" stroke="#111" stroke-width="0.90"/>
<line x1="19.40" y1="68.30" x2="19.40" y2="115.30" stroke="#111" stroke-width="0.90"/>
<line x1="19.40" y1="68.30" x2="22.60" y2="68.30" stroke="#111" stroke-width="0.90"/>
<line x1="19.40" y1="115.30" x2="22.30" y2="115.30" stroke="#111" stroke-width="0.90"/>
<line x1="23.20" y1="57.50" x2="23.20" y2="79.00" stroke="#111" stroke-width="0.90"/>
<line x1="23.20" y1="79.00" x2="27.80" y2="79.00" stroke="#111" stroke-width="0.90"/>
<line x1="22.60" y1="68.30" x2="22.60" y2="79.00" stroke="#111" stroke-width="0.90"/>
<line x1="27.80" y1="57.50" x2="27.80" y2="76.80" stroke="#111" stroke-width="0.90"/>
<line x1="29.60" y1="58.40" x2="29.60" y2="75.90" stroke="#111" stroke-width="0.90"/>
<line x1="28.30" y1="79.00" x2="28.30" y2="91.50" stroke="#111" stroke-width="0.90"/>
<line x1="22.30" y1="106.50" x2="22.30" y2="124.00" stroke="#111" stroke-width="0.90"/>
<line x1="22.30" y1="106.50" x2="35.60" y2="106.50" stroke="#111" stroke-width="0.90"/>
<line x1="22.30" y1="124.00" x2="26.20" y2="124.00" stroke="#111" stroke-width="0.90"/>
<line x1="26.20" y1="107.00" x2="26.20" y2="139.90" stroke="#111" stroke-width="0.90"/>
<line x1="26.20" y1="137.20" x2="35.60" y2="137.20" stroke="#111" stroke-width="0.90"/>
<line x1="27.30" y1="138.00" x2="27.30" y2="149.60" stroke="#111" stroke-width="0.90"/>
<line x1="27.30" y1="149.60" x2="29.20" y2="149.60" stroke="#111" stroke-width="0.90"/>
<line x1="29.20" y1="138.50" x2="29.20" y2="149.60" stroke="#111" stroke-width="0.90"/>
<line x1="29.60" y1="139.00" x2="29.60" y2="160.00" stroke="#111" stroke-width="0.90"/>
<line x1="29.80" y1="160.00" x2="29.80" y2="181.00" stroke="#888" stroke-width="0.90"/>
<polygon points="31.30,57.50 35.60,57.50 35.60,91.50 31.00,91.50" fill="#151515"/>
<line x1="30.30" y1="57.50" x2="30.30" y2="92.00" stroke="#111" stroke-width="0.90"/>
<polygon points="28.30,88.00 35.60,88.00 35.60,105.50 33.60,105.50" fill="#151515"/>
<polygon points="27.60,106.50 35.60,106.50 35.60,137.00 28.60,137.00" fill="#151515"/>
<polygon points="30.60,137.20 35.60,137.20 35.60,209.40 31.20,209.40" fill="#151515"/>
<polygon points="31.20,59.50 32.30,59.50 32.10,70.00 31.50,70.00" fill="#ffffff"/>
<polygon points="32.60,65.00 33.40,65.00 33.30,76.00 32.80,76.00" fill="#ffffff"/>
<polygon points="31.00,78.00 31.80,78.00 31.70,88.00 31.20,88.00" fill="#ffffff"/>
<polygon points="29.50,93.00 31.50,93.00 33.00,101.00 32.60,101.00" fill="#ffffff"/>
<polygon points="28.40,109.00 30.20,109.00 30.80,134.00 29.60,134.00" fill="#ffffff"/>
<polygon points="31.40,112.00 32.20,112.00 32.40,130.00 31.90,130.00" fill="#ffffff"/>
<polygon points="31.60,142.00 32.80,142.00 33.00,162.00 32.20,162.00" fill="#ffffff"/>
<polygon points="32.20,170.00 33.20,170.00 33.10,188.00 32.50,188.00" fill="#ffffff"/>
<polygon points="32.60,194.00 33.30,194.00 33.30,205.00 32.80,205.00" fill="#ffffff"/>
<polygon points="33.44,124.50 34.08,124.50 33.82,132.54 33.57,132.54" fill="#ffffff"/>
<polygon points="29.97,132.65 30.62,132.65 30.36,140.94 30.10,140.94" fill="#ffffff"/>
<polygon points="31.90,150.59 32.45,150.59 32.23,160.73 32.01,160.73" fill="#ffffff"/>
<polygon points="33.13,71.33 33.55,71.33 33.38,81.62 33.21,81.62" fill="#ffffff"/>
<polygon points="33.07,202.38 33.78,202.38 33.50,214.07 33.21,214.07" fill="#ffffff"/>
<polygon points="32.76,81.15 33.19,81.15 33.02,84.29 32.85,84.29" fill="#ffffff"/>
<polygon points="31.67,85.96 32.30,85.96 32.05,91.14 31.79,91.14" fill="#ffffff"/>
<polygon points="31.54,122.76 32.26,122.76 31.97,133.34 31.68,133.34" fill="#ffffff"/>
<polygon points="31.25,131.47 31.79,131.47 31.57,140.43 31.36,140.43" fill="#ffffff"/>
<polygon points="33.46,204.66 34.22,204.66 33.92,216.62 33.62,216.62" fill="#ffffff"/>
<polygon points="34.01,104.35 34.45,104.35 34.27,109.41 34.10,109.41" fill="#ffffff"/>
<polygon points="33.48,170.64 34.07,170.64 33.83,177.25 33.60,177.25" fill="#ffffff"/>
<polygon points="31.70,198.83 32.21,198.83 32.00,209.46 31.80,209.46" fill="#ffffff"/>
<polygon points="33.76,191.81 34.36,191.81 34.12,199.04 33.88,199.04" fill="#ffffff"/>
<polygon points="33.31,68.74 33.85,68.74 33.63,77.40 33.42,77.40" fill="#ffffff"/>
<polygon points="33.72,70.81 34.50,70.81 34.19,76.80 33.88,76.80" fill="#ffffff"/>
<polygon points="31.82,75.34 32.25,75.34 32.08,80.56 31.91,80.56" fill="#ffffff"/>
<polygon points="32.87,175.16 33.50,175.16 33.25,179.76 33.00,179.76" fill="#ffffff"/>
<polygon points="31.89,86.03 32.61,86.03 32.32,95.62 32.03,95.62" fill="#ffffff"/>
<polygon points="32.07,75.13 32.60,75.13 32.39,81.91 32.18,81.91" fill="#ffffff"/>
<polygon points="32.34,200.73 33.18,200.73 32.84,210.96 32.51,210.96" fill="#ffffff"/>
<polygon points="33.48,88.97 34.20,88.97 33.91,95.52 33.62,95.52" fill="#ffffff"/>
<polygon points="32.07,72.75 32.60,72.75 32.39,84.65 32.17,84.65" fill="#ffffff"/>
<polygon points="32.32,171.59 32.76,171.59 32.58,177.55 32.41,177.55" fill="#ffffff"/>
<polygon points="32.13,71.25 32.84,71.25 32.56,79.49 32.27,79.49" fill="#ffffff"/>
<polygon points="33.61,112.64 34.25,112.64 33.99,119.72 33.74,119.72" fill="#ffffff"/>
<polygon points="32.08,142.46 32.56,142.46 32.37,153.26 32.18,153.26" fill="#ffffff"/>
<polygon points="32.22,191.54 32.72,191.54 32.52,201.90 32.32,201.90" fill="#ffffff"/>
<polygon points="32.11,166.70 32.99,166.70 32.64,178.16 32.29,178.16" fill="#ffffff"/>
<polygon points="32.59,187.68 33.04,187.68 32.86,196.11 32.68,196.11" fill="#ffffff"/>
<polygon points="32.12,63.69 32.88,63.69 32.58,75.35 32.27,75.35" fill="#ffffff"/>
<polygon points="33.92,95.78 34.47,95.78 34.25,106.19 34.03,106.19" fill="#ffffff"/>
<polygon points="31.75,83.79 32.27,83.79 32.06,93.27 31.85,93.27" fill="#ffffff"/>
<polygon points="32.99,140.23 33.53,140.23 33.31,150.90 33.10,150.90" fill="#ffffff"/>
<polygon points="31.73,192.85 32.27,192.85 32.06,197.69 31.84,197.69" fill="#ffffff"/>
<polygon points="29.93,123.52 30.51,123.52 30.28,127.06 30.05,127.06" fill="#ffffff"/>
<polygon points="32.46,142.11 33.31,142.11 32.97,146.29 32.63,146.29" fill="#ffffff"/>
<polygon points="33.15,202.13 33.84,202.13 33.57,211.04 33.29,211.04" fill="#ffffff"/>
<polygon points="31.64,78.63 32.49,78.63 32.15,81.95 31.81,81.95" fill="#ffffff"/>
<polygon points="31.74,161.04 32.46,161.04 32.18,172.71 31.89,172.71" fill="#ffffff"/>
<line x1="34.90" y1="54.60" x2="34.90" y2="209.40" stroke="#111" stroke-width="1.40"/></g>
<g><text x="6.90" y="16.80" font-size="11.50" text-anchor="start" fill="#000" font-weight="bold">A</text>
<text x="58.50" y="26.00" font-size="7.40" text-anchor="middle" fill="#1a1a1a" font-weight="normal" stroke="#1a1a1a" stroke-width="0.18">E1</text>
<rect x="42.10" y="30.1" width="37.50" height="1.6" fill="#6a6a6a"/>
<text x="46.60" y="40.70" font-size="7.80" text-anchor="start" fill="#1a1a1a" font-weight="normal" stroke="#1a1a1a" stroke-width="0.18">T0</text>
<text x="82.40" y="40.70" font-size="7.80" text-anchor="end" fill="#1a1a1a" font-weight="normal" stroke="#1a1a1a" stroke-width="0.18">60h</text>
<path d="M46.90 49.3 L79.60 49.3 L79.60 42.9 Z" fill="none" stroke="#111" stroke-width="0.8" stroke-linejoin="miter"/>
<text x="98.80" y="26.00" font-size="7.40" text-anchor="middle" fill="#1a1a1a" font-weight="normal" stroke="#1a1a1a" stroke-width="0.18">E2</text>
<rect x="83.40" y="30.1" width="36.50" height="1.6" fill="#6a6a6a"/>
<text x="86.77" y="40.70" font-size="7.80" text-anchor="start" fill="#1a1a1a" font-weight="normal" stroke="#1a1a1a" stroke-width="0.18">T0</text>
<text x="122.40" y="40.70" font-size="7.80" text-anchor="end" fill="#1a1a1a" font-weight="normal" stroke="#1a1a1a" stroke-width="0.18">60h</text>
<path d="M86.75 49.3 L119.55 49.3 L119.55 42.9 Z" fill="none" stroke="#111" stroke-width="0.8" stroke-linejoin="miter"/>
<text x="140.00" y="26.00" font-size="7.40" text-anchor="middle" fill="#1a1a1a" font-weight="normal" stroke="#1a1a1a" stroke-width="0.18">E3</text>
<rect x="123.75" y="30.1" width="36.75" height="1.6" fill="#6a6a6a"/>
<text x="126.94" y="40.70" font-size="7.80" text-anchor="start" fill="#1a1a1a" font-weight="normal" stroke="#1a1a1a" stroke-width="0.18">T0</text>
<text x="162.40" y="40.70" font-size="7.80" text-anchor="end" fill="#1a1a1a" font-weight="normal" stroke="#1a1a1a" stroke-width="0.18">60h</text>
<path d="M126.60 49.3 L159.50 49.3 L159.50 42.9 Z" fill="none" stroke="#111" stroke-width="0.8" stroke-linejoin="miter"/>
<text x="180.50" y="26.00" font-size="7.40" text-anchor="middle" fill="#1a1a1a" font-weight="normal" stroke="#1a1a1a" stroke-width="0.18">E4</text>
<rect x="164.00" y="30.1" width="37.30" height="1.6" fill="#6a6a6a"/>
<text x="167.11" y="40.70" font-size="7.80" text-anchor="start" fill="#1a1a1a" font-weight="normal" stroke="#1a1a1a" stroke-width="0.18">T0</text>
<text x="202.40" y="40.70" font-size="7.80" text-anchor="end" fill="#1a1a1a" font-weight="normal" stroke="#1a1a1a" stroke-width="0.18">60h</text>
<path d="M166.45 49.3 L199.45 49.3 L199.45 42.9 Z" fill="none" stroke="#111" stroke-width="0.8" stroke-linejoin="miter"/>
<text x="104.00" y="220.70" font-size="8.90" text-anchor="start" fill="#1a1a1a" font-weight="normal" stroke="#1a1a1a" stroke-width="0.18" textLength="36.90" lengthAdjust="spacingAndGlyphs">Primary cells</text>
<defs><linearGradient id="cb" x1="0" y1="0" x2="0" y2="1"><stop offset="0" stop-color="#e8000f"/><stop offset="0.38" stop-color="#ffffff"/><stop offset="0.62" stop-color="#ffffff"/><stop offset="1" stop-color="#283550"/></linearGradient></defs>
<rect x="217" y="69.3" width="5.2" height="57.7" fill="url(#cb)" stroke="#333" stroke-width="0.8"/>
<text x="225.60" y="75.00" font-size="7.40" text-anchor="start" fill="#1a1a1a" font-weight="normal" stroke="#1a1a1a" stroke-width="0.18">26</text>
<text x="225.80" y="128.00" font-size="7.40" text-anchor="start" fill="#1a1a1a" font-weight="normal" stroke="#1a1a1a" stroke-width="0.18">4</text>
<text x="226" y="94.2" font-size="7.3" fill="#1a1a1a" stroke="#1a1a1a" stroke-width="0.28">Log<tspan font-size="4.8" dx="0.7" dy="1.6">2</tspan><tspan dx="0.5" dy="-1.6">(protein</tspan></text>
<text x="226.00" y="103.20" font-size="7.30" text-anchor="start" fill="#1a1a1a" font-weight="normal" stroke="#1a1a1a" stroke-width="0.18" textLength="45.00" lengthAdjust="spacingAndGlyphs">copy number)</text></g>
<g><text x="280.50" y="16.00" font-size="11.50" text-anchor="start" fill="#000" font-weight="bold">B</text>
<path d="M318.4 51.3 L504 51.3 L504 173.9 L318.4 173.9 Z" fill="none" stroke="#111" stroke-width="1.2"/>
<line x1="316.0" y1="173.80" x2="318.4" y2="173.80" stroke="#111" stroke-width="0.9"/>
<text x="313.20" y="176.50" font-size="7.30" text-anchor="end" fill="#1a1a1a" font-weight="normal" stroke="#1a1a1a" stroke-width="0.18" textLength="18.20" lengthAdjust="spacingAndGlyphs">1E+0</text>
<line x1="317.2" y1="169.71" x2="318.4" y2="169.71" stroke="#111" stroke-width="0.6"/>
<line x1="317.2" y1="167.31" x2="318.4" y2="167.31" stroke="#111" stroke-width="0.6"/>
<line x1="317.2" y1="165.61" x2="318.4" y2="165.61" stroke="#111" stroke-width="0.6"/>
<line x1="317.2" y1="164.29" x2="318.4" y2="164.29" stroke="#111" stroke-width="0.6"/>
<line x1="317.2" y1="163.22" x2="318.4" y2="163.22" stroke="#111" stroke-width="0.6"/>
<line x1="317.2" y1="162.31" x2="318.4" y2="162.31" stroke="#111" stroke-width="0.6"/>
<line x1="317.2" y1="161.52" x2="318.4" y2="161.52" stroke="#111" stroke-width="0.6"/>
<line x1="317.2" y1="160.82" x2="318.4" y2="160.82" stroke="#111" stroke-width="0.6"/>
<line x1="316.0" y1="160.20" x2="318.4" y2="160.20" stroke="#111" stroke-width="0.9"/>
<text x="313.20" y="162.90" font-size="7.30" text-anchor="end" fill="#1a1a1a" font-weight="normal" stroke="#1a1a1a" stroke-width="0.18" textLength="18.20" lengthAdjust="spacingAndGlyphs">1E+1</text>
<line x1="317.2" y1="156.11" x2="318.4" y2="156.11" stroke="#111" stroke-width="0.6"/>
<line x1="317.2" y1="153.71" x2="318.4" y2="153.71" stroke="#111" stroke-width="0.6"/>
<line x1="317.2" y1="152.01" x2="318.4" y2="152.01" stroke="#111" stroke-width="0.6"/>
<line x1="317.2" y1="150.69" x2="318.4" y2="150.69" stroke="#111" stroke-width="0.6"/>
<line x1="317.2" y1="149.62" x2="318.4" y2="149.62" stroke="#111" stroke-width="0.6"/>
<line x1="317.2" y1="148.71" x2="318.4" y2="148.71" stroke="#111" stroke-width="0.6"/>
<line x1="317.2" y1="147.92" x2="318.4" y2="147.92" stroke="#111" stroke-width="0.6"/>
<line x1="317.2" y1="147.22" x2="318.4" y2="147.22" stroke="#111" stroke-width="0.6"/>
<line x1="316.0" y1="146.60" x2="318.4" y2="146.60" stroke="#111" stroke-width="0.9"/>
<text x="313.20" y="149.30" font-size="7.30" text-anchor="end" fill="#1a1a1a" font-weight="normal" stroke="#1a1a1a" stroke-width="0.18" textLength="18.20" lengthAdjust="spacingAndGlyphs">1E+2</text>
<line x1="317.2" y1="142.51" x2="318.4" y2="142.51" stroke="#111" stroke-width="0.6"/>
<line x1="317.2" y1="140.11" x2="318.4" y2="140.11" stroke="#111" stroke-width="0.6"/>
<line x1="317.2" y1="138.41" x2="318.4" y2="138.41" stroke="#111" stroke-width="0.6"/>
<line x1="317.2" y1="137.09" x2="318.4" y2="137.09" stroke="#111" stroke-width="0.6"/>
<line x1="317.2" y1="136.02" x2="318.4" y2="136.02" stroke="#111" stroke-width="0.6"/>
<line x1="317.2" y1="135.11" x2="318.4" y2="135.11" stroke="#111" stroke-width="0.6"/>
<line x1="317.2" y1="134.32" x2="318.4" y2="134.32" stroke="#111" stroke-width="0.6"/>
<line x1="317.2" y1="133.62" x2="318.4" y2="133.62" stroke="#111" stroke-width="0.6"/>
<line x1="316.0" y1="133.00" x2="318.4" y2="133.00" stroke="#111" stroke-width="0.9"/>
<text x="313.20" y="135.70" font-size="7.30" text-anchor="end" fill="#1a1a1a" font-weight="normal" stroke="#1a1a1a" stroke-width="0.18" textLength="18.20" lengthAdjust="spacingAndGlyphs">1E+3</text>
<line x1="317.2" y1="128.91" x2="318.4" y2="128.91" stroke="#111" stroke-width="0.6"/>
<line x1="317.2" y1="126.51" x2="318.4" y2="126.51" stroke="#111" stroke-width="0.6"/>
<line x1="317.2" y1="124.81" x2="318.4" y2="124.81" stroke="#111" stroke-width="0.6"/>
<line x1="317.2" y1="123.49" x2="318.4" y2="123.49" stroke="#111" stroke-width="0.6"/>
<line x1="317.2" y1="122.42" x2="318.4" y2="122.42" stroke="#111" stroke-width="0.6"/>
<line x1="317.2" y1="121.51" x2="318.4" y2="121.51" stroke="#111" stroke-width="0.6"/>
<line x1="317.2" y1="120.72" x2="318.4" y2="120.72" stroke="#111" stroke-width="0.6"/>
<line x1="317.2" y1="120.02" x2="318.4" y2="120.02" stroke="#111" stroke-width="0.6"/>
<line x1="316.0" y1="119.40" x2="318.4" y2="119.40" stroke="#111" stroke-width="0.9"/>
<text x="313.20" y="122.10" font-size="7.30" text-anchor="end" fill="#1a1a1a" font-weight="normal" stroke="#1a1a1a" stroke-width="0.18" textLength="18.20" lengthAdjust="spacingAndGlyphs">1E+4</text>
<line x1="317.2" y1="115.31" x2="318.4" y2="115.31" stroke="#111" stroke-width="0.6"/>
<line x1="317.2" y1="112.91" x2="318.4" y2="112.91" stroke="#111" stroke-width="0.6"/>
<line x1="317.2" y1="111.21" x2="318.4" y2="111.21" stroke="#111" stroke-width="0.6"/>
<line x1="317.2" y1="109.89" x2="318.4" y2="109.89" stroke="#111" stroke-width="0.6"/>
<line x1="317.2" y1="108.82" x2="318.4" y2="108.82" stroke="#111" stroke-width="0.6"/>
<line x1="317.2" y1="107.91" x2="318.4" y2="107.91" stroke="#111" stroke-width="0.6"/>
<line x1="317.2" y1="107.12" x2="318.4" y2="107.12" stroke="#111" stroke-width="0.6"/>
<line x1="317.2" y1="106.42" x2="318.4" y2="106.42" stroke="#111" stroke-width="0.6"/>
<line x1="316.0" y1="105.80" x2="318.4" y2="105.80" stroke="#111" stroke-width="0.9"/>
<text x="313.20" y="108.50" font-size="7.30" text-anchor="end" fill="#1a1a1a" font-weight="normal" stroke="#1a1a1a" stroke-width="0.18" textLength="18.20" lengthAdjust="spacingAndGlyphs">1E+5</text>
<line x1="317.2" y1="101.71" x2="318.4" y2="101.71" stroke="#111" stroke-width="0.6"/>
<line x1="317.2" y1="99.31" x2="318.4" y2="99.31" stroke="#111" stroke-width="0.6"/>
<line x1="317.2" y1="97.61" x2="318.4" y2="97.61" stroke="#111" stroke-width="0.6"/>
<line x1="317.2" y1="96.29" x2="318.4" y2="96.29" stroke="#111" stroke-width="0.6"/>
<line x1="317.2" y1="95.22" x2="318.4" y2="95.22" stroke="#111" stroke-width="0.6"/>
<line x1="317.2" y1="94.31" x2="318.4" y2="94.31" stroke="#111" stroke-width="0.6"/>
<line x1="317.2" y1="93.52" x2="318.4" y2="93.52" stroke="#111" stroke-width="0.6"/>
<line x1="317.2" y1="92.82" x2="318.4" y2="92.82" stroke="#111" stroke-width="0.6"/>
<line x1="316.0" y1="92.20" x2="318.4" y2="92.20" stroke="#111" stroke-width="0.9"/>
<text x="313.20" y="94.90" font-size="7.30" text-anchor="end" fill="#1a1a1a" font-weight="normal" stroke="#1a1a1a" stroke-width="0.18" textLength="18.20" lengthAdjust="spacingAndGlyphs">1E+6</text>
<line x1="317.2" y1="88.11" x2="318.4" y2="88.11" stroke="#111" stroke-width="0.6"/>
<line x1="317.2" y1="85.71" x2="318.4" y2="85.71" stroke="#111" stroke-width="0.6"/>
<line x1="317.2" y1="84.01" x2="318.4" y2="84.01" stroke="#111" stroke-width="0.6"/>
<line x1="317.2" y1="82.69" x2="318.4" y2="82.69" stroke="#111" stroke-width="0.6"/>
<line x1="317.2" y1="81.62" x2="318.4" y2="81.62" stroke="#111" stroke-width="0.6"/>
<line x1="317.2" y1="80.71" x2="318.4" y2="80.71" stroke="#111" stroke-width="0.6"/>
<line x1="317.2" y1="79.92" x2="318.4" y2="79.92" stroke="#111" stroke-width="0.6"/>
<line x1="317.2" y1="79.22" x2="318.4" y2="79.22" stroke="#111" stroke-width="0.6"/>
<line x1="316.0" y1="78.60" x2="318.4" y2="78.60" stroke="#111" stroke-width="0.9"/>
<text x="313.20" y="81.30" font-size="7.30" text-anchor="end" fill="#1a1a1a" font-weight="normal" stroke="#1a1a1a" stroke-width="0.18" textLength="18.20" lengthAdjust="spacingAndGlyphs">1E+7</text>
<line x1="317.2" y1="74.51" x2="318.4" y2="74.51" stroke="#111" stroke-width="0.6"/>
<line x1="317.2" y1="72.11" x2="318.4" y2="72.11" stroke="#111" stroke-width="0.6"/>
<line x1="317.2" y1="70.41" x2="318.4" y2="70.41" stroke="#111" stroke-width="0.6"/>
<line x1="317.2" y1="69.09" x2="318.4" y2="69.09" stroke="#111" stroke-width="0.6"/>
<line x1="317.2" y1="68.02" x2="318.4" y2="68.02" stroke="#111" stroke-width="0.6"/>
<line x1="317.2" y1="67.11" x2="318.4" y2="67.11" stroke="#111" stroke-width="0.6"/>
<line x1="317.2" y1="66.32" x2="318.4" y2="66.32" stroke="#111" stroke-width="0.6"/>
<line x1="317.2" y1="65.62" x2="318.4" y2="65.62" stroke="#111" stroke-width="0.6"/>
<line x1="316.0" y1="65.00" x2="318.4" y2="65.00" stroke="#111" stroke-width="0.9"/>
<text x="313.20" y="67.70" font-size="7.30" text-anchor="end" fill="#1a1a1a" font-weight="normal" stroke="#1a1a1a" stroke-width="0.18" textLength="18.20" lengthAdjust="spacingAndGlyphs">1E+8</text>
<line x1="317.2" y1="60.91" x2="318.4" y2="60.91" stroke="#111" stroke-width="0.6"/>
<line x1="317.2" y1="58.51" x2="318.4" y2="58.51" stroke="#111" stroke-width="0.6"/>
<line x1="317.2" y1="56.81" x2="318.4" y2="56.81" stroke="#111" stroke-width="0.6"/>
<line x1="317.2" y1="55.49" x2="318.4" y2="55.49" stroke="#111" stroke-width="0.6"/>
<line x1="317.2" y1="54.42" x2="318.4" y2="54.42" stroke="#111" stroke-width="0.6"/>
<line x1="317.2" y1="53.51" x2="318.4" y2="53.51" stroke="#111" stroke-width="0.6"/>
<line x1="317.2" y1="52.72" x2="318.4" y2="52.72" stroke="#111" stroke-width="0.6"/>
<line x1="317.2" y1="52.02" x2="318.4" y2="52.02" stroke="#111" stroke-width="0.6"/>
<line x1="316.0" y1="51.40" x2="318.4" y2="51.40" stroke="#111" stroke-width="0.9"/>
<text x="313.20" y="54.10" font-size="7.30" text-anchor="end" fill="#1a1a1a" font-weight="normal" stroke="#1a1a1a" stroke-width="0.18" textLength="18.20" lengthAdjust="spacingAndGlyphs">1E+9</text>
<line x1="318.40" y1="173.8" x2="318.40" y2="176.8" stroke="#111" stroke-width="0.9"/>
<text x="318.40" y="187.30" font-size="7.50" text-anchor="middle" fill="#1a1a1a" font-weight="normal" stroke="#1a1a1a" stroke-width="0.18">0</text>
<line x1="364.77" y1="173.8" x2="364.77" y2="176.8" stroke="#111" stroke-width="0.9"/>
<text x="364.77" y="187.30" font-size="7.50" text-anchor="middle" fill="#1a1a1a" font-weight="normal" stroke="#1a1a1a" stroke-width="0.18" textLength="17.70" lengthAdjust="spacingAndGlyphs">2000</text>
<line x1="411.15" y1="173.8" x2="411.15" y2="176.8" stroke="#111" stroke-width="0.9"/>
<text x="411.15" y="187.30" font-size="7.50" text-anchor="middle" fill="#1a1a1a" font-weight="normal" stroke="#1a1a1a" stroke-width="0.18" textLength="17.70" lengthAdjust="spacingAndGlyphs">4000</text>
<line x1="457.52" y1="173.8" x2="457.52" y2="176.8" stroke="#111" stroke-width="0.9"/>
<text x="457.52" y="187.30" font-size="7.50" text-anchor="middle" fill="#1a1a1a" font-weight="normal" stroke="#1a1a1a" stroke-width="0.18" textLength="17.70" lengthAdjust="spacingAndGlyphs">6000</text>
<line x1="503.90" y1="173.8" x2="503.90" y2="176.8" stroke="#111" stroke-width="0.9"/>
<text x="503.90" y="187.30" font-size="7.50" text-anchor="middle" fill="#1a1a1a" font-weight="normal" stroke="#1a1a1a" stroke-width="0.18" textLength="17.70" lengthAdjust="spacingAndGlyphs">8000</text>
<line x1="341.59" y1="173.8" x2="341.59" y2="175.5" stroke="#111" stroke-width="0.7"/>
<line x1="387.96" y1="173.8" x2="387.96" y2="175.5" stroke="#111" stroke-width="0.7"/>
<line x1="434.34" y1="173.8" x2="434.34" y2="175.5" stroke="#111" stroke-width="0.7"/>
<line x1="480.71" y1="173.8" x2="480.71" y2="175.5" stroke="#111" stroke-width="0.7"/>
<text x="388.50" y="199.60" font-size="9.00" text-anchor="start" fill="#1a1a1a" font-weight="normal" stroke="#1a1a1a" stroke-width="0.18" textLength="45.30" lengthAdjust="spacingAndGlyphs">Ranked proteins</text>
<text x="288.20" y="148.70" font-size="9.00" text-anchor="start" fill="#1a1a1a" font-weight="normal" stroke="#1a1a1a" stroke-width="0.18" textLength="73.20" lengthAdjust="spacingAndGlyphs" transform="rotate(-90.00 288.20 148.70)">Protein copy number/cell</text>
<circle cx="327.30" cy="44.2" r="2.5" fill="#000000"/>
<text x="333.20" y="46.90" font-size="7.00" text-anchor="start" fill="#1a1a1a" font-weight="normal" stroke="#1a1a1a" stroke-width="0.18">Overall</text>
<circle cx="360.20" cy="44.2" r="2.5" fill="#1f9a3a"/>
<text x="365.60" y="46.90" font-size="7.00" text-anchor="start" fill="#1a1a1a" font-weight="normal" stroke="#1a1a1a" stroke-width="0.18">MEL</text>
<circle cx="386.20" cy="44.2" r="2.5" fill="#1f63b8"/>
<text x="391.20" y="46.90" font-size="7.00" text-anchor="start" fill="#1a1a1a" font-weight="normal" stroke="#1a1a1a" stroke-width="0.18">G1ER</text>
<circle cx="416.70" cy="44.2" r="2.5" fill="#e07a2a"/>
<text x="421.90" y="46.90" font-size="7.00" text-anchor="start" fill="#1a1a1a" font-weight="normal" stroke="#1a1a1a" stroke-width="0.18">MEDEP</text>
<circle cx="452.70" cy="44.2" r="2.5" fill="#cc2a1a"/>
<text x="458.40" y="46.90" font-size="7.00" text-anchor="start" fill="#1a1a1a" font-weight="normal" stroke="#1a1a1a" stroke-width="0.18">Primary cells</text>
<path d="M319.07 63.50 C319.09 64.58 319.11 67.92 319.17 70.00 C319.23 72.08 319.30 74.25 319.45 76.00 C319.61 77.75 319.82 79.17 320.12 80.50 C320.42 81.83 320.80 82.83 321.26 84.00 C321.72 85.17 322.18 86.38 322.88 87.50 C323.57 88.62 324.28 89.63 325.44 90.70 C326.60 91.77 328.33 92.98 329.81 93.90 C331.29 94.82 332.79 95.43 334.30 96.20 C335.81 96.97 337.37 97.73 338.90 98.50 C340.43 99.27 341.97 100.10 343.50 100.80 C345.03 101.50 346.02 102.00 348.10 102.70 C350.18 103.40 352.35 104.08 356.00 105.00 C359.65 105.92 364.33 107.05 370.00 108.20 C375.67 109.35 383.33 110.80 390.00 111.90 C396.67 113.00 404.17 113.93 410.00 114.80 C415.83 115.67 420.00 116.15 425.00 117.10 C430.00 118.05 434.83 119.35 440.00 120.50 C445.17 121.65 451.67 123.08 456.00 124.00 C460.33 124.92 463.33 125.33 466.00 126.00 C468.67 126.67 470.17 127.25 472.00 128.00 C473.83 128.75 475.58 129.67 477.00 130.50 C478.42 131.33 479.42 131.92 480.50 133.00 C481.58 134.08 482.72 135.58 483.50 137.00 C484.28 138.42 484.80 140.00 485.20 141.50 C485.60 143.00 485.77 144.33 485.90 146.00 C486.03 147.67 485.98 150.58 486.00 151.50" fill="none" stroke="#000" stroke-width="1.80" stroke-linecap="butt"/>
<path d="M318.88 64.00 C318.90 65.33 318.90 69.67 318.98 72.00 C319.06 74.33 319.19 76.33 319.36 78.00 C319.53 79.67 319.71 80.72 320.02 82.00 C320.34 83.28 320.78 84.53 321.26 85.70 C321.74 86.87 322.18 87.92 322.88 89.00 C323.57 90.08 324.28 91.13 325.44 92.20 C326.60 93.27 328.33 94.48 329.81 95.40 C331.29 96.32 332.79 96.93 334.30 97.70 C335.81 98.47 337.37 99.23 338.90 100.00 C340.43 100.77 341.97 101.60 343.50 102.30 C345.03 103.00 346.02 103.50 348.10 104.20 C350.18 104.90 352.35 105.57 356.00 106.50 C359.65 107.43 364.33 108.63 370.00 109.80 C375.67 110.97 383.33 112.35 390.00 113.50 C396.67 114.65 404.17 115.75 410.00 116.70 C415.83 117.65 420.00 118.10 425.00 119.20 C430.00 120.30 435.83 122.00 440.00 123.30 C444.17 124.60 447.33 125.93 450.00 127.00 C452.67 128.07 454.33 128.82 456.00 129.70 C457.67 130.58 458.92 131.45 460.00 132.30 C461.08 133.15 461.78 133.85 462.50 134.80 C463.22 135.75 463.87 136.80 464.30 138.00 C464.73 139.20 464.92 140.67 465.10 142.00 C465.28 143.33 465.35 145.33 465.40 146.00" fill="none" stroke="#12a84a" stroke-width="1.80" stroke-linecap="butt"/>
<path d="M318.60 64.00 C318.62 65.33 318.63 69.17 318.70 72.00 C318.76 74.83 318.81 78.58 318.98 81.00 C319.15 83.42 319.39 85.00 319.74 86.50 C320.09 88.00 320.50 88.85 321.07 90.00 C321.64 91.15 322.31 92.33 323.16 93.40 C324.01 94.47 325.06 95.53 326.20 96.40 C327.34 97.27 328.53 97.87 330.00 98.60 C331.47 99.33 333.33 100.10 335.00 100.80 C336.67 101.50 337.83 102.00 340.00 102.80 C342.17 103.60 345.33 104.77 348.00 105.60 C350.67 106.43 352.33 106.83 356.00 107.80 C359.67 108.77 364.33 110.02 370.00 111.40 C375.67 112.78 383.33 114.75 390.00 116.10 C396.67 117.45 404.17 118.48 410.00 119.50 C415.83 120.52 420.00 120.92 425.00 122.20 C430.00 123.48 436.50 125.93 440.00 127.20 C443.50 128.47 444.40 128.95 446.00 129.80 C447.60 130.65 448.72 131.43 449.60 132.30 C450.48 133.17 450.90 134.13 451.30 135.00 C451.70 135.87 451.83 136.67 452.00 137.50 C452.17 138.33 452.25 139.58 452.30 140.00" fill="none" stroke="#2f7fd0" stroke-width="1.70" stroke-linecap="butt"/>
<path d="M318.60 64.50 C318.62 65.75 318.63 69.08 318.70 72.00 C318.76 74.92 318.81 79.42 318.98 82.00 C319.15 84.58 319.39 86.00 319.74 87.50 C320.09 89.00 320.47 89.82 321.07 91.00 C321.67 92.18 322.50 93.55 323.35 94.60 C324.21 95.65 325.09 96.48 326.20 97.30 C327.31 98.12 328.53 98.77 330.00 99.50 C331.47 100.23 333.33 101.00 335.00 101.70 C336.67 102.40 337.83 102.90 340.00 103.70 C342.17 104.50 345.33 105.67 348.00 106.50 C350.67 107.33 352.33 107.72 356.00 108.70 C359.67 109.68 364.33 111.00 370.00 112.40 C375.67 113.80 383.33 115.73 390.00 117.10 C396.67 118.47 404.17 119.53 410.00 120.60 C415.83 121.67 420.00 122.13 425.00 123.50 C430.00 124.87 436.50 127.50 440.00 128.80 C443.50 130.10 444.40 130.47 446.00 131.30 C447.60 132.13 448.67 132.85 449.60 133.80 C450.53 134.75 451.10 135.88 451.60 137.00 C452.10 138.12 452.37 139.33 452.60 140.50 C452.83 141.67 452.90 142.75 453.00 144.00 C453.10 145.25 453.17 147.33 453.20 148.00" fill="none" stroke="#f08a2c" stroke-width="1.90" stroke-linecap="butt"/>
<path d="M318.60 63.50 C318.62 64.92 318.63 69.25 318.70 72.00 C318.76 74.75 318.84 77.83 318.98 80.00 C319.12 82.17 319.26 83.53 319.55 85.00 C319.84 86.47 320.22 87.63 320.69 88.80 C321.16 89.97 321.64 90.97 322.40 92.00 C323.16 93.03 323.98 94.03 325.25 95.00 C326.52 95.97 328.38 96.97 330.00 97.80 C331.62 98.63 333.33 99.30 335.00 100.00 C336.67 100.70 337.83 101.20 340.00 102.00 C342.17 102.80 345.33 103.97 348.00 104.80 C350.67 105.63 352.33 106.05 356.00 107.00 C359.67 107.95 364.33 109.17 370.00 110.50 C375.67 111.83 383.33 113.70 390.00 115.00 C396.67 116.30 404.17 117.32 410.00 118.30 C415.83 119.28 420.00 119.70 425.00 120.90 C430.00 122.10 435.83 124.07 440.00 125.50 C444.17 126.93 447.33 128.27 450.00 129.50 C452.67 130.73 454.33 131.82 456.00 132.90 C457.67 133.98 459.03 134.98 460.00 136.00 C460.97 137.02 461.30 137.75 461.80 139.00 C462.30 140.25 462.72 141.50 463.00 143.50 C463.28 145.50 463.42 149.75 463.50 151.00" fill="none" stroke="#f01010" stroke-width="1.80" stroke-linecap="butt"/>
<circle cx="486" cy="155.4" r="0.9" fill="#000"/>
<circle cx="463.6" cy="155.4" r="0.9" fill="#f01010"/>
<line x1="465.5" y1="147" x2="465.6" y2="151" stroke="#12a84a" stroke-width="1" stroke-dasharray="1 1"/>
<line x1="453.2" y1="144" x2="453.3" y2="149" stroke="#f08a2c" stroke-width="0.8" stroke-dasharray="0.8 1"/>
<g filter="url(#gb)" fill="#2a2a2a">
<text transform="translate(322.30 62.40) scale(0.25)" font-size="17">Hbb</text>
<text transform="translate(322.30 66.40) scale(0.25)" font-size="17">H4</text>
<text transform="translate(322.30 70.60) scale(0.25)" font-size="17">Hba</text>
<text transform="translate(322.30 82.10) scale(0.25)" font-size="17">Fth1</text>
<text transform="translate(327.50 87.00) scale(0.25)" font-size="17">Tfrc</text>
<text transform="translate(335.50 94.40) scale(0.25)" font-size="17">Stat5a</text>
<text transform="translate(344.10 97.90) scale(0.25)" font-size="17">Fech</text>
<text transform="translate(368.00 105.60) scale(0.25)" font-size="17">Kit</text>
<text transform="translate(377.90 106.70) scale(0.25)" font-size="17">Gata1</text>
<text transform="translate(390.20 109.40) scale(0.25)" font-size="17">Alas2</text>
<text transform="translate(401.30 112.10) scale(0.25)" font-size="17">Bcl-Xl</text>
<text transform="translate(413.00 113.60) scale(0.25)" font-size="17">Glut1</text>
<text transform="translate(440.00 118.80) scale(0.25)" font-size="17">Stat5b</text>
<text transform="translate(458.00 122.20) scale(0.25)" font-size="17">EpoR</text>
<text transform="translate(470.80 122.20) scale(0.25)" font-size="17">Thr3</text>
<text transform="translate(472.00 126.50) scale(0.25)" font-size="17">Myh</text>
<text transform="translate(482.00 130.00) scale(0.25)" font-size="17">Erfe</text>
<text transform="translate(484.00 135.90) scale(0.25)" font-size="17">Jak2</text>
<text transform="translate(489.40 148.00) scale(0.25)" font-size="17">Tet3</text>
</g></g>
<g><text x="155.60" y="248.20" font-size="11.50" text-anchor="start" fill="#000" font-weight="bold">C</text>
<path d="M260.00 338.00 L260.00 261.70 A76.30 76.30 0 0 1 328.87 370.85 Z" fill="#5b9bd5" stroke="#fff" stroke-width="0.9" stroke-linejoin="round"/>
<path d="M260.00 338.00 L328.87 370.85 A76.30 76.30 0 0 1 294.64 405.98 Z" fill="#d9762e" stroke="#fff" stroke-width="0.9" stroke-linejoin="round"/>
<path d="M260.00 338.00 L294.64 405.98 A76.30 76.30 0 0 1 282.31 410.97 Z" fill="#a6a6a6" stroke="#fff" stroke-width="0.9" stroke-linejoin="round"/>
<path d="M260.00 338.00 L282.31 410.97 A76.30 76.30 0 0 1 184.75 350.59 Z" fill="#e9b423" stroke="#fff" stroke-width="0.9" stroke-linejoin="round"/>
<path d="M260.00 338.00 L184.75 350.59 A76.30 76.30 0 0 1 185.75 320.45 Z" fill="#f9e09a" stroke="#fff" stroke-width="0.9" stroke-linejoin="round"/>
<path d="M260.00 338.00 L185.75 320.45 A76.30 76.30 0 0 1 217.00 274.97 Z" fill="#6fac46" stroke="#fff" stroke-width="0.9" stroke-linejoin="round"/>
<path d="M260.00 338.00 L217.00 274.97 A76.30 76.30 0 0 1 237.06 265.23 Z" fill="#255e91" stroke="#fff" stroke-width="0.9" stroke-linejoin="round"/>
<path d="M260.00 338.00 L237.06 265.23 A76.30 76.30 0 0 1 260.00 261.70 Z" fill="#9e480e" stroke="#fff" stroke-width="0.9" stroke-linejoin="round"/>
<text x="207.50" y="257.50" font-size="7.40" text-anchor="middle" fill="#222" font-weight="normal" stroke="#222" stroke-width="0.18">Endoplasmic</text>
<text x="207.50" y="266.70" font-size="7.40" text-anchor="middle" fill="#222" font-weight="normal" stroke="#222" stroke-width="0.18">reticulum</text>
<text x="0" y="0" font-size="7.40" text-anchor="middle" fill="#fff" stroke="#fff" stroke-width="0.08" transform="translate(252.20 292.50) rotate(86.70)" dominant-baseline="central">Golgi apparatus</text>
<text x="0" y="0" font-size="7.50" text-anchor="middle" fill="#fff" stroke="#fff" stroke-width="0.08" transform="translate(298.80 316.70) rotate(-23.50)" dominant-baseline="central">Cytoplasma</text>
<text x="0" y="0" font-size="7.40" text-anchor="middle" fill="#fff" stroke="#fff" stroke-width="0.08" transform="translate(302.50 370.80) rotate(39.00)" dominant-baseline="central">Plasma</text>
<text x="0" y="0" font-size="7.40" text-anchor="middle" fill="#fff" stroke="#fff" stroke-width="0.08" transform="translate(296.30 379.00) rotate(36.00)" dominant-baseline="central">membrane</text>
<text x="0" y="0" font-size="7.40" text-anchor="middle" fill="#111" stroke="#111" stroke-width="0.16" transform="translate(232.40 379.80) rotate(-52.00)" dominant-baseline="central">Nucleus</text>
<text x="0" y="0" font-size="7.30" text-anchor="middle" fill="#111" stroke="#111" stroke-width="0.16" transform="translate(201.00 335.80) rotate(2.00)" dominant-baseline="central">Nucleolus</text>
<text x="0" y="0" font-size="7.40" text-anchor="middle" fill="#111" stroke="#111" stroke-width="0.16" transform="translate(219.10 310.70) rotate(29.00)" dominant-baseline="central">Mitochondrion</text>
<text x="310.70" y="417.90" font-size="7.30" text-anchor="middle" fill="#222" font-weight="normal" stroke="#222" stroke-width="0.18">Extracellular</text>
<text x="310.70" y="427.10" font-size="7.30" text-anchor="middle" fill="#222" font-weight="normal" stroke="#222" stroke-width="0.18">space</text></g>
<rect x="0.5" y="0.5" width="519" height="435" fill="none" stroke="#000" stroke-width="1.2"/>
</svg>
</body></html>
